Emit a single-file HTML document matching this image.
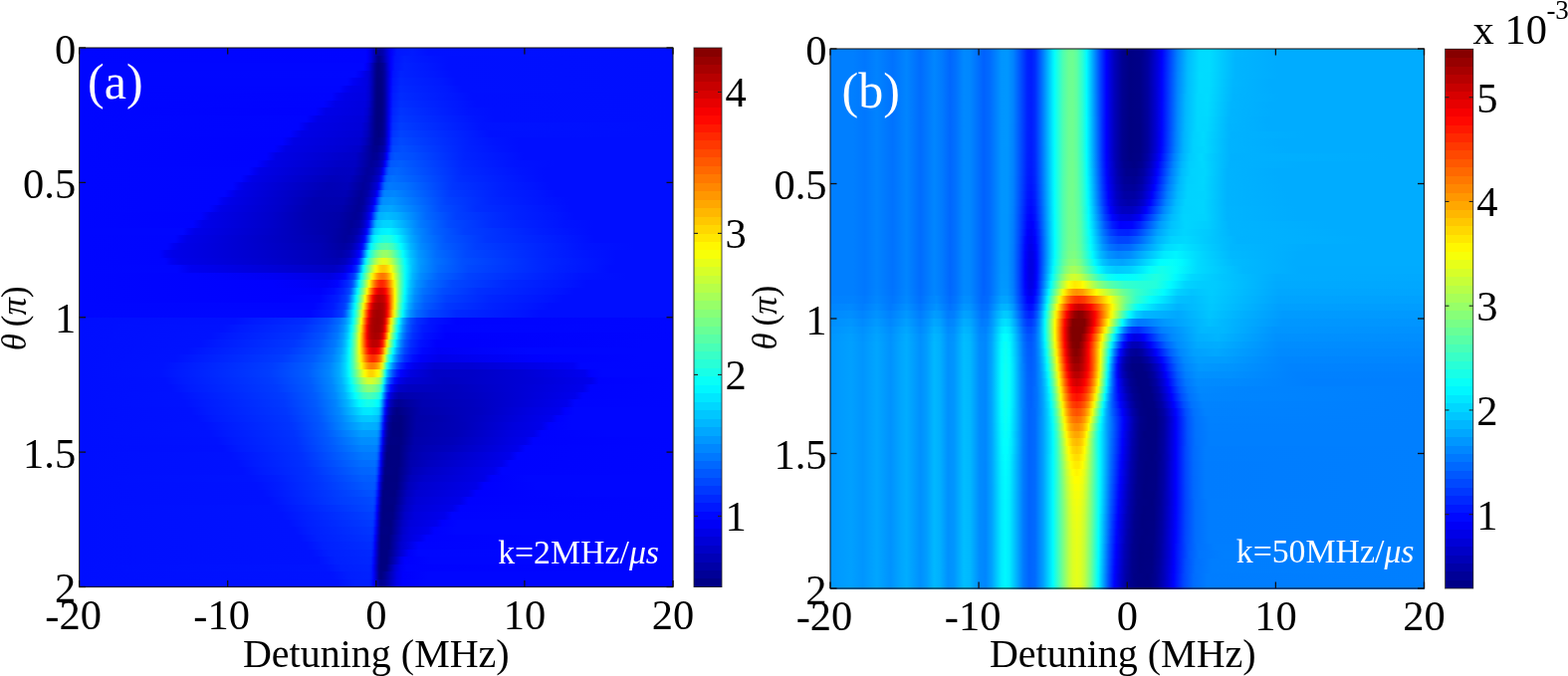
<!DOCTYPE html>
<html><head><meta charset="utf-8"><style>
html,body{margin:0;padding:0;background:#fff;width:1575px;height:679px;overflow:hidden}
svg{display:block}
text{font-family:"Liberation Serif","Times New Roman",serif;fill:#000}
.tk{font-size:42.5px}
.lb{font-size:40px}
.yl{font-size:35px}
.pn{font-size:50px;fill:#fff}
.kt{font-size:33.8px;fill:#fff}
.it{font-style:italic}
</style></head><body>
<svg width="1575" height="679" viewBox="0 0 1575 679" shape-rendering="crispEdges">
<defs>
<linearGradient id="ga0"><stop offset="0.0017" stop-color="#0006ff"/><stop offset="0.4817" stop-color="#0004ff"/><stop offset="0.4850" stop-color="#0000fe"/><stop offset="0.4917" stop-color="#0000e0"/><stop offset="0.4983" stop-color="#0000b0"/><stop offset="0.5017" stop-color="#00009f"/><stop offset="0.5050" stop-color="#00009c"/><stop offset="0.5117" stop-color="#0000ae"/><stop offset="0.5250" stop-color="#0000fd"/><stop offset="0.5350" stop-color="#0017ff"/><stop offset="0.5617" stop-color="#001aff"/><stop offset="0.5883" stop-color="#0011ff"/><stop offset="0.9983" stop-color="#000eff"/></linearGradient>
<linearGradient id="ga1"><stop offset="0.0017" stop-color="#0006ff"/><stop offset="0.4817" stop-color="#0004ff"/><stop offset="0.4850" stop-color="#0000fe"/><stop offset="0.4917" stop-color="#0000e0"/><stop offset="0.5017" stop-color="#000091"/><stop offset="0.5050" stop-color="#000088"/><stop offset="0.5117" stop-color="#0000a5"/><stop offset="0.5250" stop-color="#0000ff"/><stop offset="0.5317" stop-color="#0014ff"/><stop offset="0.5483" stop-color="#001eff"/><stop offset="0.5783" stop-color="#0017ff"/><stop offset="0.6217" stop-color="#0010ff"/><stop offset="0.9983" stop-color="#000eff"/></linearGradient>
<linearGradient id="ga2"><stop offset="0.0017" stop-color="#0006ff"/><stop offset="0.4783" stop-color="#0006ff"/><stop offset="0.4817" stop-color="#0001ff"/><stop offset="0.4883" stop-color="#0000e4"/><stop offset="0.4983" stop-color="#000094"/><stop offset="0.5017" stop-color="#000083"/><stop offset="0.5050" stop-color="#000080"/><stop offset="0.5117" stop-color="#000092"/><stop offset="0.5150" stop-color="#0000a7"/><stop offset="0.5217" stop-color="#0000e7"/><stop offset="0.5250" stop-color="#0000ff"/><stop offset="0.5317" stop-color="#0016ff"/><stop offset="0.5483" stop-color="#0020ff"/><stop offset="0.5883" stop-color="#0018ff"/><stop offset="0.6217" stop-color="#0010ff"/><stop offset="0.9983" stop-color="#000eff"/></linearGradient>
<linearGradient id="ga3"><stop offset="0.0017" stop-color="#0006ff"/><stop offset="0.4650" stop-color="#0007ff"/><stop offset="0.4750" stop-color="#0000f6"/><stop offset="0.4883" stop-color="#0000d6"/><stop offset="0.4950" stop-color="#0000ab"/><stop offset="0.4983" stop-color="#000092"/><stop offset="0.5017" stop-color="#000081"/><stop offset="0.5083" stop-color="#000084"/><stop offset="0.5117" stop-color="#000090"/><stop offset="0.5150" stop-color="#0000a4"/><stop offset="0.5250" stop-color="#0000ff"/><stop offset="0.5283" stop-color="#0012ff"/><stop offset="0.5417" stop-color="#0022ff"/><stop offset="0.5983" stop-color="#0018ff"/><stop offset="0.6283" stop-color="#0010ff"/><stop offset="0.9983" stop-color="#000eff"/></linearGradient>
<linearGradient id="ga4"><stop offset="0.0017" stop-color="#0006ff"/><stop offset="0.4517" stop-color="#0006ff"/><stop offset="0.4617" stop-color="#0000f5"/><stop offset="0.4750" stop-color="#0000e9"/><stop offset="0.4850" stop-color="#0000e0"/><stop offset="0.4917" stop-color="#0000c2"/><stop offset="0.4983" stop-color="#000090"/><stop offset="0.5017" stop-color="#000080"/><stop offset="0.5083" stop-color="#000082"/><stop offset="0.5117" stop-color="#00008e"/><stop offset="0.5150" stop-color="#0000a3"/><stop offset="0.5217" stop-color="#0000e5"/><stop offset="0.5250" stop-color="#0003ff"/><stop offset="0.5283" stop-color="#0015ff"/><stop offset="0.5417" stop-color="#0025ff"/><stop offset="0.6083" stop-color="#0019ff"/><stop offset="0.6350" stop-color="#0010ff"/><stop offset="0.9983" stop-color="#000eff"/></linearGradient>
<linearGradient id="ga5"><stop offset="0.0017" stop-color="#0006ff"/><stop offset="0.4383" stop-color="#0005ff"/><stop offset="0.4483" stop-color="#0000f4"/><stop offset="0.4583" stop-color="#0000ea"/><stop offset="0.4817" stop-color="#0000e4"/><stop offset="0.4883" stop-color="#0000d2"/><stop offset="0.4950" stop-color="#0000a7"/><stop offset="0.4983" stop-color="#00008e"/><stop offset="0.5017" stop-color="#000080"/><stop offset="0.5083" stop-color="#000081"/><stop offset="0.5117" stop-color="#00008d"/><stop offset="0.5150" stop-color="#0000a2"/><stop offset="0.5217" stop-color="#0000e6"/><stop offset="0.5250" stop-color="#0006ff"/><stop offset="0.5283" stop-color="#0018ff"/><stop offset="0.5417" stop-color="#0028ff"/><stop offset="0.6183" stop-color="#0019ff"/><stop offset="0.6450" stop-color="#0010ff"/><stop offset="0.9983" stop-color="#000eff"/></linearGradient>
<linearGradient id="ga6"><stop offset="0.0017" stop-color="#0006ff"/><stop offset="0.4250" stop-color="#0004ff"/><stop offset="0.4350" stop-color="#0000f3"/><stop offset="0.4483" stop-color="#0000e8"/><stop offset="0.4817" stop-color="#0000e2"/><stop offset="0.4883" stop-color="#0000d1"/><stop offset="0.4950" stop-color="#0000a6"/><stop offset="0.4983" stop-color="#00008d"/><stop offset="0.5017" stop-color="#000080"/><stop offset="0.5083" stop-color="#000080"/><stop offset="0.5117" stop-color="#00008b"/><stop offset="0.5150" stop-color="#0000a1"/><stop offset="0.5217" stop-color="#0000e8"/><stop offset="0.5250" stop-color="#0009ff"/><stop offset="0.5283" stop-color="#001cff"/><stop offset="0.5417" stop-color="#002bff"/><stop offset="0.6317" stop-color="#0017ff"/><stop offset="0.6617" stop-color="#000fff"/><stop offset="0.9983" stop-color="#000eff"/></linearGradient>
<linearGradient id="ga7"><stop offset="0.0017" stop-color="#0006ff"/><stop offset="0.4117" stop-color="#0003ff"/><stop offset="0.4317" stop-color="#0000e8"/><stop offset="0.4817" stop-color="#0000de"/><stop offset="0.4883" stop-color="#0000cb"/><stop offset="0.4983" stop-color="#00008b"/><stop offset="0.5017" stop-color="#000080"/><stop offset="0.5083" stop-color="#000080"/><stop offset="0.5117" stop-color="#00008b"/><stop offset="0.5150" stop-color="#0000a1"/><stop offset="0.5217" stop-color="#0000ea"/><stop offset="0.5250" stop-color="#000cff"/><stop offset="0.5283" stop-color="#0020ff"/><stop offset="0.5417" stop-color="#002fff"/><stop offset="0.6417" stop-color="#0017ff"/><stop offset="0.6683" stop-color="#000fff"/><stop offset="0.9983" stop-color="#000eff"/></linearGradient>
<linearGradient id="ga8"><stop offset="0.0017" stop-color="#0006ff"/><stop offset="0.3983" stop-color="#0002ff"/><stop offset="0.4150" stop-color="#0000e8"/><stop offset="0.4783" stop-color="#0000de"/><stop offset="0.4850" stop-color="#0000d1"/><stop offset="0.4917" stop-color="#0000b1"/><stop offset="0.4983" stop-color="#000089"/><stop offset="0.5017" stop-color="#000080"/><stop offset="0.5083" stop-color="#000081"/><stop offset="0.5117" stop-color="#00008c"/><stop offset="0.5150" stop-color="#0000a2"/><stop offset="0.5217" stop-color="#0000ed"/><stop offset="0.5250" stop-color="#0010ff"/><stop offset="0.5283" stop-color="#0024ff"/><stop offset="0.5417" stop-color="#0034ff"/><stop offset="0.6550" stop-color="#0014ff"/><stop offset="0.6983" stop-color="#000fff"/><stop offset="0.9983" stop-color="#000eff"/></linearGradient>
<linearGradient id="ga9"><stop offset="0.0017" stop-color="#0006ff"/><stop offset="0.3817" stop-color="#0004ff"/><stop offset="0.3917" stop-color="#0000f5"/><stop offset="0.4017" stop-color="#0000e7"/><stop offset="0.4783" stop-color="#0000da"/><stop offset="0.4850" stop-color="#0000cb"/><stop offset="0.4983" stop-color="#000088"/><stop offset="0.5017" stop-color="#000080"/><stop offset="0.5083" stop-color="#000082"/><stop offset="0.5117" stop-color="#00008d"/><stop offset="0.5150" stop-color="#0000a3"/><stop offset="0.5217" stop-color="#0000f1"/><stop offset="0.5250" stop-color="#0014ff"/><stop offset="0.5283" stop-color="#0029ff"/><stop offset="0.5417" stop-color="#0038ff"/><stop offset="0.6650" stop-color="#0015ff"/><stop offset="0.6983" stop-color="#000fff"/><stop offset="0.9983" stop-color="#000eff"/></linearGradient>
<linearGradient id="ga10"><stop offset="0.0017" stop-color="#0006ff"/><stop offset="0.3683" stop-color="#0004ff"/><stop offset="0.3783" stop-color="#0000f3"/><stop offset="0.3883" stop-color="#0000e6"/><stop offset="0.4750" stop-color="#0000d9"/><stop offset="0.4850" stop-color="#0000c4"/><stop offset="0.4983" stop-color="#000088"/><stop offset="0.5017" stop-color="#000080"/><stop offset="0.5083" stop-color="#000084"/><stop offset="0.5117" stop-color="#00008f"/><stop offset="0.5150" stop-color="#0000a5"/><stop offset="0.5217" stop-color="#0000f4"/><stop offset="0.5250" stop-color="#0019ff"/><stop offset="0.5283" stop-color="#002eff"/><stop offset="0.5417" stop-color="#003dff"/><stop offset="0.6783" stop-color="#0013ff"/><stop offset="0.9983" stop-color="#000eff"/></linearGradient>
<linearGradient id="ga11"><stop offset="0.0017" stop-color="#0006ff"/><stop offset="0.3550" stop-color="#0003ff"/><stop offset="0.3750" stop-color="#0000e6"/><stop offset="0.4750" stop-color="#0000d4"/><stop offset="0.4850" stop-color="#0000bd"/><stop offset="0.4983" stop-color="#000087"/><stop offset="0.5050" stop-color="#000080"/><stop offset="0.5117" stop-color="#000092"/><stop offset="0.5150" stop-color="#0000a8"/><stop offset="0.5217" stop-color="#0000fa"/><stop offset="0.5250" stop-color="#0020ff"/><stop offset="0.5283" stop-color="#0035ff"/><stop offset="0.5417" stop-color="#0043ff"/><stop offset="0.6617" stop-color="#001cff"/><stop offset="0.6917" stop-color="#0011ff"/><stop offset="0.9983" stop-color="#000eff"/></linearGradient>
<linearGradient id="ga12"><stop offset="0.0017" stop-color="#0006ff"/><stop offset="0.3417" stop-color="#0002ff"/><stop offset="0.3617" stop-color="#0000e5"/><stop offset="0.4717" stop-color="#0000d1"/><stop offset="0.4817" stop-color="#0000be"/><stop offset="0.4983" stop-color="#000086"/><stop offset="0.5050" stop-color="#000087"/><stop offset="0.5117" stop-color="#000099"/><stop offset="0.5150" stop-color="#0000af"/><stop offset="0.5217" stop-color="#0003ff"/><stop offset="0.5250" stop-color="#0029ff"/><stop offset="0.5283" stop-color="#003eff"/><stop offset="0.5417" stop-color="#0049ff"/><stop offset="0.6583" stop-color="#001eff"/><stop offset="0.6983" stop-color="#0014ff"/><stop offset="0.7417" stop-color="#000eff"/><stop offset="0.9983" stop-color="#000eff"/></linearGradient>
<linearGradient id="ga13"><stop offset="0.0017" stop-color="#0006ff"/><stop offset="0.3283" stop-color="#0002ff"/><stop offset="0.3483" stop-color="#0000e5"/><stop offset="0.4483" stop-color="#0000d2"/><stop offset="0.4717" stop-color="#0000c9"/><stop offset="0.4950" stop-color="#00008f"/><stop offset="0.5017" stop-color="#00008c"/><stop offset="0.5117" stop-color="#0000a6"/><stop offset="0.5150" stop-color="#0000bc"/><stop offset="0.5183" stop-color="#0000e3"/><stop offset="0.5217" stop-color="#000fff"/><stop offset="0.5250" stop-color="#0033ff"/><stop offset="0.5283" stop-color="#0048ff"/><stop offset="0.5450" stop-color="#004fff"/><stop offset="0.6517" stop-color="#0021ff"/><stop offset="0.7083" stop-color="#0014ff"/><stop offset="0.7417" stop-color="#000eff"/><stop offset="0.9983" stop-color="#000eff"/></linearGradient>
<linearGradient id="ga14"><stop offset="0.0017" stop-color="#0006ff"/><stop offset="0.3150" stop-color="#0002ff"/><stop offset="0.3317" stop-color="#0000e6"/><stop offset="0.4383" stop-color="#0000cd"/><stop offset="0.4650" stop-color="#0000c8"/><stop offset="0.4817" stop-color="#0000ac"/><stop offset="0.4950" stop-color="#000092"/><stop offset="0.5017" stop-color="#000096"/><stop offset="0.5117" stop-color="#0000b7"/><stop offset="0.5150" stop-color="#0000d6"/><stop offset="0.5183" stop-color="#0001ff"/><stop offset="0.5217" stop-color="#002aff"/><stop offset="0.5250" stop-color="#0048ff"/><stop offset="0.5317" stop-color="#0055ff"/><stop offset="0.5617" stop-color="#004eff"/><stop offset="0.6483" stop-color="#0023ff"/><stop offset="0.7183" stop-color="#0015ff"/><stop offset="0.7483" stop-color="#000eff"/><stop offset="0.9983" stop-color="#000eff"/></linearGradient>
<linearGradient id="ga15"><stop offset="0.0017" stop-color="#0006ff"/><stop offset="0.2983" stop-color="#0004ff"/><stop offset="0.3083" stop-color="#0000f5"/><stop offset="0.3217" stop-color="#0000e5"/><stop offset="0.4350" stop-color="#0000c7"/><stop offset="0.4650" stop-color="#0000c3"/><stop offset="0.4917" stop-color="#000097"/><stop offset="0.5017" stop-color="#0000a2"/><stop offset="0.5083" stop-color="#0000b9"/><stop offset="0.5117" stop-color="#0000d1"/><stop offset="0.5150" stop-color="#0000f9"/><stop offset="0.5217" stop-color="#0048ff"/><stop offset="0.5250" stop-color="#0059ff"/><stop offset="0.5417" stop-color="#005eff"/><stop offset="0.6450" stop-color="#0027ff"/><stop offset="0.7317" stop-color="#0013ff"/><stop offset="0.8017" stop-color="#000eff"/><stop offset="0.9983" stop-color="#000eff"/></linearGradient>
<linearGradient id="ga16"><stop offset="0.0017" stop-color="#0006ff"/><stop offset="0.2850" stop-color="#0005ff"/><stop offset="0.2950" stop-color="#0000f4"/><stop offset="0.3050" stop-color="#0000e6"/><stop offset="0.4317" stop-color="#0000c1"/><stop offset="0.4617" stop-color="#0000c0"/><stop offset="0.4850" stop-color="#00009c"/><stop offset="0.4950" stop-color="#0000a0"/><stop offset="0.5050" stop-color="#0000be"/><stop offset="0.5083" stop-color="#0000d1"/><stop offset="0.5117" stop-color="#0000f6"/><stop offset="0.5150" stop-color="#0022ff"/><stop offset="0.5183" stop-color="#0048ff"/><stop offset="0.5217" stop-color="#0060ff"/><stop offset="0.5350" stop-color="#0067ff"/><stop offset="0.6450" stop-color="#0029ff"/><stop offset="0.7417" stop-color="#0014ff"/><stop offset="0.7850" stop-color="#000eff"/><stop offset="0.9983" stop-color="#000eff"/></linearGradient>
<linearGradient id="ga17"><stop offset="0.0017" stop-color="#0006ff"/><stop offset="0.2717" stop-color="#0005ff"/><stop offset="0.2817" stop-color="#0000f4"/><stop offset="0.2917" stop-color="#0000e7"/><stop offset="0.4250" stop-color="#0000bb"/><stop offset="0.4550" stop-color="#0000be"/><stop offset="0.4717" stop-color="#0000a8"/><stop offset="0.4817" stop-color="#00009b"/><stop offset="0.4917" stop-color="#0000a4"/><stop offset="0.5017" stop-color="#0000c3"/><stop offset="0.5050" stop-color="#0000d4"/><stop offset="0.5083" stop-color="#0000f6"/><stop offset="0.5117" stop-color="#0022ff"/><stop offset="0.5150" stop-color="#004bff"/><stop offset="0.5183" stop-color="#0066ff"/><stop offset="0.5283" stop-color="#0071ff"/><stop offset="0.5683" stop-color="#005bff"/><stop offset="0.6383" stop-color="#002eff"/><stop offset="0.7517" stop-color="#0014ff"/><stop offset="0.7850" stop-color="#000eff"/><stop offset="0.9983" stop-color="#000eff"/></linearGradient>
<linearGradient id="ga18"><stop offset="0.0017" stop-color="#0006ff"/><stop offset="0.2583" stop-color="#0005ff"/><stop offset="0.2683" stop-color="#0000f3"/><stop offset="0.2783" stop-color="#0000e7"/><stop offset="0.4183" stop-color="#0000b6"/><stop offset="0.4517" stop-color="#0000ba"/><stop offset="0.4783" stop-color="#000099"/><stop offset="0.4883" stop-color="#0000a6"/><stop offset="0.5017" stop-color="#0000d8"/><stop offset="0.5050" stop-color="#0000f8"/><stop offset="0.5117" stop-color="#004eff"/><stop offset="0.5150" stop-color="#006dff"/><stop offset="0.5217" stop-color="#007aff"/><stop offset="0.5483" stop-color="#0072ff"/><stop offset="0.6283" stop-color="#0035ff"/><stop offset="0.7183" stop-color="#001dff"/><stop offset="0.7617" stop-color="#0015ff"/><stop offset="0.7917" stop-color="#000eff"/><stop offset="0.9983" stop-color="#000eff"/></linearGradient>
<linearGradient id="ga19"><stop offset="0.0017" stop-color="#0006ff"/><stop offset="0.2450" stop-color="#0004ff"/><stop offset="0.2517" stop-color="#0000f9"/><stop offset="0.2650" stop-color="#0000e7"/><stop offset="0.3617" stop-color="#0000c4"/><stop offset="0.4083" stop-color="#0000b3"/><stop offset="0.4483" stop-color="#0000b5"/><stop offset="0.4750" stop-color="#000096"/><stop offset="0.4850" stop-color="#0000a5"/><stop offset="0.4983" stop-color="#0000de"/><stop offset="0.5017" stop-color="#0000fb"/><stop offset="0.5083" stop-color="#0054ff"/><stop offset="0.5117" stop-color="#0076ff"/><stop offset="0.5150" stop-color="#0083ff"/><stop offset="0.5317" stop-color="#0086ff"/><stop offset="0.6250" stop-color="#003aff"/><stop offset="0.7083" stop-color="#0020ff"/><stop offset="0.7717" stop-color="#0016ff"/><stop offset="0.8017" stop-color="#000eff"/><stop offset="0.9983" stop-color="#000eff"/></linearGradient>
<linearGradient id="ga20"><stop offset="0.0017" stop-color="#0006ff"/><stop offset="0.2317" stop-color="#0004ff"/><stop offset="0.2417" stop-color="#0000f2"/><stop offset="0.2550" stop-color="#0000e7"/><stop offset="0.3483" stop-color="#0000c7"/><stop offset="0.3950" stop-color="#0000b1"/><stop offset="0.4450" stop-color="#0000b0"/><stop offset="0.4717" stop-color="#000095"/><stop offset="0.4783" stop-color="#00009a"/><stop offset="0.4883" stop-color="#0000c1"/><stop offset="0.4950" stop-color="#0000e4"/><stop offset="0.4983" stop-color="#0002ff"/><stop offset="0.5050" stop-color="#005bff"/><stop offset="0.5083" stop-color="#0080ff"/><stop offset="0.5117" stop-color="#0090ff"/><stop offset="0.5283" stop-color="#0095ff"/><stop offset="0.6183" stop-color="#0042ff"/><stop offset="0.6917" stop-color="#0026ff"/><stop offset="0.7850" stop-color="#0014ff"/><stop offset="0.8250" stop-color="#000eff"/><stop offset="0.9983" stop-color="#000eff"/></linearGradient>
<linearGradient id="ga21"><stop offset="0.0017" stop-color="#0006ff"/><stop offset="0.2183" stop-color="#0004ff"/><stop offset="0.2383" stop-color="#0000e8"/><stop offset="0.3350" stop-color="#0000ca"/><stop offset="0.3850" stop-color="#0000b2"/><stop offset="0.4417" stop-color="#0000ac"/><stop offset="0.4683" stop-color="#000095"/><stop offset="0.4750" stop-color="#000099"/><stop offset="0.4817" stop-color="#0000ae"/><stop offset="0.4917" stop-color="#0000e8"/><stop offset="0.4950" stop-color="#0007ff"/><stop offset="0.5050" stop-color="#008cff"/><stop offset="0.5083" stop-color="#009fff"/><stop offset="0.5250" stop-color="#00a6ff"/><stop offset="0.5550" stop-color="#0087ff"/><stop offset="0.6083" stop-color="#004dff"/><stop offset="0.6683" stop-color="#002eff"/><stop offset="0.7950" stop-color="#0015ff"/><stop offset="0.8283" stop-color="#000eff"/><stop offset="0.9983" stop-color="#000eff"/></linearGradient>
<linearGradient id="ga22"><stop offset="0.0017" stop-color="#0006ff"/><stop offset="0.2050" stop-color="#0003ff"/><stop offset="0.2217" stop-color="#0000e9"/><stop offset="0.3250" stop-color="#0000cb"/><stop offset="0.3783" stop-color="#0000b3"/><stop offset="0.4383" stop-color="#0000a8"/><stop offset="0.4650" stop-color="#000095"/><stop offset="0.4750" stop-color="#0000a0"/><stop offset="0.4817" stop-color="#0000bf"/><stop offset="0.4883" stop-color="#0000ea"/><stop offset="0.4917" stop-color="#000bff"/><stop offset="0.4983" stop-color="#006dff"/><stop offset="0.5017" stop-color="#0097ff"/><stop offset="0.5050" stop-color="#00b0ff"/><stop offset="0.5183" stop-color="#00bcff"/><stop offset="0.5350" stop-color="#00b1ff"/><stop offset="0.5850" stop-color="#0068ff"/><stop offset="0.6350" stop-color="#003fff"/><stop offset="0.7350" stop-color="#0021ff"/><stop offset="0.8050" stop-color="#0015ff"/><stop offset="0.8350" stop-color="#000eff"/><stop offset="0.9983" stop-color="#000eff"/></linearGradient>
<linearGradient id="ga23"><stop offset="0.0017" stop-color="#0006ff"/><stop offset="0.1917" stop-color="#0003ff"/><stop offset="0.2083" stop-color="#0000e9"/><stop offset="0.3217" stop-color="#0000ca"/><stop offset="0.3850" stop-color="#0000b3"/><stop offset="0.4350" stop-color="#0000a6"/><stop offset="0.4583" stop-color="#000096"/><stop offset="0.4717" stop-color="#0000a4"/><stop offset="0.4783" stop-color="#0000bf"/><stop offset="0.4850" stop-color="#0000eb"/><stop offset="0.4883" stop-color="#000eff"/><stop offset="0.4983" stop-color="#00a5ff"/><stop offset="0.5017" stop-color="#00c0ff"/><stop offset="0.5117" stop-color="#00d3ff"/><stop offset="0.5250" stop-color="#00d4ff"/><stop offset="0.5450" stop-color="#00b1ff"/><stop offset="0.5750" stop-color="#007aff"/><stop offset="0.6217" stop-color="#004bff"/><stop offset="0.6950" stop-color="#002cff"/><stop offset="0.8183" stop-color="#0013ff"/><stop offset="0.8683" stop-color="#000eff"/><stop offset="0.9983" stop-color="#000eff"/></linearGradient>
<linearGradient id="ga24"><stop offset="0.0017" stop-color="#0006ff"/><stop offset="0.1750" stop-color="#0006ff"/><stop offset="0.1850" stop-color="#0000f5"/><stop offset="0.1950" stop-color="#0000e9"/><stop offset="0.3150" stop-color="#0000ca"/><stop offset="0.4283" stop-color="#0000a7"/><stop offset="0.4550" stop-color="#000098"/><stop offset="0.4683" stop-color="#0000a9"/><stop offset="0.4750" stop-color="#0000c2"/><stop offset="0.4817" stop-color="#0000ec"/><stop offset="0.4850" stop-color="#000fff"/><stop offset="0.4950" stop-color="#00b3ff"/><stop offset="0.4983" stop-color="#00d3ff"/><stop offset="0.5083" stop-color="#00f0ff"/><stop offset="0.5217" stop-color="#00f7ff"/><stop offset="0.5350" stop-color="#00dfff"/><stop offset="0.5650" stop-color="#0091ff"/><stop offset="0.5983" stop-color="#0063ff"/><stop offset="0.6483" stop-color="#003fff"/><stop offset="0.7750" stop-color="#001eff"/><stop offset="0.8283" stop-color="#0014ff"/><stop offset="0.8650" stop-color="#000eff"/><stop offset="0.9983" stop-color="#000eff"/></linearGradient>
<linearGradient id="ga25"><stop offset="0.0017" stop-color="#0006ff"/><stop offset="0.1617" stop-color="#0005ff"/><stop offset="0.1717" stop-color="#0000f4"/><stop offset="0.1817" stop-color="#0000e8"/><stop offset="0.4117" stop-color="#0000b0"/><stop offset="0.4483" stop-color="#00009a"/><stop offset="0.4617" stop-color="#0000a6"/><stop offset="0.4717" stop-color="#0000c9"/><stop offset="0.4783" stop-color="#0000ee"/><stop offset="0.4817" stop-color="#0011ff"/><stop offset="0.4850" stop-color="#0048ff"/><stop offset="0.4917" stop-color="#00c1ff"/><stop offset="0.4950" stop-color="#00e7ff"/><stop offset="0.4983" stop-color="#00f8ff"/><stop offset="0.5050" stop-color="#13ffec"/><stop offset="0.5150" stop-color="#24ffdb"/><stop offset="0.5250" stop-color="#1cffe3"/><stop offset="0.5350" stop-color="#00fdff"/><stop offset="0.5583" stop-color="#00aaff"/><stop offset="0.5783" stop-color="#0080ff"/><stop offset="0.6183" stop-color="#0055ff"/><stop offset="0.6850" stop-color="#0035ff"/><stop offset="0.8383" stop-color="#0015ff"/><stop offset="0.8683" stop-color="#000eff"/><stop offset="0.9983" stop-color="#000eff"/></linearGradient>
<linearGradient id="ga26"><stop offset="0.0017" stop-color="#0006ff"/><stop offset="0.1483" stop-color="#0005ff"/><stop offset="0.1583" stop-color="#0000f4"/><stop offset="0.1717" stop-color="#0000e8"/><stop offset="0.4050" stop-color="#0000b5"/><stop offset="0.4450" stop-color="#0000a1"/><stop offset="0.4583" stop-color="#0000ae"/><stop offset="0.4683" stop-color="#0000d2"/><stop offset="0.4750" stop-color="#0000f4"/><stop offset="0.4783" stop-color="#0016ff"/><stop offset="0.4817" stop-color="#004eff"/><stop offset="0.4883" stop-color="#00ceff"/><stop offset="0.4917" stop-color="#00f9ff"/><stop offset="0.5017" stop-color="#37ffc8"/><stop offset="0.5083" stop-color="#50ffaf"/><stop offset="0.5183" stop-color="#58ffa7"/><stop offset="0.5283" stop-color="#3fffc0"/><stop offset="0.5417" stop-color="#00fdff"/><stop offset="0.5583" stop-color="#00b4ff"/><stop offset="0.5750" stop-color="#008bff"/><stop offset="0.6117" stop-color="#005eff"/><stop offset="0.6683" stop-color="#003eff"/><stop offset="0.8150" stop-color="#001cff"/><stop offset="0.8517" stop-color="#0013ff"/><stop offset="0.9350" stop-color="#000eff"/><stop offset="0.9983" stop-color="#000eff"/></linearGradient>
<linearGradient id="ga27"><stop offset="0.0017" stop-color="#0006ff"/><stop offset="0.1350" stop-color="#0004ff"/><stop offset="0.1450" stop-color="#0000f3"/><stop offset="0.1583" stop-color="#0000e8"/><stop offset="0.3083" stop-color="#0000cd"/><stop offset="0.4050" stop-color="#0000b9"/><stop offset="0.4417" stop-color="#0000aa"/><stop offset="0.4550" stop-color="#0000ba"/><stop offset="0.4650" stop-color="#0000de"/><stop offset="0.4717" stop-color="#0001ff"/><stop offset="0.4750" stop-color="#001fff"/><stop offset="0.4783" stop-color="#0057ff"/><stop offset="0.4850" stop-color="#00dcff"/><stop offset="0.4883" stop-color="#0dfff2"/><stop offset="0.4983" stop-color="#5fffa0"/><stop offset="0.5050" stop-color="#86ff79"/><stop offset="0.5117" stop-color="#99ff66"/><stop offset="0.5183" stop-color="#98ff67"/><stop offset="0.5250" stop-color="#82ff7d"/><stop offset="0.5383" stop-color="#30ffcf"/><stop offset="0.5450" stop-color="#04fffb"/><stop offset="0.5583" stop-color="#00bfff"/><stop offset="0.5717" stop-color="#0098ff"/><stop offset="0.6017" stop-color="#006cff"/><stop offset="0.6517" stop-color="#0048ff"/><stop offset="0.7917" stop-color="#0021ff"/><stop offset="0.8617" stop-color="#0014ff"/><stop offset="0.9050" stop-color="#000eff"/><stop offset="0.9983" stop-color="#000eff"/></linearGradient>
<linearGradient id="ga28"><stop offset="0.0017" stop-color="#0006ff"/><stop offset="0.1450" stop-color="#0004ff"/><stop offset="0.1550" stop-color="#0000f3"/><stop offset="0.1683" stop-color="#0000e8"/><stop offset="0.3217" stop-color="#0000cc"/><stop offset="0.4083" stop-color="#0000b9"/><stop offset="0.4350" stop-color="#0000b3"/><stop offset="0.4483" stop-color="#0000c0"/><stop offset="0.4583" stop-color="#0000dd"/><stop offset="0.4650" stop-color="#0000fb"/><stop offset="0.4683" stop-color="#000dff"/><stop offset="0.4717" stop-color="#002cff"/><stop offset="0.4750" stop-color="#0063ff"/><stop offset="0.4817" stop-color="#00eaff"/><stop offset="0.4850" stop-color="#1effe1"/><stop offset="0.4983" stop-color="#a4ff5b"/><stop offset="0.5050" stop-color="#d3ff2c"/><stop offset="0.5117" stop-color="#e7ff18"/><stop offset="0.5183" stop-color="#e0ff1f"/><stop offset="0.5250" stop-color="#bfff40"/><stop offset="0.5483" stop-color="#02fffd"/><stop offset="0.5583" stop-color="#00c9ff"/><stop offset="0.5717" stop-color="#009dff"/><stop offset="0.5983" stop-color="#0074ff"/><stop offset="0.6450" stop-color="#004fff"/><stop offset="0.7783" stop-color="#0026ff"/><stop offset="0.8717" stop-color="#0014ff"/><stop offset="0.9050" stop-color="#000eff"/><stop offset="0.9983" stop-color="#000eff"/></linearGradient>
<linearGradient id="ga29"><stop offset="0.0017" stop-color="#0006ff"/><stop offset="0.1650" stop-color="#0005ff"/><stop offset="0.1883" stop-color="#0000f0"/><stop offset="0.4283" stop-color="#0000c4"/><stop offset="0.4450" stop-color="#0000d5"/><stop offset="0.4583" stop-color="#0000ff"/><stop offset="0.4650" stop-color="#001fff"/><stop offset="0.4683" stop-color="#003fff"/><stop offset="0.4717" stop-color="#0074ff"/><stop offset="0.4783" stop-color="#00f4ff"/><stop offset="0.4817" stop-color="#27ffd8"/><stop offset="0.4950" stop-color="#ccff33"/><stop offset="0.4983" stop-color="#efff10"/><stop offset="0.5017" stop-color="#fff100"/><stop offset="0.5050" stop-color="#ffd900"/><stop offset="0.5083" stop-color="#ffcb00"/><stop offset="0.5117" stop-color="#ffc600"/><stop offset="0.5150" stop-color="#ffca00"/><stop offset="0.5183" stop-color="#ffd600"/><stop offset="0.5250" stop-color="#f8ff07"/><stop offset="0.5450" stop-color="#28ffd7"/><stop offset="0.5483" stop-color="#0cfff3"/><stop offset="0.5517" stop-color="#00f2ff"/><stop offset="0.5617" stop-color="#00bbff"/><stop offset="0.5750" stop-color="#0094ff"/><stop offset="0.6050" stop-color="#006aff"/><stop offset="0.6550" stop-color="#0048ff"/><stop offset="0.8017" stop-color="#0020ff"/><stop offset="0.8650" stop-color="#0015ff"/><stop offset="0.8950" stop-color="#000eff"/><stop offset="0.9983" stop-color="#000eff"/></linearGradient>
<linearGradient id="ga30"><stop offset="0.0017" stop-color="#0006ff"/><stop offset="0.1950" stop-color="#0003ff"/><stop offset="0.3283" stop-color="#0000f4"/><stop offset="0.4217" stop-color="#0000e2"/><stop offset="0.4417" stop-color="#0000f4"/><stop offset="0.4483" stop-color="#0004ff"/><stop offset="0.4617" stop-color="#0036ff"/><stop offset="0.4650" stop-color="#0054ff"/><stop offset="0.4683" stop-color="#0085ff"/><stop offset="0.4750" stop-color="#00f7ff"/><stop offset="0.4817" stop-color="#54ffab"/><stop offset="0.4917" stop-color="#e7ff18"/><stop offset="0.4950" stop-color="#ffe900"/><stop offset="0.5017" stop-color="#ff9e00"/><stop offset="0.5050" stop-color="#ff8500"/><stop offset="0.5083" stop-color="#ff7800"/><stop offset="0.5117" stop-color="#ff7600"/><stop offset="0.5150" stop-color="#ff7f00"/><stop offset="0.5183" stop-color="#ff9300"/><stop offset="0.5250" stop-color="#ffd500"/><stop offset="0.5283" stop-color="#fffe00"/><stop offset="0.5417" stop-color="#52ffad"/><stop offset="0.5483" stop-color="#0cfff3"/><stop offset="0.5517" stop-color="#00efff"/><stop offset="0.5617" stop-color="#00b4ff"/><stop offset="0.5750" stop-color="#008cff"/><stop offset="0.6050" stop-color="#0062ff"/><stop offset="0.6550" stop-color="#0041ff"/><stop offset="0.7983" stop-color="#001eff"/><stop offset="0.8483" stop-color="#0013ff"/><stop offset="0.9217" stop-color="#000eff"/><stop offset="0.9983" stop-color="#000eff"/></linearGradient>
<linearGradient id="ga31"><stop offset="0.0017" stop-color="#0006ff"/><stop offset="0.3217" stop-color="#0001ff"/><stop offset="0.4150" stop-color="#0000f5"/><stop offset="0.4350" stop-color="#0004ff"/><stop offset="0.4517" stop-color="#0028ff"/><stop offset="0.4583" stop-color="#0042ff"/><stop offset="0.4617" stop-color="#0060ff"/><stop offset="0.4650" stop-color="#008dff"/><stop offset="0.4717" stop-color="#00f8ff"/><stop offset="0.4783" stop-color="#55ffaa"/><stop offset="0.4883" stop-color="#faff05"/><stop offset="0.4950" stop-color="#ff9600"/><stop offset="0.4983" stop-color="#ff6900"/><stop offset="0.5017" stop-color="#ff4500"/><stop offset="0.5050" stop-color="#ff2c00"/><stop offset="0.5083" stop-color="#ff2300"/><stop offset="0.5117" stop-color="#ff2600"/><stop offset="0.5150" stop-color="#ff3600"/><stop offset="0.5183" stop-color="#ff5300"/><stop offset="0.5250" stop-color="#ffa900"/><stop offset="0.5283" stop-color="#ffdc00"/><stop offset="0.5317" stop-color="#ecff13"/><stop offset="0.5417" stop-color="#56ffa9"/><stop offset="0.5483" stop-color="#09fff6"/><stop offset="0.5517" stop-color="#00eaff"/><stop offset="0.5583" stop-color="#00bdff"/><stop offset="0.5683" stop-color="#0094ff"/><stop offset="0.5883" stop-color="#006dff"/><stop offset="0.6283" stop-color="#0047ff"/><stop offset="0.7217" stop-color="#0028ff"/><stop offset="0.8250" stop-color="#0015ff"/><stop offset="0.8550" stop-color="#000eff"/><stop offset="0.9983" stop-color="#000eff"/></linearGradient>
<linearGradient id="ga32"><stop offset="0.0017" stop-color="#0006ff"/><stop offset="0.3317" stop-color="#0001ff"/><stop offset="0.4050" stop-color="#0000fc"/><stop offset="0.4283" stop-color="#000bff"/><stop offset="0.4450" stop-color="#0025ff"/><stop offset="0.4550" stop-color="#0046ff"/><stop offset="0.4583" stop-color="#0063ff"/><stop offset="0.4650" stop-color="#00c1ff"/><stop offset="0.4683" stop-color="#00f4ff"/><stop offset="0.4717" stop-color="#23ffdc"/><stop offset="0.4783" stop-color="#87ff78"/><stop offset="0.4850" stop-color="#fffa00"/><stop offset="0.4917" stop-color="#ff7a00"/><stop offset="0.4950" stop-color="#ff4100"/><stop offset="0.4983" stop-color="#ff1200"/><stop offset="0.5017" stop-color="#f20000"/><stop offset="0.5050" stop-color="#e10000"/><stop offset="0.5083" stop-color="#dd0000"/><stop offset="0.5117" stop-color="#e50000"/><stop offset="0.5150" stop-color="#f90000"/><stop offset="0.5183" stop-color="#ff1e00"/><stop offset="0.5250" stop-color="#ff8700"/><stop offset="0.5317" stop-color="#fcff03"/><stop offset="0.5383" stop-color="#87ff78"/><stop offset="0.5450" stop-color="#28ffd7"/><stop offset="0.5483" stop-color="#02fffd"/><stop offset="0.5550" stop-color="#00c8ff"/><stop offset="0.5650" stop-color="#0095ff"/><stop offset="0.5783" stop-color="#0073ff"/><stop offset="0.6117" stop-color="#004cff"/><stop offset="0.6717" stop-color="#002fff"/><stop offset="0.8050" stop-color="#0015ff"/><stop offset="0.8350" stop-color="#000eff"/><stop offset="0.9983" stop-color="#000eff"/></linearGradient>
<linearGradient id="ga33"><stop offset="0.0017" stop-color="#0006ff"/><stop offset="0.3450" stop-color="#0001ff"/><stop offset="0.4050" stop-color="#0004ff"/><stop offset="0.4350" stop-color="#001dff"/><stop offset="0.4483" stop-color="#003aff"/><stop offset="0.4517" stop-color="#0048ff"/><stop offset="0.4550" stop-color="#0063ff"/><stop offset="0.4617" stop-color="#00bbff"/><stop offset="0.4650" stop-color="#00ebff"/><stop offset="0.4683" stop-color="#18ffe7"/><stop offset="0.4750" stop-color="#7eff81"/><stop offset="0.4817" stop-color="#fffd00"/><stop offset="0.4917" stop-color="#ff2b00"/><stop offset="0.4950" stop-color="#f40000"/><stop offset="0.4983" stop-color="#d10000"/><stop offset="0.5017" stop-color="#bf0000"/><stop offset="0.5050" stop-color="#b80000"/><stop offset="0.5117" stop-color="#c20000"/><stop offset="0.5150" stop-color="#d50000"/><stop offset="0.5183" stop-color="#fa0000"/><stop offset="0.5217" stop-color="#ff3300"/><stop offset="0.5317" stop-color="#ffff00"/><stop offset="0.5383" stop-color="#81ff7e"/><stop offset="0.5450" stop-color="#1effe1"/><stop offset="0.5483" stop-color="#00f6ff"/><stop offset="0.5550" stop-color="#00bdff"/><stop offset="0.5650" stop-color="#008bff"/><stop offset="0.5817" stop-color="#0064ff"/><stop offset="0.6183" stop-color="#003fff"/><stop offset="0.6917" stop-color="#0025ff"/><stop offset="0.7850" stop-color="#0015ff"/><stop offset="0.8150" stop-color="#000eff"/><stop offset="0.9983" stop-color="#000eff"/></linearGradient>
<linearGradient id="ga34"><stop offset="0.0017" stop-color="#0006ff"/><stop offset="0.3950" stop-color="#0005ff"/><stop offset="0.4283" stop-color="#001bff"/><stop offset="0.4450" stop-color="#003aff"/><stop offset="0.4483" stop-color="#0047ff"/><stop offset="0.4517" stop-color="#0062ff"/><stop offset="0.4583" stop-color="#00b2ff"/><stop offset="0.4617" stop-color="#00deff"/><stop offset="0.4650" stop-color="#08fff7"/><stop offset="0.4683" stop-color="#37ffc8"/><stop offset="0.4750" stop-color="#abff54"/><stop offset="0.4783" stop-color="#f1ff0e"/><stop offset="0.4817" stop-color="#ffc200"/><stop offset="0.4883" stop-color="#ff2a00"/><stop offset="0.4917" stop-color="#eb0000"/><stop offset="0.4950" stop-color="#c50000"/><stop offset="0.4983" stop-color="#b20000"/><stop offset="0.5050" stop-color="#a70000"/><stop offset="0.5117" stop-color="#b20000"/><stop offset="0.5150" stop-color="#c60000"/><stop offset="0.5183" stop-color="#ec0000"/><stop offset="0.5217" stop-color="#ff2a00"/><stop offset="0.5283" stop-color="#ffc000"/><stop offset="0.5317" stop-color="#f5ff0a"/><stop offset="0.5383" stop-color="#72ff8d"/><stop offset="0.5417" stop-color="#3cffc3"/><stop offset="0.5450" stop-color="#0efff1"/><stop offset="0.5483" stop-color="#00e7ff"/><stop offset="0.5550" stop-color="#00afff"/><stop offset="0.5650" stop-color="#007fff"/><stop offset="0.5817" stop-color="#005bff"/><stop offset="0.6183" stop-color="#0037ff"/><stop offset="0.6950" stop-color="#0021ff"/><stop offset="0.7650" stop-color="#0015ff"/><stop offset="0.7950" stop-color="#000eff"/><stop offset="0.9983" stop-color="#000eff"/></linearGradient>
<linearGradient id="ga35"><stop offset="0.0017" stop-color="#0006ff"/><stop offset="0.3883" stop-color="#0007ff"/><stop offset="0.4250" stop-color="#001dff"/><stop offset="0.4417" stop-color="#0039ff"/><stop offset="0.4450" stop-color="#0046ff"/><stop offset="0.4483" stop-color="#005eff"/><stop offset="0.4617" stop-color="#00f3ff"/><stop offset="0.4650" stop-color="#20ffdf"/><stop offset="0.4683" stop-color="#54ffab"/><stop offset="0.4750" stop-color="#d5ff2a"/><stop offset="0.4783" stop-color="#ffde00"/><stop offset="0.4850" stop-color="#ff4000"/><stop offset="0.4883" stop-color="#f70000"/><stop offset="0.4917" stop-color="#c90000"/><stop offset="0.4950" stop-color="#b00000"/><stop offset="0.5017" stop-color="#a10000"/><stop offset="0.5083" stop-color="#a50000"/><stop offset="0.5117" stop-color="#af0000"/><stop offset="0.5150" stop-color="#c50000"/><stop offset="0.5183" stop-color="#f20000"/><stop offset="0.5217" stop-color="#ff3800"/><stop offset="0.5283" stop-color="#ffd500"/><stop offset="0.5317" stop-color="#ddff22"/><stop offset="0.5383" stop-color="#5bffa4"/><stop offset="0.5417" stop-color="#26ffd9"/><stop offset="0.5450" stop-color="#00f9ff"/><stop offset="0.5517" stop-color="#00b7ff"/><stop offset="0.5583" stop-color="#008dff"/><stop offset="0.5683" stop-color="#006aff"/><stop offset="0.5917" stop-color="#0045ff"/><stop offset="0.6350" stop-color="#0029ff"/><stop offset="0.7450" stop-color="#0015ff"/><stop offset="0.7750" stop-color="#000eff"/><stop offset="0.9983" stop-color="#000eff"/></linearGradient>
<linearGradient id="ga36"><stop offset="0.0017" stop-color="#000eff"/><stop offset="0.2617" stop-color="#0011ff"/><stop offset="0.2917" stop-color="#001aff"/><stop offset="0.3817" stop-color="#002cff"/><stop offset="0.4183" stop-color="#0049ff"/><stop offset="0.4383" stop-color="#006cff"/><stop offset="0.4483" stop-color="#0092ff"/><stop offset="0.4550" stop-color="#00c1ff"/><stop offset="0.4583" stop-color="#00e1ff"/><stop offset="0.4617" stop-color="#0afff5"/><stop offset="0.4650" stop-color="#3affc5"/><stop offset="0.4683" stop-color="#73ff8c"/><stop offset="0.4750" stop-color="#fcff03"/><stop offset="0.4850" stop-color="#ff1500"/><stop offset="0.4883" stop-color="#d90000"/><stop offset="0.4917" stop-color="#b70000"/><stop offset="0.4950" stop-color="#a80000"/><stop offset="0.5017" stop-color="#9f0000"/><stop offset="0.5083" stop-color="#a50000"/><stop offset="0.5117" stop-color="#b30000"/><stop offset="0.5150" stop-color="#da0000"/><stop offset="0.5183" stop-color="#ff2f00"/><stop offset="0.5217" stop-color="#ff9200"/><stop offset="0.5250" stop-color="#ffe800"/><stop offset="0.5283" stop-color="#c8ff37"/><stop offset="0.5350" stop-color="#3dffc2"/><stop offset="0.5383" stop-color="#04fffb"/><stop offset="0.5450" stop-color="#00aaff"/><stop offset="0.5517" stop-color="#0070ff"/><stop offset="0.5583" stop-color="#004cff"/><stop offset="0.5683" stop-color="#002fff"/><stop offset="0.5917" stop-color="#0013ff"/><stop offset="0.6350" stop-color="#0003ff"/><stop offset="0.9983" stop-color="#0006ff"/></linearGradient>
<linearGradient id="ga37"><stop offset="0.0017" stop-color="#000eff"/><stop offset="0.2417" stop-color="#0012ff"/><stop offset="0.2717" stop-color="#001bff"/><stop offset="0.3750" stop-color="#0030ff"/><stop offset="0.4150" stop-color="#004eff"/><stop offset="0.4350" stop-color="#006fff"/><stop offset="0.4450" stop-color="#0091ff"/><stop offset="0.4517" stop-color="#00b9ff"/><stop offset="0.4583" stop-color="#00f8ff"/><stop offset="0.4617" stop-color="#24ffdb"/><stop offset="0.4650" stop-color="#57ffa8"/><stop offset="0.4717" stop-color="#d6ff29"/><stop offset="0.4750" stop-color="#ffdf00"/><stop offset="0.4817" stop-color="#ff4300"/><stop offset="0.4850" stop-color="#fa0000"/><stop offset="0.4883" stop-color="#ca0000"/><stop offset="0.4917" stop-color="#b10000"/><stop offset="0.4983" stop-color="#a10000"/><stop offset="0.5050" stop-color="#a30000"/><stop offset="0.5083" stop-color="#ac0000"/><stop offset="0.5117" stop-color="#c10000"/><stop offset="0.5150" stop-color="#f70000"/><stop offset="0.5183" stop-color="#ff5900"/><stop offset="0.5217" stop-color="#ffbf00"/><stop offset="0.5250" stop-color="#eaff15"/><stop offset="0.5317" stop-color="#59ffa6"/><stop offset="0.5350" stop-color="#1bffe4"/><stop offset="0.5383" stop-color="#00e6ff"/><stop offset="0.5450" stop-color="#0096ff"/><stop offset="0.5517" stop-color="#0062ff"/><stop offset="0.5617" stop-color="#0038ff"/><stop offset="0.5783" stop-color="#001aff"/><stop offset="0.6150" stop-color="#0004ff"/><stop offset="0.9983" stop-color="#0006ff"/></linearGradient>
<linearGradient id="ga38"><stop offset="0.0017" stop-color="#000eff"/><stop offset="0.2217" stop-color="#0012ff"/><stop offset="0.2550" stop-color="#001bff"/><stop offset="0.3683" stop-color="#0033ff"/><stop offset="0.4117" stop-color="#0053ff"/><stop offset="0.4350" stop-color="#0079ff"/><stop offset="0.4450" stop-color="#009eff"/><stop offset="0.4517" stop-color="#00c9ff"/><stop offset="0.4550" stop-color="#00e7ff"/><stop offset="0.4583" stop-color="#0dfff2"/><stop offset="0.4650" stop-color="#6dff92"/><stop offset="0.4717" stop-color="#ecff13"/><stop offset="0.4750" stop-color="#ffca00"/><stop offset="0.4817" stop-color="#ff3600"/><stop offset="0.4850" stop-color="#f50000"/><stop offset="0.4883" stop-color="#cc0000"/><stop offset="0.4917" stop-color="#b50000"/><stop offset="0.4983" stop-color="#a70000"/><stop offset="0.5050" stop-color="#af0000"/><stop offset="0.5083" stop-color="#c00000"/><stop offset="0.5117" stop-color="#e30000"/><stop offset="0.5150" stop-color="#ff3200"/><stop offset="0.5217" stop-color="#fffd00"/><stop offset="0.5283" stop-color="#6cff93"/><stop offset="0.5317" stop-color="#2dffd2"/><stop offset="0.5350" stop-color="#00f4ff"/><stop offset="0.5383" stop-color="#00c5ff"/><stop offset="0.5450" stop-color="#0080ff"/><stop offset="0.5517" stop-color="#0053ff"/><stop offset="0.5617" stop-color="#002fff"/><stop offset="0.5817" stop-color="#0011ff"/><stop offset="0.6183" stop-color="#0000fe"/><stop offset="0.9983" stop-color="#0006ff"/></linearGradient>
<linearGradient id="ga39"><stop offset="0.0017" stop-color="#000eff"/><stop offset="0.2017" stop-color="#0012ff"/><stop offset="0.2350" stop-color="#001bff"/><stop offset="0.3617" stop-color="#0037ff"/><stop offset="0.4050" stop-color="#0054ff"/><stop offset="0.4317" stop-color="#007bff"/><stop offset="0.4417" stop-color="#009aff"/><stop offset="0.4483" stop-color="#00beff"/><stop offset="0.4550" stop-color="#00f5ff"/><stop offset="0.4583" stop-color="#1bffe4"/><stop offset="0.4650" stop-color="#7bff84"/><stop offset="0.4717" stop-color="#f6ff09"/><stop offset="0.4750" stop-color="#ffc500"/><stop offset="0.4817" stop-color="#ff3f00"/><stop offset="0.4850" stop-color="#ff0600"/><stop offset="0.4883" stop-color="#dd0000"/><stop offset="0.4917" stop-color="#c60000"/><stop offset="0.4950" stop-color="#bc0000"/><stop offset="0.5017" stop-color="#bf0000"/><stop offset="0.5050" stop-color="#cd0000"/><stop offset="0.5083" stop-color="#eb0000"/><stop offset="0.5117" stop-color="#ff2400"/><stop offset="0.5150" stop-color="#ff8000"/><stop offset="0.5183" stop-color="#ffe700"/><stop offset="0.5217" stop-color="#bbff44"/><stop offset="0.5283" stop-color="#37ffc8"/><stop offset="0.5317" stop-color="#00fdff"/><stop offset="0.5350" stop-color="#00cdff"/><stop offset="0.5417" stop-color="#0084ff"/><stop offset="0.5483" stop-color="#0055ff"/><stop offset="0.5583" stop-color="#002dff"/><stop offset="0.5750" stop-color="#0011ff"/><stop offset="0.6017" stop-color="#0000fd"/><stop offset="0.6617" stop-color="#0000fd"/><stop offset="0.9517" stop-color="#0006ff"/><stop offset="0.9983" stop-color="#0006ff"/></linearGradient>
<linearGradient id="ga40"><stop offset="0.0017" stop-color="#000eff"/><stop offset="0.1817" stop-color="#0012ff"/><stop offset="0.2150" stop-color="#001bff"/><stop offset="0.3517" stop-color="#0039ff"/><stop offset="0.4017" stop-color="#0059ff"/><stop offset="0.4283" stop-color="#007eff"/><stop offset="0.4417" stop-color="#00a5ff"/><stop offset="0.4483" stop-color="#00c9ff"/><stop offset="0.4550" stop-color="#01fffe"/><stop offset="0.4617" stop-color="#50ffaf"/><stop offset="0.4683" stop-color="#b7ff48"/><stop offset="0.4717" stop-color="#f2ff0d"/><stop offset="0.4750" stop-color="#ffd000"/><stop offset="0.4817" stop-color="#ff5b00"/><stop offset="0.4850" stop-color="#ff2900"/><stop offset="0.4883" stop-color="#ff0400"/><stop offset="0.4917" stop-color="#ec0000"/><stop offset="0.4950" stop-color="#e20000"/><stop offset="0.4983" stop-color="#e40000"/><stop offset="0.5017" stop-color="#f10000"/><stop offset="0.5050" stop-color="#ff0c00"/><stop offset="0.5083" stop-color="#ff3700"/><stop offset="0.5117" stop-color="#ff7900"/><stop offset="0.5150" stop-color="#ffd600"/><stop offset="0.5183" stop-color="#c6ff39"/><stop offset="0.5217" stop-color="#74ff8b"/><stop offset="0.5283" stop-color="#01fffe"/><stop offset="0.5350" stop-color="#00a6ff"/><stop offset="0.5417" stop-color="#006bff"/><stop offset="0.5483" stop-color="#0044ff"/><stop offset="0.5583" stop-color="#0023ff"/><stop offset="0.5783" stop-color="#0006ff"/><stop offset="0.6050" stop-color="#0000f7"/><stop offset="0.7550" stop-color="#0006ff"/><stop offset="0.9983" stop-color="#0006ff"/></linearGradient>
<linearGradient id="ga41"><stop offset="0.0017" stop-color="#000eff"/><stop offset="0.1617" stop-color="#0012ff"/><stop offset="0.1950" stop-color="#001bff"/><stop offset="0.3417" stop-color="#003cff"/><stop offset="0.3950" stop-color="#005bff"/><stop offset="0.4250" stop-color="#0080ff"/><stop offset="0.4383" stop-color="#00a1ff"/><stop offset="0.4483" stop-color="#00d2ff"/><stop offset="0.4550" stop-color="#07fff8"/><stop offset="0.4617" stop-color="#51ffae"/><stop offset="0.4717" stop-color="#e3ff1c"/><stop offset="0.4750" stop-color="#ffe700"/><stop offset="0.4817" stop-color="#ff8600"/><stop offset="0.4850" stop-color="#ff5f00"/><stop offset="0.4883" stop-color="#ff4100"/><stop offset="0.4917" stop-color="#ff2f00"/><stop offset="0.4950" stop-color="#ff2900"/><stop offset="0.4983" stop-color="#ff3100"/><stop offset="0.5017" stop-color="#ff4400"/><stop offset="0.5050" stop-color="#ff6300"/><stop offset="0.5083" stop-color="#ff8d00"/><stop offset="0.5117" stop-color="#ffd200"/><stop offset="0.5150" stop-color="#d0ff2f"/><stop offset="0.5183" stop-color="#73ff8c"/><stop offset="0.5217" stop-color="#2dffd2"/><stop offset="0.5250" stop-color="#00f9ff"/><stop offset="0.5317" stop-color="#00a1ff"/><stop offset="0.5383" stop-color="#0064ff"/><stop offset="0.5483" stop-color="#002fff"/><stop offset="0.5617" stop-color="#000dff"/><stop offset="0.5750" stop-color="#0000fb"/><stop offset="0.6083" stop-color="#0000ea"/><stop offset="0.7750" stop-color="#0001ff"/><stop offset="0.9450" stop-color="#0006ff"/><stop offset="0.9983" stop-color="#0006ff"/></linearGradient>
<linearGradient id="ga42"><stop offset="0.0017" stop-color="#000eff"/><stop offset="0.1417" stop-color="#0012ff"/><stop offset="0.1750" stop-color="#001bff"/><stop offset="0.3250" stop-color="#003dff"/><stop offset="0.3883" stop-color="#005dff"/><stop offset="0.4217" stop-color="#0083ff"/><stop offset="0.4383" stop-color="#00aaff"/><stop offset="0.4483" stop-color="#00d8ff"/><stop offset="0.4517" stop-color="#00efff"/><stop offset="0.4550" stop-color="#0afff5"/><stop offset="0.4617" stop-color="#4dffb2"/><stop offset="0.4750" stop-color="#f6ff09"/><stop offset="0.4783" stop-color="#ffdf00"/><stop offset="0.4850" stop-color="#ff9d00"/><stop offset="0.4883" stop-color="#ff8800"/><stop offset="0.4917" stop-color="#ff7e00"/><stop offset="0.4950" stop-color="#ff7e00"/><stop offset="0.4983" stop-color="#ff8800"/><stop offset="0.5017" stop-color="#ff9d00"/><stop offset="0.5050" stop-color="#ffb900"/><stop offset="0.5083" stop-color="#ffe100"/><stop offset="0.5117" stop-color="#d4ff2b"/><stop offset="0.5183" stop-color="#1affe5"/><stop offset="0.5217" stop-color="#00deff"/><stop offset="0.5283" stop-color="#008bff"/><stop offset="0.5350" stop-color="#004dff"/><stop offset="0.5417" stop-color="#0027ff"/><stop offset="0.5517" stop-color="#0005ff"/><stop offset="0.5650" stop-color="#0000ed"/><stop offset="0.5983" stop-color="#0000d3"/><stop offset="0.6550" stop-color="#0000d4"/><stop offset="0.8317" stop-color="#0000f5"/><stop offset="0.8450" stop-color="#0005ff"/><stop offset="0.9983" stop-color="#0006ff"/></linearGradient>
<linearGradient id="ga43"><stop offset="0.0017" stop-color="#000eff"/><stop offset="0.1350" stop-color="#0012ff"/><stop offset="0.1683" stop-color="#001bff"/><stop offset="0.3217" stop-color="#003eff"/><stop offset="0.3850" stop-color="#005dff"/><stop offset="0.4217" stop-color="#0087ff"/><stop offset="0.4383" stop-color="#00acff"/><stop offset="0.4483" stop-color="#00d7ff"/><stop offset="0.4550" stop-color="#04fffb"/><stop offset="0.4650" stop-color="#60ff9f"/><stop offset="0.4783" stop-color="#e9ff16"/><stop offset="0.4817" stop-color="#fff900"/><stop offset="0.4883" stop-color="#ffd700"/><stop offset="0.4917" stop-color="#ffd200"/><stop offset="0.4950" stop-color="#ffd600"/><stop offset="0.5017" stop-color="#fff500"/><stop offset="0.5050" stop-color="#f0ff0f"/><stop offset="0.5083" stop-color="#caff35"/><stop offset="0.5117" stop-color="#7dff82"/><stop offset="0.5150" stop-color="#1fffe0"/><stop offset="0.5183" stop-color="#00caff"/><stop offset="0.5217" stop-color="#0098ff"/><stop offset="0.5283" stop-color="#0050ff"/><stop offset="0.5350" stop-color="#001eff"/><stop offset="0.5417" stop-color="#0002ff"/><stop offset="0.5583" stop-color="#0000e1"/><stop offset="0.5983" stop-color="#0000c6"/><stop offset="0.6617" stop-color="#0000c8"/><stop offset="0.7450" stop-color="#0000d5"/><stop offset="0.8517" stop-color="#0000ee"/><stop offset="0.8617" stop-color="#0001ff"/><stop offset="0.8817" stop-color="#0006ff"/><stop offset="0.9983" stop-color="#0006ff"/></linearGradient>
<linearGradient id="ga44"><stop offset="0.0017" stop-color="#000eff"/><stop offset="0.1450" stop-color="#0011ff"/><stop offset="0.1750" stop-color="#001bff"/><stop offset="0.3250" stop-color="#003cff"/><stop offset="0.3883" stop-color="#005cff"/><stop offset="0.4250" stop-color="#0088ff"/><stop offset="0.4417" stop-color="#00b1ff"/><stop offset="0.4517" stop-color="#00dfff"/><stop offset="0.4550" stop-color="#00f3ff"/><stop offset="0.4583" stop-color="#0cfff3"/><stop offset="0.4783" stop-color="#abff54"/><stop offset="0.4850" stop-color="#cdff32"/><stop offset="0.4917" stop-color="#d6ff29"/><stop offset="0.4983" stop-color="#c4ff3b"/><stop offset="0.5050" stop-color="#9eff61"/><stop offset="0.5083" stop-color="#78ff87"/><stop offset="0.5117" stop-color="#2dffd2"/><stop offset="0.5150" stop-color="#00d4ff"/><stop offset="0.5183" stop-color="#008aff"/><stop offset="0.5217" stop-color="#005dff"/><stop offset="0.5250" stop-color="#0039ff"/><stop offset="0.5317" stop-color="#0008ff"/><stop offset="0.5383" stop-color="#0000ea"/><stop offset="0.5517" stop-color="#0000d4"/><stop offset="0.6150" stop-color="#0000c1"/><stop offset="0.7683" stop-color="#0000d8"/><stop offset="0.8617" stop-color="#0000eb"/><stop offset="0.8750" stop-color="#0002ff"/><stop offset="0.9983" stop-color="#0006ff"/></linearGradient>
<linearGradient id="ga45"><stop offset="0.0017" stop-color="#000eff"/><stop offset="0.1550" stop-color="#0011ff"/><stop offset="0.1850" stop-color="#001bff"/><stop offset="0.3317" stop-color="#003bff"/><stop offset="0.3917" stop-color="#005bff"/><stop offset="0.4283" stop-color="#0089ff"/><stop offset="0.4450" stop-color="#00b4ff"/><stop offset="0.4583" stop-color="#00f5ff"/><stop offset="0.4617" stop-color="#0bfff4"/><stop offset="0.4783" stop-color="#70ff8f"/><stop offset="0.4850" stop-color="#86ff79"/><stop offset="0.4917" stop-color="#89ff76"/><stop offset="0.4983" stop-color="#79ff86"/><stop offset="0.5050" stop-color="#59ffa6"/><stop offset="0.5083" stop-color="#32ffcd"/><stop offset="0.5117" stop-color="#00e7ff"/><stop offset="0.5150" stop-color="#0095ff"/><stop offset="0.5183" stop-color="#0051ff"/><stop offset="0.5217" stop-color="#0028ff"/><stop offset="0.5250" stop-color="#0007ff"/><stop offset="0.5317" stop-color="#0000de"/><stop offset="0.5383" stop-color="#0000c9"/><stop offset="0.5550" stop-color="#0000c0"/><stop offset="0.6317" stop-color="#0000be"/><stop offset="0.8483" stop-color="#0000eb"/><stop offset="0.8617" stop-color="#0003ff"/><stop offset="0.9983" stop-color="#0006ff"/></linearGradient>
<linearGradient id="ga46"><stop offset="0.0017" stop-color="#000eff"/><stop offset="0.1683" stop-color="#0012ff"/><stop offset="0.2050" stop-color="#001cff"/><stop offset="0.3450" stop-color="#003cff"/><stop offset="0.3983" stop-color="#005dff"/><stop offset="0.4317" stop-color="#008aff"/><stop offset="0.4483" stop-color="#00b6ff"/><stop offset="0.4650" stop-color="#01fffe"/><stop offset="0.4783" stop-color="#3bffc4"/><stop offset="0.4883" stop-color="#4bffb4"/><stop offset="0.4983" stop-color="#3affc5"/><stop offset="0.5050" stop-color="#22ffdd"/><stop offset="0.5083" stop-color="#00f6ff"/><stop offset="0.5150" stop-color="#005fff"/><stop offset="0.5183" stop-color="#0022ff"/><stop offset="0.5217" stop-color="#0000f7"/><stop offset="0.5250" stop-color="#0000da"/><stop offset="0.5317" stop-color="#0000ba"/><stop offset="0.5383" stop-color="#0000ac"/><stop offset="0.5917" stop-color="#0000b7"/><stop offset="0.6650" stop-color="#0000c2"/><stop offset="0.8350" stop-color="#0000ec"/><stop offset="0.8483" stop-color="#0003ff"/><stop offset="0.9983" stop-color="#0006ff"/></linearGradient>
<linearGradient id="ga47"><stop offset="0.0017" stop-color="#000eff"/><stop offset="0.1783" stop-color="#0012ff"/><stop offset="0.2117" stop-color="#001bff"/><stop offset="0.3450" stop-color="#0039ff"/><stop offset="0.3983" stop-color="#005aff"/><stop offset="0.4317" stop-color="#0083ff"/><stop offset="0.4517" stop-color="#00b4ff"/><stop offset="0.4717" stop-color="#00fbff"/><stop offset="0.4850" stop-color="#16ffe9"/><stop offset="0.4950" stop-color="#10ffef"/><stop offset="0.5017" stop-color="#01fffe"/><stop offset="0.5050" stop-color="#00f3ff"/><stop offset="0.5083" stop-color="#00c5ff"/><stop offset="0.5150" stop-color="#0032ff"/><stop offset="0.5183" stop-color="#0000f9"/><stop offset="0.5217" stop-color="#0000cf"/><stop offset="0.5250" stop-color="#0000b8"/><stop offset="0.5317" stop-color="#00009d"/><stop offset="0.5383" stop-color="#000094"/><stop offset="0.5783" stop-color="#0000b1"/><stop offset="0.6583" stop-color="#0000be"/><stop offset="0.7950" stop-color="#0000e5"/><stop offset="0.8217" stop-color="#0000ed"/><stop offset="0.8350" stop-color="#0004ff"/><stop offset="0.9983" stop-color="#0006ff"/></linearGradient>
<linearGradient id="ga48"><stop offset="0.0017" stop-color="#000eff"/><stop offset="0.1883" stop-color="#0011ff"/><stop offset="0.2183" stop-color="#001bff"/><stop offset="0.3483" stop-color="#0037ff"/><stop offset="0.4017" stop-color="#0059ff"/><stop offset="0.4383" stop-color="#0089ff"/><stop offset="0.4783" stop-color="#00e7ff"/><stop offset="0.4917" stop-color="#00eaff"/><stop offset="0.5017" stop-color="#00dbff"/><stop offset="0.5050" stop-color="#00ceff"/><stop offset="0.5083" stop-color="#009dff"/><stop offset="0.5150" stop-color="#000eff"/><stop offset="0.5183" stop-color="#0000d9"/><stop offset="0.5217" stop-color="#0000b1"/><stop offset="0.5283" stop-color="#000092"/><stop offset="0.5350" stop-color="#000083"/><stop offset="0.5517" stop-color="#000093"/><stop offset="0.5750" stop-color="#0000ac"/><stop offset="0.6717" stop-color="#0000c0"/><stop offset="0.7550" stop-color="#0000df"/><stop offset="0.8083" stop-color="#0000ed"/><stop offset="0.8183" stop-color="#0000ff"/><stop offset="0.8350" stop-color="#0006ff"/><stop offset="0.9983" stop-color="#0006ff"/></linearGradient>
<linearGradient id="ga49"><stop offset="0.0017" stop-color="#000eff"/><stop offset="0.1983" stop-color="#0011ff"/><stop offset="0.2283" stop-color="#001bff"/><stop offset="0.3517" stop-color="#0035ff"/><stop offset="0.4050" stop-color="#0058ff"/><stop offset="0.4417" stop-color="#0087ff"/><stop offset="0.4750" stop-color="#00c6ff"/><stop offset="0.4917" stop-color="#00caff"/><stop offset="0.5017" stop-color="#00c0ff"/><stop offset="0.5050" stop-color="#00b0ff"/><stop offset="0.5083" stop-color="#007bff"/><stop offset="0.5117" stop-color="#0035ff"/><stop offset="0.5150" stop-color="#0000f0"/><stop offset="0.5183" stop-color="#0000c0"/><stop offset="0.5217" stop-color="#00009e"/><stop offset="0.5283" stop-color="#000085"/><stop offset="0.5417" stop-color="#000080"/><stop offset="0.5683" stop-color="#0000a7"/><stop offset="0.6083" stop-color="#0000af"/><stop offset="0.6650" stop-color="#0000c0"/><stop offset="0.7483" stop-color="#0000e0"/><stop offset="0.7950" stop-color="#0000ee"/><stop offset="0.8050" stop-color="#0001ff"/><stop offset="0.8283" stop-color="#0006ff"/><stop offset="0.9983" stop-color="#0006ff"/></linearGradient>
<linearGradient id="ga50"><stop offset="0.0017" stop-color="#000eff"/><stop offset="0.2117" stop-color="#0012ff"/><stop offset="0.2483" stop-color="#001cff"/><stop offset="0.3583" stop-color="#0035ff"/><stop offset="0.4117" stop-color="#005aff"/><stop offset="0.4550" stop-color="#0093ff"/><stop offset="0.4783" stop-color="#00b1ff"/><stop offset="0.4983" stop-color="#00aeff"/><stop offset="0.5017" stop-color="#00aaff"/><stop offset="0.5050" stop-color="#0096ff"/><stop offset="0.5083" stop-color="#005fff"/><stop offset="0.5117" stop-color="#0019ff"/><stop offset="0.5150" stop-color="#0000da"/><stop offset="0.5183" stop-color="#0000af"/><stop offset="0.5217" stop-color="#000092"/><stop offset="0.5283" stop-color="#000080"/><stop offset="0.5417" stop-color="#000080"/><stop offset="0.5683" stop-color="#0000a8"/><stop offset="0.6483" stop-color="#0000ba"/><stop offset="0.7317" stop-color="#0000de"/><stop offset="0.7783" stop-color="#0000ea"/><stop offset="0.7917" stop-color="#0001ff"/><stop offset="0.8283" stop-color="#0006ff"/><stop offset="0.9983" stop-color="#0006ff"/></linearGradient>
<linearGradient id="ga51"><stop offset="0.0017" stop-color="#000eff"/><stop offset="0.2217" stop-color="#0012ff"/><stop offset="0.2517" stop-color="#001bff"/><stop offset="0.3617" stop-color="#0033ff"/><stop offset="0.4150" stop-color="#0059ff"/><stop offset="0.4750" stop-color="#009cff"/><stop offset="0.4983" stop-color="#009cff"/><stop offset="0.5017" stop-color="#0099ff"/><stop offset="0.5050" stop-color="#007eff"/><stop offset="0.5083" stop-color="#0045ff"/><stop offset="0.5117" stop-color="#0001ff"/><stop offset="0.5150" stop-color="#0000c8"/><stop offset="0.5183" stop-color="#0000a0"/><stop offset="0.5217" stop-color="#00008a"/><stop offset="0.5283" stop-color="#000080"/><stop offset="0.5417" stop-color="#000080"/><stop offset="0.5650" stop-color="#0000a7"/><stop offset="0.5950" stop-color="#0000b0"/><stop offset="0.6350" stop-color="#0000b7"/><stop offset="0.7250" stop-color="#0000df"/><stop offset="0.7650" stop-color="#0000ea"/><stop offset="0.7783" stop-color="#0002ff"/><stop offset="0.8917" stop-color="#0006ff"/><stop offset="0.9983" stop-color="#0006ff"/></linearGradient>
<linearGradient id="ga52"><stop offset="0.0017" stop-color="#000eff"/><stop offset="0.2317" stop-color="#0011ff"/><stop offset="0.2617" stop-color="#001bff"/><stop offset="0.3650" stop-color="#0032ff"/><stop offset="0.4217" stop-color="#005aff"/><stop offset="0.4750" stop-color="#008dff"/><stop offset="0.4983" stop-color="#008eff"/><stop offset="0.5017" stop-color="#008aff"/><stop offset="0.5050" stop-color="#0069ff"/><stop offset="0.5083" stop-color="#002dff"/><stop offset="0.5117" stop-color="#0000ea"/><stop offset="0.5150" stop-color="#0000b8"/><stop offset="0.5183" stop-color="#000094"/><stop offset="0.5217" stop-color="#000084"/><stop offset="0.5417" stop-color="#000082"/><stop offset="0.5650" stop-color="#0000ab"/><stop offset="0.5950" stop-color="#0000b2"/><stop offset="0.6283" stop-color="#0000b9"/><stop offset="0.7283" stop-color="#0000e3"/><stop offset="0.7517" stop-color="#0000eb"/><stop offset="0.7650" stop-color="#0002ff"/><stop offset="0.9983" stop-color="#0006ff"/></linearGradient>
<linearGradient id="ga53"><stop offset="0.0017" stop-color="#000eff"/><stop offset="0.2417" stop-color="#0010ff"/><stop offset="0.2717" stop-color="#001bff"/><stop offset="0.3683" stop-color="#0031ff"/><stop offset="0.4283" stop-color="#005bff"/><stop offset="0.4750" stop-color="#0081ff"/><stop offset="0.4983" stop-color="#0082ff"/><stop offset="0.5017" stop-color="#007bff"/><stop offset="0.5050" stop-color="#0055ff"/><stop offset="0.5083" stop-color="#0017ff"/><stop offset="0.5117" stop-color="#0000d6"/><stop offset="0.5150" stop-color="#0000a9"/><stop offset="0.5183" stop-color="#000089"/><stop offset="0.5217" stop-color="#000080"/><stop offset="0.5383" stop-color="#000080"/><stop offset="0.5617" stop-color="#0000ab"/><stop offset="0.5850" stop-color="#0000b5"/><stop offset="0.6250" stop-color="#0000be"/><stop offset="0.7383" stop-color="#0000eb"/><stop offset="0.7517" stop-color="#0003ff"/><stop offset="0.9983" stop-color="#0006ff"/></linearGradient>
<linearGradient id="ga54"><stop offset="0.0017" stop-color="#000eff"/><stop offset="0.2550" stop-color="#0012ff"/><stop offset="0.2883" stop-color="#001bff"/><stop offset="0.3750" stop-color="#0031ff"/><stop offset="0.4783" stop-color="#0077ff"/><stop offset="0.4983" stop-color="#0078ff"/><stop offset="0.5017" stop-color="#006cff"/><stop offset="0.5050" stop-color="#0041ff"/><stop offset="0.5083" stop-color="#0002ff"/><stop offset="0.5117" stop-color="#0000c4"/><stop offset="0.5150" stop-color="#00009c"/><stop offset="0.5183" stop-color="#000080"/><stop offset="0.5383" stop-color="#000080"/><stop offset="0.5583" stop-color="#0000aa"/><stop offset="0.5783" stop-color="#0000b7"/><stop offset="0.7250" stop-color="#0000eb"/><stop offset="0.7383" stop-color="#0003ff"/><stop offset="0.9983" stop-color="#0006ff"/></linearGradient>
<linearGradient id="ga55"><stop offset="0.0017" stop-color="#000eff"/><stop offset="0.2650" stop-color="#0011ff"/><stop offset="0.2950" stop-color="#001bff"/><stop offset="0.3783" stop-color="#0030ff"/><stop offset="0.4750" stop-color="#006dff"/><stop offset="0.4983" stop-color="#006fff"/><stop offset="0.5017" stop-color="#005dff"/><stop offset="0.5050" stop-color="#002eff"/><stop offset="0.5083" stop-color="#0000ee"/><stop offset="0.5117" stop-color="#0000b5"/><stop offset="0.5150" stop-color="#00008f"/><stop offset="0.5183" stop-color="#000080"/><stop offset="0.5383" stop-color="#000082"/><stop offset="0.5583" stop-color="#0000ae"/><stop offset="0.5917" stop-color="#0000c1"/><stop offset="0.7117" stop-color="#0000eb"/><stop offset="0.7250" stop-color="#0003ff"/><stop offset="0.9983" stop-color="#0006ff"/></linearGradient>
<linearGradient id="ga56"><stop offset="0.0017" stop-color="#000eff"/><stop offset="0.2750" stop-color="#0011ff"/><stop offset="0.3050" stop-color="#001bff"/><stop offset="0.3850" stop-color="#0030ff"/><stop offset="0.4750" stop-color="#0064ff"/><stop offset="0.4983" stop-color="#0066ff"/><stop offset="0.5017" stop-color="#004eff"/><stop offset="0.5050" stop-color="#001bff"/><stop offset="0.5083" stop-color="#0000db"/><stop offset="0.5117" stop-color="#0000a7"/><stop offset="0.5150" stop-color="#000084"/><stop offset="0.5350" stop-color="#000080"/><stop offset="0.5617" stop-color="#0000b7"/><stop offset="0.5883" stop-color="#0000c7"/><stop offset="0.6983" stop-color="#0000ec"/><stop offset="0.7117" stop-color="#0003ff"/><stop offset="0.9983" stop-color="#0006ff"/></linearGradient>
<linearGradient id="ga57"><stop offset="0.0017" stop-color="#000eff"/><stop offset="0.2883" stop-color="#0013ff"/><stop offset="0.3317" stop-color="#001dff"/><stop offset="0.4050" stop-color="#0037ff"/><stop offset="0.4783" stop-color="#005dff"/><stop offset="0.4983" stop-color="#005cff"/><stop offset="0.5017" stop-color="#003eff"/><stop offset="0.5050" stop-color="#0008ff"/><stop offset="0.5083" stop-color="#0000c9"/><stop offset="0.5117" stop-color="#000099"/><stop offset="0.5150" stop-color="#000080"/><stop offset="0.5350" stop-color="#000080"/><stop offset="0.5583" stop-color="#0000ba"/><stop offset="0.5817" stop-color="#0000cb"/><stop offset="0.6817" stop-color="#0000e7"/><stop offset="0.6950" stop-color="#0000fe"/><stop offset="0.7550" stop-color="#0006ff"/><stop offset="0.9983" stop-color="#0006ff"/></linearGradient>
<linearGradient id="ga58"><stop offset="0.0017" stop-color="#000eff"/><stop offset="0.2983" stop-color="#0012ff"/><stop offset="0.3350" stop-color="#001cff"/><stop offset="0.4083" stop-color="#0036ff"/><stop offset="0.4817" stop-color="#0057ff"/><stop offset="0.4950" stop-color="#0058ff"/><stop offset="0.4983" stop-color="#0052ff"/><stop offset="0.5017" stop-color="#002eff"/><stop offset="0.5050" stop-color="#0000f5"/><stop offset="0.5083" stop-color="#0000b8"/><stop offset="0.5117" stop-color="#00008d"/><stop offset="0.5150" stop-color="#000080"/><stop offset="0.5350" stop-color="#000082"/><stop offset="0.5550" stop-color="#0000bb"/><stop offset="0.5750" stop-color="#0000cf"/><stop offset="0.6683" stop-color="#0000e8"/><stop offset="0.6817" stop-color="#0000ff"/><stop offset="0.7717" stop-color="#0006ff"/><stop offset="0.9983" stop-color="#0006ff"/></linearGradient>
<linearGradient id="ga59"><stop offset="0.0017" stop-color="#000eff"/><stop offset="0.3083" stop-color="#0011ff"/><stop offset="0.3417" stop-color="#001cff"/><stop offset="0.4183" stop-color="#0037ff"/><stop offset="0.4883" stop-color="#0051ff"/><stop offset="0.4950" stop-color="#0051ff"/><stop offset="0.4983" stop-color="#0046ff"/><stop offset="0.5017" stop-color="#001eff"/><stop offset="0.5050" stop-color="#0000e3"/><stop offset="0.5083" stop-color="#0000a8"/><stop offset="0.5117" stop-color="#000081"/><stop offset="0.5317" stop-color="#000080"/><stop offset="0.5517" stop-color="#0000bb"/><stop offset="0.5683" stop-color="#0000d1"/><stop offset="0.6550" stop-color="#0000e8"/><stop offset="0.6683" stop-color="#0000ff"/><stop offset="0.8683" stop-color="#0006ff"/><stop offset="0.9983" stop-color="#0006ff"/></linearGradient>
<linearGradient id="ga60"><stop offset="0.0017" stop-color="#000eff"/><stop offset="0.3183" stop-color="#0011ff"/><stop offset="0.3483" stop-color="#001cff"/><stop offset="0.4383" stop-color="#003cff"/><stop offset="0.4950" stop-color="#004aff"/><stop offset="0.4983" stop-color="#003bff"/><stop offset="0.5017" stop-color="#000eff"/><stop offset="0.5050" stop-color="#0000d2"/><stop offset="0.5083" stop-color="#00009d"/><stop offset="0.5117" stop-color="#000080"/><stop offset="0.5317" stop-color="#000084"/><stop offset="0.5517" stop-color="#0000c2"/><stop offset="0.5683" stop-color="#0000d6"/><stop offset="0.6417" stop-color="#0000e9"/><stop offset="0.6550" stop-color="#0001ff"/><stop offset="0.9983" stop-color="#0006ff"/></linearGradient>
<linearGradient id="ga61"><stop offset="0.0017" stop-color="#000eff"/><stop offset="0.3317" stop-color="#0013ff"/><stop offset="0.4883" stop-color="#0045ff"/><stop offset="0.4950" stop-color="#0044ff"/><stop offset="0.4983" stop-color="#002fff"/><stop offset="0.5017" stop-color="#0001ff"/><stop offset="0.5050" stop-color="#0000c6"/><stop offset="0.5083" stop-color="#000095"/><stop offset="0.5117" stop-color="#000080"/><stop offset="0.5283" stop-color="#000080"/><stop offset="0.5483" stop-color="#0000c0"/><stop offset="0.5650" stop-color="#0000d9"/><stop offset="0.6283" stop-color="#0000ea"/><stop offset="0.6417" stop-color="#0002ff"/><stop offset="0.9983" stop-color="#0006ff"/></linearGradient>
<linearGradient id="ga62"><stop offset="0.0017" stop-color="#000eff"/><stop offset="0.3417" stop-color="#0013ff"/><stop offset="0.3817" stop-color="#0020ff"/><stop offset="0.4917" stop-color="#003fff"/><stop offset="0.4950" stop-color="#003dff"/><stop offset="0.4983" stop-color="#0023ff"/><stop offset="0.5017" stop-color="#0000f3"/><stop offset="0.5050" stop-color="#0000ba"/><stop offset="0.5083" stop-color="#00008f"/><stop offset="0.5117" stop-color="#000080"/><stop offset="0.5283" stop-color="#000084"/><stop offset="0.5483" stop-color="#0000c7"/><stop offset="0.5650" stop-color="#0000dd"/><stop offset="0.6150" stop-color="#0000ec"/><stop offset="0.6283" stop-color="#0003ff"/><stop offset="0.9983" stop-color="#0006ff"/></linearGradient>
<linearGradient id="ga63"><stop offset="0.0017" stop-color="#000eff"/><stop offset="0.3517" stop-color="#0012ff"/><stop offset="0.3850" stop-color="#001fff"/><stop offset="0.4917" stop-color="#003aff"/><stop offset="0.4950" stop-color="#0035ff"/><stop offset="0.4983" stop-color="#0018ff"/><stop offset="0.5017" stop-color="#0000e7"/><stop offset="0.5050" stop-color="#0000b0"/><stop offset="0.5083" stop-color="#000088"/><stop offset="0.5117" stop-color="#000080"/><stop offset="0.5250" stop-color="#000080"/><stop offset="0.5450" stop-color="#0000c4"/><stop offset="0.5583" stop-color="#0000dc"/><stop offset="0.6017" stop-color="#0000ed"/><stop offset="0.6117" stop-color="#0000ff"/><stop offset="0.6383" stop-color="#0006ff"/><stop offset="0.9983" stop-color="#0006ff"/></linearGradient>
<linearGradient id="ga64"><stop offset="0.0017" stop-color="#000eff"/><stop offset="0.3617" stop-color="#0012ff"/><stop offset="0.3917" stop-color="#001fff"/><stop offset="0.4917" stop-color="#0035ff"/><stop offset="0.4950" stop-color="#002dff"/><stop offset="0.4983" stop-color="#000dff"/><stop offset="0.5017" stop-color="#0000db"/><stop offset="0.5050" stop-color="#0000a8"/><stop offset="0.5083" stop-color="#000083"/><stop offset="0.5250" stop-color="#000082"/><stop offset="0.5450" stop-color="#0000ca"/><stop offset="0.5583" stop-color="#0000e0"/><stop offset="0.5883" stop-color="#0000ee"/><stop offset="0.5983" stop-color="#0001ff"/><stop offset="0.6350" stop-color="#0006ff"/><stop offset="0.9983" stop-color="#0006ff"/></linearGradient>
<linearGradient id="ga65"><stop offset="0.0017" stop-color="#000eff"/><stop offset="0.3717" stop-color="#0012ff"/><stop offset="0.4017" stop-color="#0020ff"/><stop offset="0.4917" stop-color="#0031ff"/><stop offset="0.4950" stop-color="#0025ff"/><stop offset="0.4983" stop-color="#0002ff"/><stop offset="0.5050" stop-color="#0000a0"/><stop offset="0.5083" stop-color="#000080"/><stop offset="0.5217" stop-color="#000080"/><stop offset="0.5317" stop-color="#0000a3"/><stop offset="0.5450" stop-color="#0000d0"/><stop offset="0.5617" stop-color="#0000e5"/><stop offset="0.5750" stop-color="#0000ef"/><stop offset="0.5850" stop-color="#0002ff"/><stop offset="0.8117" stop-color="#0006ff"/><stop offset="0.9983" stop-color="#0006ff"/></linearGradient>
<linearGradient id="ga66"><stop offset="0.0017" stop-color="#000eff"/><stop offset="0.3817" stop-color="#0012ff"/><stop offset="0.4117" stop-color="#0020ff"/><stop offset="0.4917" stop-color="#002dff"/><stop offset="0.4950" stop-color="#001dff"/><stop offset="0.4983" stop-color="#0000f7"/><stop offset="0.5050" stop-color="#00009a"/><stop offset="0.5083" stop-color="#000080"/><stop offset="0.5217" stop-color="#000081"/><stop offset="0.5417" stop-color="#0000cd"/><stop offset="0.5717" stop-color="#0003ff"/><stop offset="0.9983" stop-color="#0006ff"/></linearGradient>
<linearGradient id="ga67"><stop offset="0.0017" stop-color="#000eff"/><stop offset="0.3917" stop-color="#0012ff"/><stop offset="0.4217" stop-color="#0020ff"/><stop offset="0.4917" stop-color="#0028ff"/><stop offset="0.4950" stop-color="#0014ff"/><stop offset="0.4983" stop-color="#0000ee"/><stop offset="0.5050" stop-color="#000094"/><stop offset="0.5083" stop-color="#000080"/><stop offset="0.5183" stop-color="#000080"/><stop offset="0.5250" stop-color="#000093"/><stop offset="0.5417" stop-color="#0000d3"/><stop offset="0.5550" stop-color="#0000fa"/><stop offset="0.5717" stop-color="#0007ff"/><stop offset="0.9983" stop-color="#0006ff"/></linearGradient>
<linearGradient id="ga68"><stop offset="0.0017" stop-color="#000eff"/><stop offset="0.4017" stop-color="#0012ff"/><stop offset="0.4317" stop-color="#0020ff"/><stop offset="0.4883" stop-color="#0026ff"/><stop offset="0.4917" stop-color="#0023ff"/><stop offset="0.4950" stop-color="#000cff"/><stop offset="0.4983" stop-color="#0000e5"/><stop offset="0.5050" stop-color="#00008f"/><stop offset="0.5083" stop-color="#000080"/><stop offset="0.5183" stop-color="#000080"/><stop offset="0.5317" stop-color="#0000ba"/><stop offset="0.5417" stop-color="#0000ec"/><stop offset="0.5483" stop-color="#0000fe"/><stop offset="0.5917" stop-color="#0006ff"/><stop offset="0.9983" stop-color="#0006ff"/></linearGradient>
<linearGradient id="ga69"><stop offset="0.0017" stop-color="#000eff"/><stop offset="0.4150" stop-color="#0014ff"/><stop offset="0.4417" stop-color="#001fff"/><stop offset="0.4883" stop-color="#0023ff"/><stop offset="0.4917" stop-color="#001dff"/><stop offset="0.4950" stop-color="#0005ff"/><stop offset="0.4983" stop-color="#0000dd"/><stop offset="0.5050" stop-color="#00008a"/><stop offset="0.5083" stop-color="#000080"/><stop offset="0.5150" stop-color="#000080"/><stop offset="0.5183" stop-color="#000088"/><stop offset="0.5317" stop-color="#0000d6"/><stop offset="0.5417" stop-color="#0000f6"/><stop offset="0.5517" stop-color="#0003ff"/><stop offset="0.9983" stop-color="#0006ff"/></linearGradient>
<linearGradient id="ga70"><stop offset="0.0017" stop-color="#000eff"/><stop offset="0.4250" stop-color="#0013ff"/><stop offset="0.4550" stop-color="#001eff"/><stop offset="0.4883" stop-color="#0021ff"/><stop offset="0.4917" stop-color="#001aff"/><stop offset="0.4950" stop-color="#0007ff"/><stop offset="0.4983" stop-color="#0000e2"/><stop offset="0.5050" stop-color="#00008c"/><stop offset="0.5083" stop-color="#000080"/><stop offset="0.5150" stop-color="#000092"/><stop offset="0.5350" stop-color="#0000e8"/><stop offset="0.5450" stop-color="#0000fd"/><stop offset="0.5883" stop-color="#0006ff"/><stop offset="0.9983" stop-color="#0006ff"/></linearGradient>
<linearGradient id="ga71"><stop offset="0.0017" stop-color="#000eff"/><stop offset="0.4350" stop-color="#0012ff"/><stop offset="0.4650" stop-color="#001eff"/><stop offset="0.4883" stop-color="#001eff"/><stop offset="0.4917" stop-color="#0016ff"/><stop offset="0.4950" stop-color="#0002ff"/><stop offset="0.4983" stop-color="#0000e2"/><stop offset="0.5050" stop-color="#00009b"/><stop offset="0.5083" stop-color="#00008f"/><stop offset="0.5150" stop-color="#00009a"/><stop offset="0.5350" stop-color="#0000ec"/><stop offset="0.5450" stop-color="#0000ff"/><stop offset="0.5850" stop-color="#0006ff"/><stop offset="0.9983" stop-color="#0006ff"/></linearGradient>
<linearGradient id="gb0"><stop offset="0.0017" stop-color="#007fff"/><stop offset="0.0383" stop-color="#007fff"/><stop offset="0.0583" stop-color="#0077ff"/><stop offset="0.0783" stop-color="#0083ff"/><stop offset="0.1050" stop-color="#0072ff"/><stop offset="0.1283" stop-color="#0085ff"/><stop offset="0.1517" stop-color="#006cff"/><stop offset="0.1750" stop-color="#0086ff"/><stop offset="0.1883" stop-color="#007aff"/><stop offset="0.2017" stop-color="#0067ff"/><stop offset="0.2117" stop-color="#0072ff"/><stop offset="0.2250" stop-color="#0089ff"/><stop offset="0.2350" stop-color="#0087ff"/><stop offset="0.2583" stop-color="#0061ff"/><stop offset="0.2683" stop-color="#006bff"/><stop offset="0.2883" stop-color="#0095ff"/><stop offset="0.2983" stop-color="#0097ff"/><stop offset="0.3083" stop-color="#0083ff"/><stop offset="0.3317" stop-color="#0023ff"/><stop offset="0.3383" stop-color="#001cff"/><stop offset="0.3450" stop-color="#002cff"/><stop offset="0.3550" stop-color="#0067ff"/><stop offset="0.3750" stop-color="#00efff"/><stop offset="0.3783" stop-color="#05fffa"/><stop offset="0.3917" stop-color="#4dffb2"/><stop offset="0.4017" stop-color="#6cff93"/><stop offset="0.4083" stop-color="#6dff92"/><stop offset="0.4150" stop-color="#5effa1"/><stop offset="0.4250" stop-color="#2bffd4"/><stop offset="0.4317" stop-color="#00faff"/><stop offset="0.4550" stop-color="#0042ff"/><stop offset="0.4650" stop-color="#0000ff"/><stop offset="0.4783" stop-color="#0000bd"/><stop offset="0.4917" stop-color="#000093"/><stop offset="0.5050" stop-color="#000083"/><stop offset="0.5250" stop-color="#00008b"/><stop offset="0.5383" stop-color="#0000a9"/><stop offset="0.5550" stop-color="#0000ee"/><stop offset="0.5583" stop-color="#0000fe"/><stop offset="0.5850" stop-color="#0082ff"/><stop offset="0.6017" stop-color="#00baff"/><stop offset="0.6217" stop-color="#00dbff"/><stop offset="0.6383" stop-color="#00dcff"/><stop offset="0.6817" stop-color="#00b6ff"/><stop offset="0.7483" stop-color="#00acff"/><stop offset="0.9983" stop-color="#00acff"/></linearGradient>
<linearGradient id="gb1"><stop offset="0.0017" stop-color="#007fff"/><stop offset="0.0383" stop-color="#007fff"/><stop offset="0.0583" stop-color="#0077ff"/><stop offset="0.0783" stop-color="#0083ff"/><stop offset="0.1050" stop-color="#0072ff"/><stop offset="0.1283" stop-color="#0085ff"/><stop offset="0.1517" stop-color="#006cff"/><stop offset="0.1750" stop-color="#0086ff"/><stop offset="0.1883" stop-color="#007aff"/><stop offset="0.2017" stop-color="#0067ff"/><stop offset="0.2117" stop-color="#0072ff"/><stop offset="0.2250" stop-color="#0089ff"/><stop offset="0.2350" stop-color="#0087ff"/><stop offset="0.2583" stop-color="#0061ff"/><stop offset="0.2683" stop-color="#006bff"/><stop offset="0.2883" stop-color="#0095ff"/><stop offset="0.2983" stop-color="#0097ff"/><stop offset="0.3083" stop-color="#0083ff"/><stop offset="0.3317" stop-color="#0023ff"/><stop offset="0.3383" stop-color="#001cff"/><stop offset="0.3450" stop-color="#002cff"/><stop offset="0.3550" stop-color="#0067ff"/><stop offset="0.3750" stop-color="#00efff"/><stop offset="0.3783" stop-color="#05fffa"/><stop offset="0.3917" stop-color="#4dffb2"/><stop offset="0.4017" stop-color="#6cff93"/><stop offset="0.4083" stop-color="#6eff91"/><stop offset="0.4150" stop-color="#5effa1"/><stop offset="0.4250" stop-color="#2bffd4"/><stop offset="0.4317" stop-color="#00faff"/><stop offset="0.4550" stop-color="#0042ff"/><stop offset="0.4650" stop-color="#0000ff"/><stop offset="0.4783" stop-color="#0000bd"/><stop offset="0.4917" stop-color="#000093"/><stop offset="0.5050" stop-color="#000083"/><stop offset="0.5217" stop-color="#000088"/><stop offset="0.5350" stop-color="#0000a0"/><stop offset="0.5517" stop-color="#0000df"/><stop offset="0.5583" stop-color="#0001ff"/><stop offset="0.5850" stop-color="#0083ff"/><stop offset="0.6017" stop-color="#00bbff"/><stop offset="0.6217" stop-color="#00dbff"/><stop offset="0.6383" stop-color="#00dcff"/><stop offset="0.6817" stop-color="#00b5ff"/><stop offset="0.7517" stop-color="#00acff"/><stop offset="0.9983" stop-color="#00acff"/></linearGradient>
<linearGradient id="gb2"><stop offset="0.0017" stop-color="#007fff"/><stop offset="0.0383" stop-color="#007fff"/><stop offset="0.0583" stop-color="#0077ff"/><stop offset="0.0783" stop-color="#0083ff"/><stop offset="0.1050" stop-color="#0072ff"/><stop offset="0.1283" stop-color="#0085ff"/><stop offset="0.1517" stop-color="#006cff"/><stop offset="0.1750" stop-color="#0086ff"/><stop offset="0.1883" stop-color="#007aff"/><stop offset="0.2017" stop-color="#0067ff"/><stop offset="0.2117" stop-color="#0072ff"/><stop offset="0.2250" stop-color="#0089ff"/><stop offset="0.2350" stop-color="#0087ff"/><stop offset="0.2583" stop-color="#0061ff"/><stop offset="0.2683" stop-color="#006bff"/><stop offset="0.2883" stop-color="#0095ff"/><stop offset="0.2983" stop-color="#0097ff"/><stop offset="0.3083" stop-color="#0083ff"/><stop offset="0.3317" stop-color="#0023ff"/><stop offset="0.3383" stop-color="#001cff"/><stop offset="0.3450" stop-color="#002cff"/><stop offset="0.3550" stop-color="#0067ff"/><stop offset="0.3750" stop-color="#00f0ff"/><stop offset="0.3783" stop-color="#05fffa"/><stop offset="0.3917" stop-color="#4dffb2"/><stop offset="0.4017" stop-color="#6cff93"/><stop offset="0.4083" stop-color="#6eff91"/><stop offset="0.4150" stop-color="#5fffa0"/><stop offset="0.4250" stop-color="#2bffd4"/><stop offset="0.4317" stop-color="#00fbff"/><stop offset="0.4550" stop-color="#0042ff"/><stop offset="0.4650" stop-color="#0000ff"/><stop offset="0.4783" stop-color="#0000bc"/><stop offset="0.4917" stop-color="#000093"/><stop offset="0.5050" stop-color="#000083"/><stop offset="0.5217" stop-color="#000088"/><stop offset="0.5350" stop-color="#0000a1"/><stop offset="0.5517" stop-color="#0000e0"/><stop offset="0.5583" stop-color="#0002ff"/><stop offset="0.5850" stop-color="#0084ff"/><stop offset="0.6017" stop-color="#00bcff"/><stop offset="0.6217" stop-color="#00dbff"/><stop offset="0.6383" stop-color="#00dcff"/><stop offset="0.6817" stop-color="#00b5ff"/><stop offset="0.7517" stop-color="#00acff"/><stop offset="0.9983" stop-color="#00acff"/></linearGradient>
<linearGradient id="gb3"><stop offset="0.0017" stop-color="#007fff"/><stop offset="0.0383" stop-color="#007fff"/><stop offset="0.0583" stop-color="#0077ff"/><stop offset="0.0783" stop-color="#0083ff"/><stop offset="0.1050" stop-color="#0072ff"/><stop offset="0.1283" stop-color="#0085ff"/><stop offset="0.1517" stop-color="#006cff"/><stop offset="0.1750" stop-color="#0086ff"/><stop offset="0.1883" stop-color="#007aff"/><stop offset="0.2017" stop-color="#0067ff"/><stop offset="0.2117" stop-color="#0072ff"/><stop offset="0.2250" stop-color="#0089ff"/><stop offset="0.2350" stop-color="#0087ff"/><stop offset="0.2583" stop-color="#0061ff"/><stop offset="0.2683" stop-color="#006bff"/><stop offset="0.2883" stop-color="#0095ff"/><stop offset="0.2983" stop-color="#0097ff"/><stop offset="0.3083" stop-color="#0083ff"/><stop offset="0.3317" stop-color="#0023ff"/><stop offset="0.3383" stop-color="#001cff"/><stop offset="0.3450" stop-color="#002cff"/><stop offset="0.3550" stop-color="#0067ff"/><stop offset="0.3750" stop-color="#00f0ff"/><stop offset="0.3783" stop-color="#05fffa"/><stop offset="0.3917" stop-color="#4dffb2"/><stop offset="0.4017" stop-color="#6cff93"/><stop offset="0.4083" stop-color="#6eff91"/><stop offset="0.4150" stop-color="#5fffa0"/><stop offset="0.4250" stop-color="#2cffd3"/><stop offset="0.4317" stop-color="#00fbff"/><stop offset="0.4550" stop-color="#0042ff"/><stop offset="0.4650" stop-color="#0000ff"/><stop offset="0.4783" stop-color="#0000bc"/><stop offset="0.4917" stop-color="#000093"/><stop offset="0.5050" stop-color="#000082"/><stop offset="0.5217" stop-color="#000087"/><stop offset="0.5350" stop-color="#0000a1"/><stop offset="0.5517" stop-color="#0000e1"/><stop offset="0.5583" stop-color="#0003ff"/><stop offset="0.5850" stop-color="#0086ff"/><stop offset="0.6017" stop-color="#00bdff"/><stop offset="0.6217" stop-color="#00dcff"/><stop offset="0.6383" stop-color="#00dbff"/><stop offset="0.6817" stop-color="#00b5ff"/><stop offset="0.7550" stop-color="#00acff"/><stop offset="0.9983" stop-color="#00acff"/></linearGradient>
<linearGradient id="gb4"><stop offset="0.0017" stop-color="#007fff"/><stop offset="0.0383" stop-color="#007fff"/><stop offset="0.0583" stop-color="#0077ff"/><stop offset="0.0783" stop-color="#0083ff"/><stop offset="0.1050" stop-color="#0072ff"/><stop offset="0.1283" stop-color="#0085ff"/><stop offset="0.1517" stop-color="#006cff"/><stop offset="0.1750" stop-color="#0086ff"/><stop offset="0.1883" stop-color="#007aff"/><stop offset="0.2017" stop-color="#0067ff"/><stop offset="0.2117" stop-color="#0072ff"/><stop offset="0.2250" stop-color="#0089ff"/><stop offset="0.2350" stop-color="#0087ff"/><stop offset="0.2583" stop-color="#0061ff"/><stop offset="0.2683" stop-color="#006bff"/><stop offset="0.2883" stop-color="#0095ff"/><stop offset="0.2983" stop-color="#0097ff"/><stop offset="0.3083" stop-color="#0083ff"/><stop offset="0.3317" stop-color="#0023ff"/><stop offset="0.3383" stop-color="#001cff"/><stop offset="0.3450" stop-color="#002cff"/><stop offset="0.3550" stop-color="#0067ff"/><stop offset="0.3750" stop-color="#00f0ff"/><stop offset="0.3783" stop-color="#05fffa"/><stop offset="0.3917" stop-color="#4dffb2"/><stop offset="0.4017" stop-color="#6cff93"/><stop offset="0.4083" stop-color="#6eff91"/><stop offset="0.4150" stop-color="#5fffa0"/><stop offset="0.4250" stop-color="#2cffd3"/><stop offset="0.4317" stop-color="#00fbff"/><stop offset="0.4550" stop-color="#0042ff"/><stop offset="0.4650" stop-color="#0000ff"/><stop offset="0.4783" stop-color="#0000bc"/><stop offset="0.4917" stop-color="#000092"/><stop offset="0.5050" stop-color="#000082"/><stop offset="0.5217" stop-color="#000087"/><stop offset="0.5350" stop-color="#0000a1"/><stop offset="0.5517" stop-color="#0000e1"/><stop offset="0.5583" stop-color="#0004ff"/><stop offset="0.5850" stop-color="#0087ff"/><stop offset="0.6017" stop-color="#00bdff"/><stop offset="0.6217" stop-color="#00dbff"/><stop offset="0.6383" stop-color="#00dbff"/><stop offset="0.6783" stop-color="#00b6ff"/><stop offset="0.7417" stop-color="#00acff"/><stop offset="0.9983" stop-color="#00acff"/></linearGradient>
<linearGradient id="gb5"><stop offset="0.0017" stop-color="#007fff"/><stop offset="0.0383" stop-color="#007fff"/><stop offset="0.0583" stop-color="#0077ff"/><stop offset="0.0783" stop-color="#0083ff"/><stop offset="0.1050" stop-color="#0072ff"/><stop offset="0.1283" stop-color="#0085ff"/><stop offset="0.1517" stop-color="#006cff"/><stop offset="0.1750" stop-color="#0086ff"/><stop offset="0.1883" stop-color="#007aff"/><stop offset="0.2017" stop-color="#0067ff"/><stop offset="0.2117" stop-color="#0072ff"/><stop offset="0.2250" stop-color="#0089ff"/><stop offset="0.2350" stop-color="#0087ff"/><stop offset="0.2583" stop-color="#0061ff"/><stop offset="0.2683" stop-color="#006bff"/><stop offset="0.2883" stop-color="#0095ff"/><stop offset="0.2983" stop-color="#0097ff"/><stop offset="0.3083" stop-color="#0083ff"/><stop offset="0.3317" stop-color="#0023ff"/><stop offset="0.3383" stop-color="#001cff"/><stop offset="0.3450" stop-color="#002cff"/><stop offset="0.3550" stop-color="#0067ff"/><stop offset="0.3750" stop-color="#00f0ff"/><stop offset="0.3783" stop-color="#05fffa"/><stop offset="0.3917" stop-color="#4dffb2"/><stop offset="0.4017" stop-color="#6cff93"/><stop offset="0.4083" stop-color="#6eff91"/><stop offset="0.4150" stop-color="#5fffa0"/><stop offset="0.4250" stop-color="#2cffd3"/><stop offset="0.4317" stop-color="#00fbff"/><stop offset="0.4550" stop-color="#0042ff"/><stop offset="0.4650" stop-color="#0000ff"/><stop offset="0.4783" stop-color="#0000bc"/><stop offset="0.4917" stop-color="#000092"/><stop offset="0.5050" stop-color="#000082"/><stop offset="0.5217" stop-color="#000087"/><stop offset="0.5350" stop-color="#0000a0"/><stop offset="0.5483" stop-color="#0000d2"/><stop offset="0.5583" stop-color="#0004ff"/><stop offset="0.5850" stop-color="#0088ff"/><stop offset="0.6017" stop-color="#00beff"/><stop offset="0.6217" stop-color="#00dbff"/><stop offset="0.6383" stop-color="#00daff"/><stop offset="0.6783" stop-color="#00b5ff"/><stop offset="0.7450" stop-color="#00acff"/><stop offset="0.9983" stop-color="#00acff"/></linearGradient>
<linearGradient id="gb6"><stop offset="0.0017" stop-color="#007fff"/><stop offset="0.0383" stop-color="#007fff"/><stop offset="0.0583" stop-color="#0077ff"/><stop offset="0.0783" stop-color="#0083ff"/><stop offset="0.1050" stop-color="#0072ff"/><stop offset="0.1283" stop-color="#0085ff"/><stop offset="0.1517" stop-color="#006cff"/><stop offset="0.1750" stop-color="#0086ff"/><stop offset="0.1883" stop-color="#007aff"/><stop offset="0.2017" stop-color="#0067ff"/><stop offset="0.2117" stop-color="#0072ff"/><stop offset="0.2250" stop-color="#0089ff"/><stop offset="0.2350" stop-color="#0087ff"/><stop offset="0.2583" stop-color="#0061ff"/><stop offset="0.2683" stop-color="#006bff"/><stop offset="0.2883" stop-color="#0095ff"/><stop offset="0.2983" stop-color="#0097ff"/><stop offset="0.3083" stop-color="#0083ff"/><stop offset="0.3317" stop-color="#0023ff"/><stop offset="0.3383" stop-color="#001cff"/><stop offset="0.3450" stop-color="#002cff"/><stop offset="0.3550" stop-color="#0067ff"/><stop offset="0.3750" stop-color="#00f0ff"/><stop offset="0.3783" stop-color="#05fffa"/><stop offset="0.3917" stop-color="#4dffb2"/><stop offset="0.4017" stop-color="#6cff93"/><stop offset="0.4083" stop-color="#6eff91"/><stop offset="0.4150" stop-color="#5fffa0"/><stop offset="0.4250" stop-color="#2cffd3"/><stop offset="0.4317" stop-color="#00fcff"/><stop offset="0.4550" stop-color="#0043ff"/><stop offset="0.4650" stop-color="#0000ff"/><stop offset="0.4783" stop-color="#0000bc"/><stop offset="0.4917" stop-color="#000092"/><stop offset="0.5050" stop-color="#000081"/><stop offset="0.5217" stop-color="#000086"/><stop offset="0.5350" stop-color="#0000a0"/><stop offset="0.5483" stop-color="#0000d2"/><stop offset="0.5583" stop-color="#0004ff"/><stop offset="0.5850" stop-color="#0089ff"/><stop offset="0.5983" stop-color="#00b7ff"/><stop offset="0.6183" stop-color="#00d8ff"/><stop offset="0.6350" stop-color="#00dcff"/><stop offset="0.6783" stop-color="#00b4ff"/><stop offset="0.7550" stop-color="#00acff"/><stop offset="0.9983" stop-color="#00acff"/></linearGradient>
<linearGradient id="gb7"><stop offset="0.0017" stop-color="#007fff"/><stop offset="0.0383" stop-color="#007fff"/><stop offset="0.0583" stop-color="#0077ff"/><stop offset="0.0783" stop-color="#0083ff"/><stop offset="0.1050" stop-color="#0072ff"/><stop offset="0.1283" stop-color="#0085ff"/><stop offset="0.1517" stop-color="#006cff"/><stop offset="0.1750" stop-color="#0086ff"/><stop offset="0.1883" stop-color="#007aff"/><stop offset="0.2017" stop-color="#0067ff"/><stop offset="0.2117" stop-color="#0072ff"/><stop offset="0.2250" stop-color="#0089ff"/><stop offset="0.2350" stop-color="#0087ff"/><stop offset="0.2583" stop-color="#0061ff"/><stop offset="0.2683" stop-color="#006bff"/><stop offset="0.2883" stop-color="#0095ff"/><stop offset="0.2983" stop-color="#0097ff"/><stop offset="0.3083" stop-color="#0083ff"/><stop offset="0.3317" stop-color="#0023ff"/><stop offset="0.3383" stop-color="#001cff"/><stop offset="0.3450" stop-color="#002cff"/><stop offset="0.3550" stop-color="#0067ff"/><stop offset="0.3750" stop-color="#00f0ff"/><stop offset="0.3783" stop-color="#05fffa"/><stop offset="0.3917" stop-color="#4effb1"/><stop offset="0.4017" stop-color="#6cff93"/><stop offset="0.4083" stop-color="#6eff91"/><stop offset="0.4150" stop-color="#60ff9f"/><stop offset="0.4250" stop-color="#2dffd2"/><stop offset="0.4317" stop-color="#00fcff"/><stop offset="0.4550" stop-color="#0043ff"/><stop offset="0.4650" stop-color="#0000ff"/><stop offset="0.4783" stop-color="#0000bb"/><stop offset="0.4917" stop-color="#000092"/><stop offset="0.5050" stop-color="#000081"/><stop offset="0.5217" stop-color="#000086"/><stop offset="0.5350" stop-color="#0000a0"/><stop offset="0.5483" stop-color="#0000d2"/><stop offset="0.5583" stop-color="#0005ff"/><stop offset="0.5850" stop-color="#008aff"/><stop offset="0.5983" stop-color="#00b8ff"/><stop offset="0.6183" stop-color="#00d8ff"/><stop offset="0.6350" stop-color="#00dbff"/><stop offset="0.6750" stop-color="#00b5ff"/><stop offset="0.7417" stop-color="#00acff"/><stop offset="0.9983" stop-color="#00acff"/></linearGradient>
<linearGradient id="gb8"><stop offset="0.0017" stop-color="#007fff"/><stop offset="0.0383" stop-color="#007fff"/><stop offset="0.0583" stop-color="#0077ff"/><stop offset="0.0783" stop-color="#0083ff"/><stop offset="0.1050" stop-color="#0072ff"/><stop offset="0.1283" stop-color="#0085ff"/><stop offset="0.1517" stop-color="#006cff"/><stop offset="0.1750" stop-color="#0086ff"/><stop offset="0.1883" stop-color="#007aff"/><stop offset="0.2017" stop-color="#0067ff"/><stop offset="0.2117" stop-color="#0072ff"/><stop offset="0.2250" stop-color="#0089ff"/><stop offset="0.2350" stop-color="#0087ff"/><stop offset="0.2583" stop-color="#0061ff"/><stop offset="0.2683" stop-color="#006bff"/><stop offset="0.2883" stop-color="#0095ff"/><stop offset="0.2983" stop-color="#0097ff"/><stop offset="0.3083" stop-color="#0083ff"/><stop offset="0.3317" stop-color="#0023ff"/><stop offset="0.3383" stop-color="#001cff"/><stop offset="0.3450" stop-color="#002cff"/><stop offset="0.3550" stop-color="#0067ff"/><stop offset="0.3750" stop-color="#00f0ff"/><stop offset="0.3783" stop-color="#05fffa"/><stop offset="0.3917" stop-color="#4effb1"/><stop offset="0.4017" stop-color="#6cff93"/><stop offset="0.4083" stop-color="#6fff90"/><stop offset="0.4150" stop-color="#60ff9f"/><stop offset="0.4250" stop-color="#2dffd2"/><stop offset="0.4317" stop-color="#00fcff"/><stop offset="0.4550" stop-color="#0043ff"/><stop offset="0.4650" stop-color="#0000ff"/><stop offset="0.4783" stop-color="#0000bb"/><stop offset="0.4917" stop-color="#000091"/><stop offset="0.5050" stop-color="#000081"/><stop offset="0.5217" stop-color="#000085"/><stop offset="0.5350" stop-color="#00009f"/><stop offset="0.5483" stop-color="#0000d2"/><stop offset="0.5583" stop-color="#0005ff"/><stop offset="0.5850" stop-color="#008bff"/><stop offset="0.5983" stop-color="#00b8ff"/><stop offset="0.6183" stop-color="#00d8ff"/><stop offset="0.6350" stop-color="#00daff"/><stop offset="0.6750" stop-color="#00b4ff"/><stop offset="0.7483" stop-color="#00acff"/><stop offset="0.9983" stop-color="#00acff"/></linearGradient>
<linearGradient id="gb9"><stop offset="0.0017" stop-color="#007fff"/><stop offset="0.0383" stop-color="#007fff"/><stop offset="0.0583" stop-color="#0077ff"/><stop offset="0.0783" stop-color="#0083ff"/><stop offset="0.1050" stop-color="#0072ff"/><stop offset="0.1283" stop-color="#0085ff"/><stop offset="0.1517" stop-color="#006cff"/><stop offset="0.1750" stop-color="#0086ff"/><stop offset="0.1883" stop-color="#007aff"/><stop offset="0.2017" stop-color="#0067ff"/><stop offset="0.2117" stop-color="#0072ff"/><stop offset="0.2250" stop-color="#0089ff"/><stop offset="0.2350" stop-color="#0087ff"/><stop offset="0.2583" stop-color="#0061ff"/><stop offset="0.2683" stop-color="#006bff"/><stop offset="0.2883" stop-color="#0095ff"/><stop offset="0.2983" stop-color="#0097ff"/><stop offset="0.3083" stop-color="#0083ff"/><stop offset="0.3317" stop-color="#0023ff"/><stop offset="0.3383" stop-color="#001bff"/><stop offset="0.3450" stop-color="#002cff"/><stop offset="0.3550" stop-color="#0067ff"/><stop offset="0.3750" stop-color="#00f0ff"/><stop offset="0.3783" stop-color="#05fffa"/><stop offset="0.3917" stop-color="#4effb1"/><stop offset="0.4017" stop-color="#6dff92"/><stop offset="0.4083" stop-color="#6fff90"/><stop offset="0.4150" stop-color="#60ff9f"/><stop offset="0.4250" stop-color="#2dffd2"/><stop offset="0.4317" stop-color="#00fdff"/><stop offset="0.4583" stop-color="#002bff"/><stop offset="0.4650" stop-color="#0000ff"/><stop offset="0.4783" stop-color="#0000bb"/><stop offset="0.4917" stop-color="#000091"/><stop offset="0.5050" stop-color="#000080"/><stop offset="0.5217" stop-color="#000085"/><stop offset="0.5350" stop-color="#00009f"/><stop offset="0.5483" stop-color="#0000d2"/><stop offset="0.5583" stop-color="#0005ff"/><stop offset="0.5850" stop-color="#008cff"/><stop offset="0.5983" stop-color="#00b9ff"/><stop offset="0.6183" stop-color="#00d8ff"/><stop offset="0.6350" stop-color="#00d8ff"/><stop offset="0.6717" stop-color="#00b5ff"/><stop offset="0.7350" stop-color="#00acff"/><stop offset="0.9983" stop-color="#00acff"/></linearGradient>
<linearGradient id="gb10"><stop offset="0.0017" stop-color="#007fff"/><stop offset="0.0383" stop-color="#007fff"/><stop offset="0.0583" stop-color="#0077ff"/><stop offset="0.0783" stop-color="#0083ff"/><stop offset="0.1050" stop-color="#0072ff"/><stop offset="0.1283" stop-color="#0085ff"/><stop offset="0.1517" stop-color="#006cff"/><stop offset="0.1750" stop-color="#0086ff"/><stop offset="0.1883" stop-color="#007aff"/><stop offset="0.2017" stop-color="#0067ff"/><stop offset="0.2117" stop-color="#0072ff"/><stop offset="0.2250" stop-color="#0089ff"/><stop offset="0.2350" stop-color="#0087ff"/><stop offset="0.2583" stop-color="#0061ff"/><stop offset="0.2683" stop-color="#006bff"/><stop offset="0.2883" stop-color="#0095ff"/><stop offset="0.2983" stop-color="#0097ff"/><stop offset="0.3083" stop-color="#0082ff"/><stop offset="0.3317" stop-color="#0023ff"/><stop offset="0.3383" stop-color="#001bff"/><stop offset="0.3450" stop-color="#002cff"/><stop offset="0.3550" stop-color="#0067ff"/><stop offset="0.3750" stop-color="#00f0ff"/><stop offset="0.3783" stop-color="#05fffa"/><stop offset="0.3917" stop-color="#4effb1"/><stop offset="0.4017" stop-color="#6dff92"/><stop offset="0.4083" stop-color="#6fff90"/><stop offset="0.4150" stop-color="#60ff9f"/><stop offset="0.4250" stop-color="#2dffd2"/><stop offset="0.4317" stop-color="#00fdff"/><stop offset="0.4583" stop-color="#002bff"/><stop offset="0.4650" stop-color="#0000ff"/><stop offset="0.4783" stop-color="#0000bb"/><stop offset="0.4917" stop-color="#000091"/><stop offset="0.5050" stop-color="#000080"/><stop offset="0.5217" stop-color="#000084"/><stop offset="0.5350" stop-color="#00009f"/><stop offset="0.5483" stop-color="#0000d2"/><stop offset="0.5583" stop-color="#0005ff"/><stop offset="0.5850" stop-color="#008dff"/><stop offset="0.5983" stop-color="#00baff"/><stop offset="0.6183" stop-color="#00d8ff"/><stop offset="0.6350" stop-color="#00d7ff"/><stop offset="0.6717" stop-color="#00b4ff"/><stop offset="0.7417" stop-color="#00acff"/><stop offset="0.9983" stop-color="#00acff"/></linearGradient>
<linearGradient id="gb11"><stop offset="0.0017" stop-color="#007fff"/><stop offset="0.0383" stop-color="#007fff"/><stop offset="0.0583" stop-color="#0077ff"/><stop offset="0.0783" stop-color="#0083ff"/><stop offset="0.1050" stop-color="#0072ff"/><stop offset="0.1283" stop-color="#0085ff"/><stop offset="0.1517" stop-color="#006cff"/><stop offset="0.1750" stop-color="#0086ff"/><stop offset="0.1883" stop-color="#007aff"/><stop offset="0.2017" stop-color="#0067ff"/><stop offset="0.2117" stop-color="#0072ff"/><stop offset="0.2250" stop-color="#0089ff"/><stop offset="0.2350" stop-color="#0087ff"/><stop offset="0.2583" stop-color="#0061ff"/><stop offset="0.2683" stop-color="#006bff"/><stop offset="0.2883" stop-color="#0095ff"/><stop offset="0.2983" stop-color="#0097ff"/><stop offset="0.3083" stop-color="#0082ff"/><stop offset="0.3317" stop-color="#0022ff"/><stop offset="0.3383" stop-color="#001bff"/><stop offset="0.3450" stop-color="#002cff"/><stop offset="0.3550" stop-color="#0067ff"/><stop offset="0.3750" stop-color="#00f0ff"/><stop offset="0.3783" stop-color="#05fffa"/><stop offset="0.3917" stop-color="#4effb1"/><stop offset="0.4017" stop-color="#6dff92"/><stop offset="0.4083" stop-color="#6fff90"/><stop offset="0.4150" stop-color="#60ff9f"/><stop offset="0.4250" stop-color="#2effd1"/><stop offset="0.4317" stop-color="#00fdff"/><stop offset="0.4583" stop-color="#002cff"/><stop offset="0.4650" stop-color="#0000ff"/><stop offset="0.4783" stop-color="#0000bb"/><stop offset="0.4917" stop-color="#000090"/><stop offset="0.5050" stop-color="#000080"/><stop offset="0.5217" stop-color="#000084"/><stop offset="0.5350" stop-color="#00009f"/><stop offset="0.5483" stop-color="#0000d2"/><stop offset="0.5550" stop-color="#0000f3"/><stop offset="0.5583" stop-color="#0006ff"/><stop offset="0.5817" stop-color="#007fff"/><stop offset="0.5950" stop-color="#00b2ff"/><stop offset="0.6117" stop-color="#00d1ff"/><stop offset="0.6283" stop-color="#00daff"/><stop offset="0.6750" stop-color="#00b2ff"/><stop offset="0.8017" stop-color="#00acff"/><stop offset="0.9983" stop-color="#00acff"/></linearGradient>
<linearGradient id="gb12"><stop offset="0.0017" stop-color="#007fff"/><stop offset="0.0383" stop-color="#007fff"/><stop offset="0.0583" stop-color="#0077ff"/><stop offset="0.0783" stop-color="#0083ff"/><stop offset="0.1050" stop-color="#0072ff"/><stop offset="0.1283" stop-color="#0085ff"/><stop offset="0.1517" stop-color="#006cff"/><stop offset="0.1750" stop-color="#0086ff"/><stop offset="0.1883" stop-color="#007aff"/><stop offset="0.2017" stop-color="#0067ff"/><stop offset="0.2117" stop-color="#0072ff"/><stop offset="0.2250" stop-color="#0089ff"/><stop offset="0.2350" stop-color="#0087ff"/><stop offset="0.2583" stop-color="#0061ff"/><stop offset="0.2683" stop-color="#006bff"/><stop offset="0.2883" stop-color="#0095ff"/><stop offset="0.2983" stop-color="#0097ff"/><stop offset="0.3083" stop-color="#0082ff"/><stop offset="0.3317" stop-color="#0022ff"/><stop offset="0.3383" stop-color="#001bff"/><stop offset="0.3450" stop-color="#002bff"/><stop offset="0.3550" stop-color="#0067ff"/><stop offset="0.3750" stop-color="#00f0ff"/><stop offset="0.3783" stop-color="#05fffa"/><stop offset="0.3917" stop-color="#4effb1"/><stop offset="0.4017" stop-color="#6dff92"/><stop offset="0.4083" stop-color="#6fff90"/><stop offset="0.4150" stop-color="#60ff9f"/><stop offset="0.4250" stop-color="#2effd1"/><stop offset="0.4317" stop-color="#00fdff"/><stop offset="0.4583" stop-color="#002cff"/><stop offset="0.4650" stop-color="#0000ff"/><stop offset="0.4783" stop-color="#0000bb"/><stop offset="0.4917" stop-color="#000090"/><stop offset="0.5050" stop-color="#000080"/><stop offset="0.5217" stop-color="#000084"/><stop offset="0.5350" stop-color="#00009f"/><stop offset="0.5483" stop-color="#0000d3"/><stop offset="0.5550" stop-color="#0000f5"/><stop offset="0.5583" stop-color="#0007ff"/><stop offset="0.5817" stop-color="#0080ff"/><stop offset="0.5950" stop-color="#00b3ff"/><stop offset="0.6117" stop-color="#00d2ff"/><stop offset="0.6283" stop-color="#00d9ff"/><stop offset="0.6717" stop-color="#00b3ff"/><stop offset="0.7583" stop-color="#00acff"/><stop offset="0.9983" stop-color="#00acff"/></linearGradient>
<linearGradient id="gb13"><stop offset="0.0017" stop-color="#007fff"/><stop offset="0.0383" stop-color="#007fff"/><stop offset="0.0583" stop-color="#0077ff"/><stop offset="0.0783" stop-color="#0083ff"/><stop offset="0.1050" stop-color="#0072ff"/><stop offset="0.1283" stop-color="#0085ff"/><stop offset="0.1517" stop-color="#006cff"/><stop offset="0.1750" stop-color="#0086ff"/><stop offset="0.1883" stop-color="#007aff"/><stop offset="0.2017" stop-color="#0067ff"/><stop offset="0.2117" stop-color="#0072ff"/><stop offset="0.2250" stop-color="#0089ff"/><stop offset="0.2350" stop-color="#0087ff"/><stop offset="0.2583" stop-color="#0061ff"/><stop offset="0.2683" stop-color="#006bff"/><stop offset="0.2883" stop-color="#0095ff"/><stop offset="0.2983" stop-color="#0096ff"/><stop offset="0.3083" stop-color="#0082ff"/><stop offset="0.3317" stop-color="#0022ff"/><stop offset="0.3383" stop-color="#001aff"/><stop offset="0.3450" stop-color="#002bff"/><stop offset="0.3550" stop-color="#0066ff"/><stop offset="0.3750" stop-color="#00efff"/><stop offset="0.3783" stop-color="#05fffa"/><stop offset="0.3917" stop-color="#4effb1"/><stop offset="0.4017" stop-color="#6dff92"/><stop offset="0.4083" stop-color="#6fff90"/><stop offset="0.4150" stop-color="#61ff9e"/><stop offset="0.4250" stop-color="#2effd1"/><stop offset="0.4317" stop-color="#00feff"/><stop offset="0.4583" stop-color="#002cff"/><stop offset="0.4650" stop-color="#0000ff"/><stop offset="0.4783" stop-color="#0000ba"/><stop offset="0.4917" stop-color="#000090"/><stop offset="0.5050" stop-color="#000080"/><stop offset="0.5217" stop-color="#000085"/><stop offset="0.5350" stop-color="#0000a0"/><stop offset="0.5483" stop-color="#0000d5"/><stop offset="0.5550" stop-color="#0000f7"/><stop offset="0.5583" stop-color="#000aff"/><stop offset="0.5817" stop-color="#0083ff"/><stop offset="0.5950" stop-color="#00b4ff"/><stop offset="0.6117" stop-color="#00d2ff"/><stop offset="0.6317" stop-color="#00d7ff"/><stop offset="0.6717" stop-color="#00b3ff"/><stop offset="0.7717" stop-color="#00acff"/><stop offset="0.9983" stop-color="#00acff"/></linearGradient>
<linearGradient id="gb14"><stop offset="0.0017" stop-color="#007fff"/><stop offset="0.0383" stop-color="#007fff"/><stop offset="0.0583" stop-color="#0077ff"/><stop offset="0.0783" stop-color="#0083ff"/><stop offset="0.1050" stop-color="#0072ff"/><stop offset="0.1283" stop-color="#0085ff"/><stop offset="0.1517" stop-color="#006cff"/><stop offset="0.1750" stop-color="#0086ff"/><stop offset="0.1883" stop-color="#007aff"/><stop offset="0.2017" stop-color="#0067ff"/><stop offset="0.2117" stop-color="#0072ff"/><stop offset="0.2250" stop-color="#0089ff"/><stop offset="0.2350" stop-color="#0087ff"/><stop offset="0.2583" stop-color="#0061ff"/><stop offset="0.2683" stop-color="#006bff"/><stop offset="0.2883" stop-color="#0095ff"/><stop offset="0.2983" stop-color="#0096ff"/><stop offset="0.3083" stop-color="#0082ff"/><stop offset="0.3317" stop-color="#0021ff"/><stop offset="0.3383" stop-color="#001aff"/><stop offset="0.3450" stop-color="#002aff"/><stop offset="0.3550" stop-color="#0066ff"/><stop offset="0.3750" stop-color="#00efff"/><stop offset="0.3783" stop-color="#05fffa"/><stop offset="0.3917" stop-color="#4effb1"/><stop offset="0.4017" stop-color="#6dff92"/><stop offset="0.4083" stop-color="#70ff8f"/><stop offset="0.4150" stop-color="#62ff9d"/><stop offset="0.4250" stop-color="#30ffcf"/><stop offset="0.4317" stop-color="#01fffe"/><stop offset="0.4583" stop-color="#002dff"/><stop offset="0.4650" stop-color="#0001ff"/><stop offset="0.4783" stop-color="#0000bb"/><stop offset="0.4917" stop-color="#000090"/><stop offset="0.5050" stop-color="#000081"/><stop offset="0.5217" stop-color="#000087"/><stop offset="0.5350" stop-color="#0000a6"/><stop offset="0.5483" stop-color="#0000de"/><stop offset="0.5550" stop-color="#0002ff"/><stop offset="0.5783" stop-color="#007dff"/><stop offset="0.5917" stop-color="#00b0ff"/><stop offset="0.6050" stop-color="#00ccff"/><stop offset="0.6250" stop-color="#00d9ff"/><stop offset="0.6450" stop-color="#00c8ff"/><stop offset="0.6750" stop-color="#00b1ff"/><stop offset="0.9417" stop-color="#00acff"/><stop offset="0.9983" stop-color="#00acff"/></linearGradient>
<linearGradient id="gb15"><stop offset="0.0017" stop-color="#007fff"/><stop offset="0.0383" stop-color="#007fff"/><stop offset="0.0583" stop-color="#0077ff"/><stop offset="0.0783" stop-color="#0083ff"/><stop offset="0.1050" stop-color="#0072ff"/><stop offset="0.1283" stop-color="#0085ff"/><stop offset="0.1517" stop-color="#006cff"/><stop offset="0.1750" stop-color="#0086ff"/><stop offset="0.1883" stop-color="#007aff"/><stop offset="0.2017" stop-color="#0067ff"/><stop offset="0.2117" stop-color="#0072ff"/><stop offset="0.2250" stop-color="#0089ff"/><stop offset="0.2350" stop-color="#0087ff"/><stop offset="0.2583" stop-color="#0061ff"/><stop offset="0.2683" stop-color="#006bff"/><stop offset="0.2883" stop-color="#0095ff"/><stop offset="0.2983" stop-color="#0096ff"/><stop offset="0.3083" stop-color="#0082ff"/><stop offset="0.3317" stop-color="#0020ff"/><stop offset="0.3383" stop-color="#0019ff"/><stop offset="0.3450" stop-color="#0029ff"/><stop offset="0.3550" stop-color="#0065ff"/><stop offset="0.3750" stop-color="#00efff"/><stop offset="0.3783" stop-color="#05fffa"/><stop offset="0.3917" stop-color="#4effb1"/><stop offset="0.4017" stop-color="#6eff91"/><stop offset="0.4083" stop-color="#71ff8e"/><stop offset="0.4150" stop-color="#63ff9c"/><stop offset="0.4250" stop-color="#32ffcd"/><stop offset="0.4317" stop-color="#03fffc"/><stop offset="0.4583" stop-color="#0030ff"/><stop offset="0.4650" stop-color="#0003ff"/><stop offset="0.4817" stop-color="#0000af"/><stop offset="0.4950" stop-color="#00008d"/><stop offset="0.5117" stop-color="#000084"/><stop offset="0.5250" stop-color="#000092"/><stop offset="0.5383" stop-color="#0000bb"/><stop offset="0.5517" stop-color="#0000fb"/><stop offset="0.5783" stop-color="#0086ff"/><stop offset="0.5917" stop-color="#00b6ff"/><stop offset="0.6050" stop-color="#00cfff"/><stop offset="0.6283" stop-color="#00d8ff"/><stop offset="0.6717" stop-color="#00b2ff"/><stop offset="0.7950" stop-color="#00acff"/><stop offset="0.9983" stop-color="#00acff"/></linearGradient>
<linearGradient id="gb16"><stop offset="0.0017" stop-color="#007fff"/><stop offset="0.0383" stop-color="#007fff"/><stop offset="0.0583" stop-color="#0077ff"/><stop offset="0.0783" stop-color="#0083ff"/><stop offset="0.1050" stop-color="#0072ff"/><stop offset="0.1283" stop-color="#0085ff"/><stop offset="0.1517" stop-color="#006cff"/><stop offset="0.1750" stop-color="#0086ff"/><stop offset="0.1883" stop-color="#007aff"/><stop offset="0.2017" stop-color="#0067ff"/><stop offset="0.2117" stop-color="#0072ff"/><stop offset="0.2250" stop-color="#0089ff"/><stop offset="0.2350" stop-color="#0087ff"/><stop offset="0.2583" stop-color="#0061ff"/><stop offset="0.2683" stop-color="#006bff"/><stop offset="0.2883" stop-color="#0095ff"/><stop offset="0.2983" stop-color="#0096ff"/><stop offset="0.3083" stop-color="#0082ff"/><stop offset="0.3317" stop-color="#001fff"/><stop offset="0.3383" stop-color="#0017ff"/><stop offset="0.3450" stop-color="#0028ff"/><stop offset="0.3550" stop-color="#0064ff"/><stop offset="0.3750" stop-color="#00efff"/><stop offset="0.3783" stop-color="#05fffa"/><stop offset="0.3917" stop-color="#4effb1"/><stop offset="0.4017" stop-color="#6eff91"/><stop offset="0.4083" stop-color="#72ff8d"/><stop offset="0.4150" stop-color="#64ff9b"/><stop offset="0.4250" stop-color="#33ffcc"/><stop offset="0.4317" stop-color="#05fffa"/><stop offset="0.4383" stop-color="#00d0ff"/><stop offset="0.4583" stop-color="#0033ff"/><stop offset="0.4650" stop-color="#0007ff"/><stop offset="0.4717" stop-color="#0000df"/><stop offset="0.4850" stop-color="#0000a8"/><stop offset="0.4983" stop-color="#00008d"/><stop offset="0.5150" stop-color="#00008c"/><stop offset="0.5283" stop-color="#0000a3"/><stop offset="0.5417" stop-color="#0000d4"/><stop offset="0.5483" stop-color="#0000f6"/><stop offset="0.5517" stop-color="#0008ff"/><stop offset="0.5750" stop-color="#0081ff"/><stop offset="0.5917" stop-color="#00bcff"/><stop offset="0.6083" stop-color="#00d3ff"/><stop offset="0.6317" stop-color="#00d6ff"/><stop offset="0.6683" stop-color="#00b3ff"/><stop offset="0.7517" stop-color="#00acff"/><stop offset="0.9983" stop-color="#00acff"/></linearGradient>
<linearGradient id="gb17"><stop offset="0.0017" stop-color="#007fff"/><stop offset="0.0383" stop-color="#007fff"/><stop offset="0.0583" stop-color="#0077ff"/><stop offset="0.0783" stop-color="#0083ff"/><stop offset="0.1050" stop-color="#0072ff"/><stop offset="0.1283" stop-color="#0085ff"/><stop offset="0.1517" stop-color="#006cff"/><stop offset="0.1750" stop-color="#0086ff"/><stop offset="0.1883" stop-color="#007aff"/><stop offset="0.2017" stop-color="#0067ff"/><stop offset="0.2117" stop-color="#0072ff"/><stop offset="0.2250" stop-color="#0089ff"/><stop offset="0.2350" stop-color="#0087ff"/><stop offset="0.2583" stop-color="#0061ff"/><stop offset="0.2683" stop-color="#006bff"/><stop offset="0.2883" stop-color="#0095ff"/><stop offset="0.2983" stop-color="#0096ff"/><stop offset="0.3083" stop-color="#0081ff"/><stop offset="0.3217" stop-color="#0048ff"/><stop offset="0.3317" stop-color="#001dff"/><stop offset="0.3383" stop-color="#0015ff"/><stop offset="0.3450" stop-color="#0026ff"/><stop offset="0.3550" stop-color="#0063ff"/><stop offset="0.3750" stop-color="#00efff"/><stop offset="0.3783" stop-color="#05fffa"/><stop offset="0.3917" stop-color="#4fffb0"/><stop offset="0.4017" stop-color="#6fff90"/><stop offset="0.4083" stop-color="#72ff8d"/><stop offset="0.4150" stop-color="#65ff9a"/><stop offset="0.4250" stop-color="#35ffca"/><stop offset="0.4317" stop-color="#08fff7"/><stop offset="0.4350" stop-color="#00edff"/><stop offset="0.4583" stop-color="#0037ff"/><stop offset="0.4650" stop-color="#000bff"/><stop offset="0.4683" stop-color="#0000f6"/><stop offset="0.4817" stop-color="#0000b7"/><stop offset="0.4950" stop-color="#000097"/><stop offset="0.5117" stop-color="#000091"/><stop offset="0.5250" stop-color="#0000a4"/><stop offset="0.5383" stop-color="#0000d2"/><stop offset="0.5483" stop-color="#0004ff"/><stop offset="0.5717" stop-color="#007dff"/><stop offset="0.5883" stop-color="#00b8ff"/><stop offset="0.6017" stop-color="#00d0ff"/><stop offset="0.6283" stop-color="#00d7ff"/><stop offset="0.6683" stop-color="#00b3ff"/><stop offset="0.7583" stop-color="#00acff"/><stop offset="0.9983" stop-color="#00acff"/></linearGradient>
<linearGradient id="gb18"><stop offset="0.0017" stop-color="#007fff"/><stop offset="0.0383" stop-color="#007fff"/><stop offset="0.0583" stop-color="#0077ff"/><stop offset="0.0783" stop-color="#0083ff"/><stop offset="0.1050" stop-color="#0072ff"/><stop offset="0.1283" stop-color="#0085ff"/><stop offset="0.1517" stop-color="#006cff"/><stop offset="0.1750" stop-color="#0086ff"/><stop offset="0.1883" stop-color="#007aff"/><stop offset="0.2017" stop-color="#0067ff"/><stop offset="0.2117" stop-color="#0072ff"/><stop offset="0.2250" stop-color="#0089ff"/><stop offset="0.2350" stop-color="#0087ff"/><stop offset="0.2583" stop-color="#0061ff"/><stop offset="0.2683" stop-color="#006bff"/><stop offset="0.2883" stop-color="#0095ff"/><stop offset="0.2983" stop-color="#0096ff"/><stop offset="0.3083" stop-color="#0081ff"/><stop offset="0.3217" stop-color="#0047ff"/><stop offset="0.3317" stop-color="#001bff"/><stop offset="0.3383" stop-color="#0012ff"/><stop offset="0.3450" stop-color="#0023ff"/><stop offset="0.3550" stop-color="#0061ff"/><stop offset="0.3750" stop-color="#00efff"/><stop offset="0.3783" stop-color="#05fffa"/><stop offset="0.3917" stop-color="#4fffb0"/><stop offset="0.4017" stop-color="#6fff90"/><stop offset="0.4083" stop-color="#73ff8c"/><stop offset="0.4150" stop-color="#66ff99"/><stop offset="0.4250" stop-color="#37ffc8"/><stop offset="0.4317" stop-color="#0afff5"/><stop offset="0.4350" stop-color="#00f0ff"/><stop offset="0.4583" stop-color="#003bff"/><stop offset="0.4650" stop-color="#000fff"/><stop offset="0.4683" stop-color="#0000fb"/><stop offset="0.4817" stop-color="#0000bd"/><stop offset="0.4950" stop-color="#00009d"/><stop offset="0.5117" stop-color="#000099"/><stop offset="0.5250" stop-color="#0000ae"/><stop offset="0.5383" stop-color="#0000df"/><stop offset="0.5450" stop-color="#0000ff"/><stop offset="0.5683" stop-color="#0079ff"/><stop offset="0.5850" stop-color="#00b5ff"/><stop offset="0.6017" stop-color="#00d2ff"/><stop offset="0.6283" stop-color="#00d6ff"/><stop offset="0.6683" stop-color="#00b3ff"/><stop offset="0.7650" stop-color="#00acff"/><stop offset="0.9983" stop-color="#00acff"/></linearGradient>
<linearGradient id="gb19"><stop offset="0.0017" stop-color="#007fff"/><stop offset="0.0383" stop-color="#007fff"/><stop offset="0.0583" stop-color="#0077ff"/><stop offset="0.0783" stop-color="#0083ff"/><stop offset="0.1050" stop-color="#0072ff"/><stop offset="0.1283" stop-color="#0085ff"/><stop offset="0.1517" stop-color="#006cff"/><stop offset="0.1750" stop-color="#0086ff"/><stop offset="0.1883" stop-color="#007aff"/><stop offset="0.2017" stop-color="#0067ff"/><stop offset="0.2117" stop-color="#0072ff"/><stop offset="0.2250" stop-color="#0089ff"/><stop offset="0.2350" stop-color="#0087ff"/><stop offset="0.2583" stop-color="#0061ff"/><stop offset="0.2683" stop-color="#006bff"/><stop offset="0.2883" stop-color="#0095ff"/><stop offset="0.2983" stop-color="#0096ff"/><stop offset="0.3083" stop-color="#0081ff"/><stop offset="0.3217" stop-color="#0045ff"/><stop offset="0.3317" stop-color="#0018ff"/><stop offset="0.3383" stop-color="#000fff"/><stop offset="0.3450" stop-color="#0020ff"/><stop offset="0.3550" stop-color="#005fff"/><stop offset="0.3750" stop-color="#00eeff"/><stop offset="0.3783" stop-color="#05fffa"/><stop offset="0.3917" stop-color="#4fffb0"/><stop offset="0.4017" stop-color="#70ff8f"/><stop offset="0.4083" stop-color="#73ff8c"/><stop offset="0.4183" stop-color="#5bffa4"/><stop offset="0.4283" stop-color="#24ffdb"/><stop offset="0.4317" stop-color="#0cfff3"/><stop offset="0.4350" stop-color="#00f3ff"/><stop offset="0.4583" stop-color="#0040ff"/><stop offset="0.4683" stop-color="#0000ff"/><stop offset="0.4817" stop-color="#0000c2"/><stop offset="0.4950" stop-color="#0000a4"/><stop offset="0.5117" stop-color="#0000a2"/><stop offset="0.5250" stop-color="#0000b9"/><stop offset="0.5383" stop-color="#0000ec"/><stop offset="0.5417" stop-color="#0000fc"/><stop offset="0.5683" stop-color="#0083ff"/><stop offset="0.5850" stop-color="#00baff"/><stop offset="0.6017" stop-color="#00d3ff"/><stop offset="0.6317" stop-color="#00d4ff"/><stop offset="0.6683" stop-color="#00b3ff"/><stop offset="0.7717" stop-color="#00acff"/><stop offset="0.9983" stop-color="#00acff"/></linearGradient>
<linearGradient id="gb20"><stop offset="0.0017" stop-color="#007fff"/><stop offset="0.0383" stop-color="#007fff"/><stop offset="0.0583" stop-color="#0077ff"/><stop offset="0.0783" stop-color="#0083ff"/><stop offset="0.1050" stop-color="#0072ff"/><stop offset="0.1283" stop-color="#0085ff"/><stop offset="0.1517" stop-color="#006cff"/><stop offset="0.1750" stop-color="#0086ff"/><stop offset="0.1883" stop-color="#007aff"/><stop offset="0.2017" stop-color="#0067ff"/><stop offset="0.2117" stop-color="#0072ff"/><stop offset="0.2250" stop-color="#0089ff"/><stop offset="0.2350" stop-color="#0087ff"/><stop offset="0.2583" stop-color="#0061ff"/><stop offset="0.2683" stop-color="#006bff"/><stop offset="0.2883" stop-color="#0095ff"/><stop offset="0.2983" stop-color="#0096ff"/><stop offset="0.3083" stop-color="#0080ff"/><stop offset="0.3217" stop-color="#0043ff"/><stop offset="0.3317" stop-color="#0014ff"/><stop offset="0.3383" stop-color="#000bff"/><stop offset="0.3450" stop-color="#001cff"/><stop offset="0.3550" stop-color="#005cff"/><stop offset="0.3750" stop-color="#00eeff"/><stop offset="0.3783" stop-color="#04fffb"/><stop offset="0.3917" stop-color="#4fffb0"/><stop offset="0.4017" stop-color="#70ff8f"/><stop offset="0.4083" stop-color="#74ff8b"/><stop offset="0.4183" stop-color="#5cffa3"/><stop offset="0.4283" stop-color="#26ffd9"/><stop offset="0.4317" stop-color="#0ffff0"/><stop offset="0.4350" stop-color="#00f6ff"/><stop offset="0.4583" stop-color="#0045ff"/><stop offset="0.4683" stop-color="#0006ff"/><stop offset="0.4783" stop-color="#0000d5"/><stop offset="0.4883" stop-color="#0000b7"/><stop offset="0.5017" stop-color="#0000a9"/><stop offset="0.5150" stop-color="#0000b1"/><stop offset="0.5283" stop-color="#0000d3"/><stop offset="0.5383" stop-color="#0000fe"/><stop offset="0.5650" stop-color="#0083ff"/><stop offset="0.5817" stop-color="#00b9ff"/><stop offset="0.5983" stop-color="#00d3ff"/><stop offset="0.6283" stop-color="#00d5ff"/><stop offset="0.6683" stop-color="#00b3ff"/><stop offset="0.7783" stop-color="#00acff"/><stop offset="0.9983" stop-color="#00acff"/></linearGradient>
<linearGradient id="gb21"><stop offset="0.0017" stop-color="#007fff"/><stop offset="0.0383" stop-color="#007fff"/><stop offset="0.0583" stop-color="#0077ff"/><stop offset="0.0783" stop-color="#0083ff"/><stop offset="0.1050" stop-color="#0072ff"/><stop offset="0.1283" stop-color="#0085ff"/><stop offset="0.1517" stop-color="#006cff"/><stop offset="0.1750" stop-color="#0086ff"/><stop offset="0.1883" stop-color="#007aff"/><stop offset="0.2017" stop-color="#0067ff"/><stop offset="0.2117" stop-color="#0072ff"/><stop offset="0.2250" stop-color="#0089ff"/><stop offset="0.2350" stop-color="#0087ff"/><stop offset="0.2583" stop-color="#0061ff"/><stop offset="0.2683" stop-color="#006bff"/><stop offset="0.2883" stop-color="#0095ff"/><stop offset="0.2983" stop-color="#0096ff"/><stop offset="0.3083" stop-color="#007fff"/><stop offset="0.3217" stop-color="#0040ff"/><stop offset="0.3317" stop-color="#0010ff"/><stop offset="0.3383" stop-color="#0006ff"/><stop offset="0.3450" stop-color="#0017ff"/><stop offset="0.3550" stop-color="#0058ff"/><stop offset="0.3750" stop-color="#00edff"/><stop offset="0.3783" stop-color="#04fffb"/><stop offset="0.3917" stop-color="#4fffb0"/><stop offset="0.4017" stop-color="#70ff8f"/><stop offset="0.4117" stop-color="#71ff8e"/><stop offset="0.4217" stop-color="#4fffb0"/><stop offset="0.4350" stop-color="#00fbff"/><stop offset="0.4617" stop-color="#0039ff"/><stop offset="0.4717" stop-color="#0000ff"/><stop offset="0.4817" stop-color="#0000d7"/><stop offset="0.4917" stop-color="#0000c2"/><stop offset="0.5083" stop-color="#0000c0"/><stop offset="0.5217" stop-color="#0000d9"/><stop offset="0.5317" stop-color="#0000fe"/><stop offset="0.5617" stop-color="#0088ff"/><stop offset="0.5783" stop-color="#00b9ff"/><stop offset="0.5950" stop-color="#00d2ff"/><stop offset="0.6283" stop-color="#00d5ff"/><stop offset="0.6683" stop-color="#00b4ff"/><stop offset="0.7850" stop-color="#00acff"/><stop offset="0.9983" stop-color="#00acff"/></linearGradient>
<linearGradient id="gb22"><stop offset="0.0017" stop-color="#007fff"/><stop offset="0.0383" stop-color="#007fff"/><stop offset="0.0583" stop-color="#0077ff"/><stop offset="0.0783" stop-color="#0083ff"/><stop offset="0.1050" stop-color="#0072ff"/><stop offset="0.1283" stop-color="#0085ff"/><stop offset="0.1517" stop-color="#006cff"/><stop offset="0.1750" stop-color="#0086ff"/><stop offset="0.1883" stop-color="#007aff"/><stop offset="0.2017" stop-color="#0067ff"/><stop offset="0.2117" stop-color="#0072ff"/><stop offset="0.2250" stop-color="#0089ff"/><stop offset="0.2350" stop-color="#0087ff"/><stop offset="0.2583" stop-color="#0061ff"/><stop offset="0.2683" stop-color="#006bff"/><stop offset="0.2883" stop-color="#0095ff"/><stop offset="0.2983" stop-color="#0095ff"/><stop offset="0.3083" stop-color="#007eff"/><stop offset="0.3217" stop-color="#003dff"/><stop offset="0.3317" stop-color="#000bff"/><stop offset="0.3383" stop-color="#0001ff"/><stop offset="0.3450" stop-color="#0012ff"/><stop offset="0.3550" stop-color="#0055ff"/><stop offset="0.3717" stop-color="#00d5ff"/><stop offset="0.3783" stop-color="#03fffc"/><stop offset="0.3917" stop-color="#4fffb0"/><stop offset="0.4017" stop-color="#70ff8f"/><stop offset="0.4117" stop-color="#72ff8d"/><stop offset="0.4217" stop-color="#52ffad"/><stop offset="0.4350" stop-color="#01fffe"/><stop offset="0.4617" stop-color="#0047ff"/><stop offset="0.4750" stop-color="#0005ff"/><stop offset="0.4883" stop-color="#0000e1"/><stop offset="0.5050" stop-color="#0000dc"/><stop offset="0.5183" stop-color="#0000f2"/><stop offset="0.5217" stop-color="#0000fc"/><stop offset="0.5350" stop-color="#0031ff"/><stop offset="0.5583" stop-color="#0092ff"/><stop offset="0.5750" stop-color="#00bcff"/><stop offset="0.5950" stop-color="#00d4ff"/><stop offset="0.6317" stop-color="#00d3ff"/><stop offset="0.6683" stop-color="#00b4ff"/><stop offset="0.7850" stop-color="#00acff"/><stop offset="0.9983" stop-color="#00acff"/></linearGradient>
<linearGradient id="gb23"><stop offset="0.0017" stop-color="#007fff"/><stop offset="0.0383" stop-color="#007fff"/><stop offset="0.0583" stop-color="#0077ff"/><stop offset="0.0783" stop-color="#0083ff"/><stop offset="0.1050" stop-color="#0072ff"/><stop offset="0.1283" stop-color="#0085ff"/><stop offset="0.1517" stop-color="#006cff"/><stop offset="0.1750" stop-color="#0086ff"/><stop offset="0.1883" stop-color="#007aff"/><stop offset="0.2017" stop-color="#0067ff"/><stop offset="0.2117" stop-color="#0072ff"/><stop offset="0.2250" stop-color="#0089ff"/><stop offset="0.2350" stop-color="#0087ff"/><stop offset="0.2583" stop-color="#0061ff"/><stop offset="0.2683" stop-color="#006bff"/><stop offset="0.2883" stop-color="#0095ff"/><stop offset="0.2983" stop-color="#0095ff"/><stop offset="0.3083" stop-color="#007dff"/><stop offset="0.3183" stop-color="#004dff"/><stop offset="0.3317" stop-color="#0006ff"/><stop offset="0.3383" stop-color="#0000fa"/><stop offset="0.3417" stop-color="#0000ff"/><stop offset="0.3483" stop-color="#001fff"/><stop offset="0.3750" stop-color="#00ebff"/><stop offset="0.3783" stop-color="#02fffd"/><stop offset="0.3917" stop-color="#4effb1"/><stop offset="0.4017" stop-color="#70ff8f"/><stop offset="0.4117" stop-color="#73ff8c"/><stop offset="0.4217" stop-color="#54ffab"/><stop offset="0.4350" stop-color="#06fff9"/><stop offset="0.4417" stop-color="#00d8ff"/><stop offset="0.4617" stop-color="#0059ff"/><stop offset="0.4750" stop-color="#001dff"/><stop offset="0.4883" stop-color="#0000ff"/><stop offset="0.5083" stop-color="#0004ff"/><stop offset="0.5217" stop-color="#0023ff"/><stop offset="0.5550" stop-color="#009bff"/><stop offset="0.5750" stop-color="#00c3ff"/><stop offset="0.5983" stop-color="#00d5ff"/><stop offset="0.6350" stop-color="#00ceff"/><stop offset="0.6717" stop-color="#00b4ff"/><stop offset="0.8383" stop-color="#00acff"/><stop offset="0.9983" stop-color="#00acff"/></linearGradient>
<linearGradient id="gb24"><stop offset="0.0017" stop-color="#007fff"/><stop offset="0.0383" stop-color="#007fff"/><stop offset="0.0583" stop-color="#0077ff"/><stop offset="0.0783" stop-color="#0083ff"/><stop offset="0.1050" stop-color="#0072ff"/><stop offset="0.1283" stop-color="#0085ff"/><stop offset="0.1517" stop-color="#006cff"/><stop offset="0.1750" stop-color="#0086ff"/><stop offset="0.1883" stop-color="#007aff"/><stop offset="0.2017" stop-color="#0067ff"/><stop offset="0.2117" stop-color="#0072ff"/><stop offset="0.2250" stop-color="#0089ff"/><stop offset="0.2350" stop-color="#0087ff"/><stop offset="0.2583" stop-color="#0061ff"/><stop offset="0.2683" stop-color="#006bff"/><stop offset="0.2883" stop-color="#0095ff"/><stop offset="0.2983" stop-color="#0095ff"/><stop offset="0.3083" stop-color="#007cff"/><stop offset="0.3183" stop-color="#004bff"/><stop offset="0.3317" stop-color="#0001ff"/><stop offset="0.3383" stop-color="#0000f4"/><stop offset="0.3450" stop-color="#0007ff"/><stop offset="0.3517" stop-color="#0031ff"/><stop offset="0.3717" stop-color="#00d3ff"/><stop offset="0.3783" stop-color="#01fffe"/><stop offset="0.3917" stop-color="#4effb1"/><stop offset="0.4017" stop-color="#70ff8f"/><stop offset="0.4117" stop-color="#74ff8b"/><stop offset="0.4217" stop-color="#56ffa9"/><stop offset="0.4350" stop-color="#0bfff4"/><stop offset="0.4383" stop-color="#00f5ff"/><stop offset="0.4583" stop-color="#007cff"/><stop offset="0.4717" stop-color="#0042ff"/><stop offset="0.4850" stop-color="#0024ff"/><stop offset="0.5017" stop-color="#0021ff"/><stop offset="0.5150" stop-color="#0035ff"/><stop offset="0.5517" stop-color="#00a3ff"/><stop offset="0.5717" stop-color="#00c6ff"/><stop offset="0.5950" stop-color="#00d5ff"/><stop offset="0.6383" stop-color="#00c9ff"/><stop offset="0.6750" stop-color="#00b4ff"/><stop offset="0.8683" stop-color="#00acff"/><stop offset="0.9983" stop-color="#00acff"/></linearGradient>
<linearGradient id="gb25"><stop offset="0.0017" stop-color="#007fff"/><stop offset="0.0383" stop-color="#007fff"/><stop offset="0.0583" stop-color="#0077ff"/><stop offset="0.0783" stop-color="#0083ff"/><stop offset="0.1050" stop-color="#0072ff"/><stop offset="0.1283" stop-color="#0085ff"/><stop offset="0.1517" stop-color="#006cff"/><stop offset="0.1750" stop-color="#0086ff"/><stop offset="0.1883" stop-color="#007aff"/><stop offset="0.2017" stop-color="#0067ff"/><stop offset="0.2117" stop-color="#0072ff"/><stop offset="0.2250" stop-color="#0089ff"/><stop offset="0.2350" stop-color="#0087ff"/><stop offset="0.2583" stop-color="#0061ff"/><stop offset="0.2683" stop-color="#006bff"/><stop offset="0.2883" stop-color="#0095ff"/><stop offset="0.2983" stop-color="#0095ff"/><stop offset="0.3083" stop-color="#007cff"/><stop offset="0.3183" stop-color="#0049ff"/><stop offset="0.3283" stop-color="#000bff"/><stop offset="0.3317" stop-color="#0000fb"/><stop offset="0.3383" stop-color="#0000ee"/><stop offset="0.3450" stop-color="#0001ff"/><stop offset="0.3517" stop-color="#002cff"/><stop offset="0.3717" stop-color="#00d1ff"/><stop offset="0.3783" stop-color="#00ffff"/><stop offset="0.3917" stop-color="#4effb1"/><stop offset="0.4017" stop-color="#71ff8e"/><stop offset="0.4117" stop-color="#75ff8a"/><stop offset="0.4217" stop-color="#58ffa7"/><stop offset="0.4383" stop-color="#00fbff"/><stop offset="0.4583" stop-color="#008cff"/><stop offset="0.4717" stop-color="#005aff"/><stop offset="0.4850" stop-color="#0044ff"/><stop offset="0.5017" stop-color="#0045ff"/><stop offset="0.5183" stop-color="#0060ff"/><stop offset="0.5517" stop-color="#00b4ff"/><stop offset="0.5750" stop-color="#00d4ff"/><stop offset="0.5983" stop-color="#00d9ff"/><stop offset="0.6417" stop-color="#00c6ff"/><stop offset="0.6850" stop-color="#00b3ff"/><stop offset="0.9050" stop-color="#00acff"/><stop offset="0.9983" stop-color="#00acff"/></linearGradient>
<linearGradient id="gb26"><stop offset="0.0017" stop-color="#007fff"/><stop offset="0.0383" stop-color="#007fff"/><stop offset="0.0583" stop-color="#0077ff"/><stop offset="0.0783" stop-color="#0083ff"/><stop offset="0.1050" stop-color="#0072ff"/><stop offset="0.1283" stop-color="#0085ff"/><stop offset="0.1517" stop-color="#006cff"/><stop offset="0.1750" stop-color="#0086ff"/><stop offset="0.1883" stop-color="#007aff"/><stop offset="0.2017" stop-color="#0067ff"/><stop offset="0.2117" stop-color="#0072ff"/><stop offset="0.2250" stop-color="#0089ff"/><stop offset="0.2350" stop-color="#0087ff"/><stop offset="0.2583" stop-color="#0061ff"/><stop offset="0.2683" stop-color="#006bff"/><stop offset="0.2883" stop-color="#0095ff"/><stop offset="0.2983" stop-color="#0095ff"/><stop offset="0.3083" stop-color="#007bff"/><stop offset="0.3183" stop-color="#0046ff"/><stop offset="0.3283" stop-color="#0007ff"/><stop offset="0.3350" stop-color="#0000ec"/><stop offset="0.3383" stop-color="#0000e9"/><stop offset="0.3450" stop-color="#0000fb"/><stop offset="0.3483" stop-color="#000fff"/><stop offset="0.3717" stop-color="#00d0ff"/><stop offset="0.3783" stop-color="#01fffe"/><stop offset="0.3917" stop-color="#4fffb0"/><stop offset="0.4017" stop-color="#73ff8c"/><stop offset="0.4117" stop-color="#78ff87"/><stop offset="0.4217" stop-color="#5cffa3"/><stop offset="0.4383" stop-color="#03fffc"/><stop offset="0.4583" stop-color="#009cff"/><stop offset="0.4717" stop-color="#0073ff"/><stop offset="0.4850" stop-color="#0063ff"/><stop offset="0.5050" stop-color="#006bff"/><stop offset="0.5650" stop-color="#00dbff"/><stop offset="0.5883" stop-color="#00e6ff"/><stop offset="0.6750" stop-color="#00b7ff"/><stop offset="0.8050" stop-color="#00acff"/><stop offset="0.9983" stop-color="#00acff"/></linearGradient>
<linearGradient id="gb27"><stop offset="0.0017" stop-color="#007fff"/><stop offset="0.0383" stop-color="#007fff"/><stop offset="0.0583" stop-color="#0077ff"/><stop offset="0.0783" stop-color="#0083ff"/><stop offset="0.1050" stop-color="#0072ff"/><stop offset="0.1283" stop-color="#0085ff"/><stop offset="0.1517" stop-color="#006cff"/><stop offset="0.1750" stop-color="#0086ff"/><stop offset="0.1883" stop-color="#007aff"/><stop offset="0.2017" stop-color="#0067ff"/><stop offset="0.2117" stop-color="#0072ff"/><stop offset="0.2250" stop-color="#0089ff"/><stop offset="0.2350" stop-color="#0087ff"/><stop offset="0.2583" stop-color="#0061ff"/><stop offset="0.2683" stop-color="#006bff"/><stop offset="0.2883" stop-color="#0096ff"/><stop offset="0.2983" stop-color="#0095ff"/><stop offset="0.3083" stop-color="#007aff"/><stop offset="0.3183" stop-color="#0045ff"/><stop offset="0.3283" stop-color="#0004ff"/><stop offset="0.3350" stop-color="#0000e8"/><stop offset="0.3383" stop-color="#0000e5"/><stop offset="0.3417" stop-color="#0000ea"/><stop offset="0.3450" stop-color="#0000f7"/><stop offset="0.3483" stop-color="#000cff"/><stop offset="0.3717" stop-color="#00d1ff"/><stop offset="0.3783" stop-color="#02fffd"/><stop offset="0.3917" stop-color="#53ffac"/><stop offset="0.4017" stop-color="#78ff87"/><stop offset="0.4117" stop-color="#7eff81"/><stop offset="0.4217" stop-color="#63ff9c"/><stop offset="0.4383" stop-color="#0dfff2"/><stop offset="0.4417" stop-color="#00f9ff"/><stop offset="0.4550" stop-color="#00baff"/><stop offset="0.4683" stop-color="#0094ff"/><stop offset="0.4850" stop-color="#0083ff"/><stop offset="0.5050" stop-color="#008dff"/><stop offset="0.5617" stop-color="#00ebff"/><stop offset="0.5817" stop-color="#00f5ff"/><stop offset="0.6283" stop-color="#00d4ff"/><stop offset="0.6750" stop-color="#00b9ff"/><stop offset="0.7883" stop-color="#00acff"/><stop offset="0.9983" stop-color="#00acff"/></linearGradient>
<linearGradient id="gb28"><stop offset="0.0017" stop-color="#007fff"/><stop offset="0.0383" stop-color="#007fff"/><stop offset="0.0583" stop-color="#0077ff"/><stop offset="0.0783" stop-color="#0083ff"/><stop offset="0.1050" stop-color="#0072ff"/><stop offset="0.1283" stop-color="#0085ff"/><stop offset="0.1517" stop-color="#006cff"/><stop offset="0.1750" stop-color="#0086ff"/><stop offset="0.1883" stop-color="#007aff"/><stop offset="0.2017" stop-color="#0067ff"/><stop offset="0.2117" stop-color="#0072ff"/><stop offset="0.2250" stop-color="#0089ff"/><stop offset="0.2350" stop-color="#0087ff"/><stop offset="0.2583" stop-color="#0061ff"/><stop offset="0.2683" stop-color="#006bff"/><stop offset="0.2883" stop-color="#0096ff"/><stop offset="0.2983" stop-color="#0095ff"/><stop offset="0.3083" stop-color="#007aff"/><stop offset="0.3183" stop-color="#0043ff"/><stop offset="0.3283" stop-color="#0002ff"/><stop offset="0.3350" stop-color="#0000e5"/><stop offset="0.3383" stop-color="#0000e2"/><stop offset="0.3417" stop-color="#0000e7"/><stop offset="0.3450" stop-color="#0000f4"/><stop offset="0.3483" stop-color="#000aff"/><stop offset="0.3717" stop-color="#00d5ff"/><stop offset="0.3750" stop-color="#00efff"/><stop offset="0.3783" stop-color="#08fff7"/><stop offset="0.3917" stop-color="#5cffa3"/><stop offset="0.4017" stop-color="#84ff7b"/><stop offset="0.4117" stop-color="#8cff73"/><stop offset="0.4217" stop-color="#73ff8c"/><stop offset="0.4450" stop-color="#00fbff"/><stop offset="0.4583" stop-color="#00c6ff"/><stop offset="0.4717" stop-color="#00acff"/><stop offset="0.4917" stop-color="#00a4ff"/><stop offset="0.5117" stop-color="#00b5ff"/><stop offset="0.5550" stop-color="#00feff"/><stop offset="0.5750" stop-color="#05fffa"/><stop offset="0.5917" stop-color="#00f9ff"/><stop offset="0.6183" stop-color="#00dbff"/><stop offset="0.6783" stop-color="#00bbff"/><stop offset="0.7817" stop-color="#00acff"/><stop offset="0.9983" stop-color="#00acff"/></linearGradient>
<linearGradient id="gb29"><stop offset="0.0017" stop-color="#007fff"/><stop offset="0.0383" stop-color="#007fff"/><stop offset="0.0583" stop-color="#0077ff"/><stop offset="0.0783" stop-color="#0083ff"/><stop offset="0.1050" stop-color="#0072ff"/><stop offset="0.1283" stop-color="#0085ff"/><stop offset="0.1517" stop-color="#006cff"/><stop offset="0.1750" stop-color="#0086ff"/><stop offset="0.1883" stop-color="#007aff"/><stop offset="0.2017" stop-color="#0067ff"/><stop offset="0.2117" stop-color="#0072ff"/><stop offset="0.2250" stop-color="#0089ff"/><stop offset="0.2350" stop-color="#0087ff"/><stop offset="0.2583" stop-color="#0061ff"/><stop offset="0.2683" stop-color="#006cff"/><stop offset="0.2883" stop-color="#0096ff"/><stop offset="0.2983" stop-color="#0096ff"/><stop offset="0.3083" stop-color="#007aff"/><stop offset="0.3183" stop-color="#0043ff"/><stop offset="0.3283" stop-color="#0001ff"/><stop offset="0.3350" stop-color="#0000e4"/><stop offset="0.3383" stop-color="#0000e1"/><stop offset="0.3417" stop-color="#0000e6"/><stop offset="0.3450" stop-color="#0000f4"/><stop offset="0.3483" stop-color="#000aff"/><stop offset="0.3617" stop-color="#0083ff"/><stop offset="0.3750" stop-color="#00f8ff"/><stop offset="0.3817" stop-color="#2cffd3"/><stop offset="0.3950" stop-color="#80ff7f"/><stop offset="0.4050" stop-color="#a3ff5c"/><stop offset="0.4117" stop-color="#a7ff58"/><stop offset="0.4217" stop-color="#90ff6f"/><stop offset="0.4517" stop-color="#01fffe"/><stop offset="0.4650" stop-color="#00daff"/><stop offset="0.4817" stop-color="#00c9ff"/><stop offset="0.5050" stop-color="#00d1ff"/><stop offset="0.5250" stop-color="#00ecff"/><stop offset="0.5383" stop-color="#05fffa"/><stop offset="0.5583" stop-color="#15ffea"/><stop offset="0.5817" stop-color="#04fffb"/><stop offset="0.6183" stop-color="#00dbff"/><stop offset="0.6950" stop-color="#00b8ff"/><stop offset="0.7917" stop-color="#00abff"/><stop offset="0.9983" stop-color="#00abff"/></linearGradient>
<linearGradient id="gb30"><stop offset="0.0017" stop-color="#007fff"/><stop offset="0.0383" stop-color="#007fff"/><stop offset="0.0583" stop-color="#0077ff"/><stop offset="0.0783" stop-color="#0083ff"/><stop offset="0.1050" stop-color="#0072ff"/><stop offset="0.1283" stop-color="#0085ff"/><stop offset="0.1517" stop-color="#006cff"/><stop offset="0.1750" stop-color="#0086ff"/><stop offset="0.1883" stop-color="#007aff"/><stop offset="0.2017" stop-color="#0067ff"/><stop offset="0.2117" stop-color="#0072ff"/><stop offset="0.2250" stop-color="#0089ff"/><stop offset="0.2350" stop-color="#0087ff"/><stop offset="0.2583" stop-color="#0061ff"/><stop offset="0.2683" stop-color="#006cff"/><stop offset="0.2883" stop-color="#0097ff"/><stop offset="0.2983" stop-color="#0096ff"/><stop offset="0.3083" stop-color="#007bff"/><stop offset="0.3183" stop-color="#0043ff"/><stop offset="0.3283" stop-color="#0001ff"/><stop offset="0.3350" stop-color="#0000e5"/><stop offset="0.3383" stop-color="#0000e2"/><stop offset="0.3417" stop-color="#0000e8"/><stop offset="0.3450" stop-color="#0000f6"/><stop offset="0.3483" stop-color="#000dff"/><stop offset="0.3583" stop-color="#006aff"/><stop offset="0.3717" stop-color="#00ecff"/><stop offset="0.3750" stop-color="#0bfff4"/><stop offset="0.3883" stop-color="#76ff89"/><stop offset="0.3983" stop-color="#b3ff4c"/><stop offset="0.4050" stop-color="#ccff33"/><stop offset="0.4117" stop-color="#d3ff2c"/><stop offset="0.4217" stop-color="#c1ff3e"/><stop offset="0.4517" stop-color="#3affc5"/><stop offset="0.4683" stop-color="#0dfff2"/><stop offset="0.4850" stop-color="#00fdff"/><stop offset="0.5150" stop-color="#06fff9"/><stop offset="0.5483" stop-color="#21ffde"/><stop offset="0.5683" stop-color="#11ffee"/><stop offset="0.5817" stop-color="#00faff"/><stop offset="0.6083" stop-color="#00d8ff"/><stop offset="0.6583" stop-color="#00c6ff"/><stop offset="0.7517" stop-color="#00acff"/><stop offset="0.9983" stop-color="#00a9ff"/></linearGradient>
<linearGradient id="gb31"><stop offset="0.0017" stop-color="#007fff"/><stop offset="0.0383" stop-color="#007fff"/><stop offset="0.0583" stop-color="#0077ff"/><stop offset="0.0783" stop-color="#0083ff"/><stop offset="0.1050" stop-color="#0072ff"/><stop offset="0.1283" stop-color="#0085ff"/><stop offset="0.1517" stop-color="#006cff"/><stop offset="0.1750" stop-color="#0086ff"/><stop offset="0.1883" stop-color="#007aff"/><stop offset="0.2017" stop-color="#0067ff"/><stop offset="0.2117" stop-color="#0072ff"/><stop offset="0.2250" stop-color="#0089ff"/><stop offset="0.2350" stop-color="#0087ff"/><stop offset="0.2583" stop-color="#0061ff"/><stop offset="0.2683" stop-color="#006cff"/><stop offset="0.2883" stop-color="#0098ff"/><stop offset="0.2983" stop-color="#0097ff"/><stop offset="0.3083" stop-color="#007cff"/><stop offset="0.3183" stop-color="#0044ff"/><stop offset="0.3283" stop-color="#0003ff"/><stop offset="0.3350" stop-color="#0000e7"/><stop offset="0.3383" stop-color="#0000e5"/><stop offset="0.3417" stop-color="#0000ec"/><stop offset="0.3450" stop-color="#0000fb"/><stop offset="0.3483" stop-color="#0013ff"/><stop offset="0.3583" stop-color="#0075ff"/><stop offset="0.3717" stop-color="#03fffc"/><stop offset="0.3883" stop-color="#a0ff5f"/><stop offset="0.3983" stop-color="#e8ff17"/><stop offset="0.4017" stop-color="#faff05"/><stop offset="0.4117" stop-color="#ffe900"/><stop offset="0.4217" stop-color="#fff300"/><stop offset="0.4250" stop-color="#fffe00"/><stop offset="0.4517" stop-color="#8dff72"/><stop offset="0.4717" stop-color="#57ffa8"/><stop offset="0.4950" stop-color="#35ffca"/><stop offset="0.5217" stop-color="#29ffd6"/><stop offset="0.5483" stop-color="#23ffdc"/><stop offset="0.5717" stop-color="#00fdff"/><stop offset="0.5983" stop-color="#00d4ff"/><stop offset="0.6183" stop-color="#00cdff"/><stop offset="0.6483" stop-color="#00cbff"/><stop offset="0.7517" stop-color="#00aaff"/><stop offset="0.9983" stop-color="#00a7ff"/></linearGradient>
<linearGradient id="gb32"><stop offset="0.0017" stop-color="#007fff"/><stop offset="0.0383" stop-color="#007fff"/><stop offset="0.0583" stop-color="#0077ff"/><stop offset="0.0783" stop-color="#0084ff"/><stop offset="0.1050" stop-color="#0073ff"/><stop offset="0.1283" stop-color="#0086ff"/><stop offset="0.1517" stop-color="#006dff"/><stop offset="0.1750" stop-color="#0086ff"/><stop offset="0.1883" stop-color="#007bff"/><stop offset="0.2017" stop-color="#0068ff"/><stop offset="0.2117" stop-color="#0072ff"/><stop offset="0.2250" stop-color="#0089ff"/><stop offset="0.2350" stop-color="#0087ff"/><stop offset="0.2583" stop-color="#0062ff"/><stop offset="0.2683" stop-color="#006cff"/><stop offset="0.2883" stop-color="#009aff"/><stop offset="0.2983" stop-color="#009aff"/><stop offset="0.3083" stop-color="#007eff"/><stop offset="0.3183" stop-color="#0047ff"/><stop offset="0.3283" stop-color="#0007ff"/><stop offset="0.3350" stop-color="#0000ed"/><stop offset="0.3383" stop-color="#0000eb"/><stop offset="0.3450" stop-color="#0004ff"/><stop offset="0.3517" stop-color="#003bff"/><stop offset="0.3683" stop-color="#00f9ff"/><stop offset="0.3750" stop-color="#46ffb9"/><stop offset="0.3883" stop-color="#d5ff2a"/><stop offset="0.3917" stop-color="#f5ff0a"/><stop offset="0.3950" stop-color="#ffec00"/><stop offset="0.4017" stop-color="#ffbb00"/><stop offset="0.4083" stop-color="#ff9c00"/><stop offset="0.4150" stop-color="#ff9000"/><stop offset="0.4250" stop-color="#ff9d00"/><stop offset="0.4483" stop-color="#fffe00"/><stop offset="0.4917" stop-color="#6fff90"/><stop offset="0.5150" stop-color="#3bffc4"/><stop offset="0.5617" stop-color="#00fcff"/><stop offset="0.5850" stop-color="#00d1ff"/><stop offset="0.6083" stop-color="#00c4ff"/><stop offset="0.6417" stop-color="#00ccff"/><stop offset="0.7550" stop-color="#00a7ff"/><stop offset="0.9983" stop-color="#00a5ff"/></linearGradient>
<linearGradient id="gb33"><stop offset="0.0017" stop-color="#0081ff"/><stop offset="0.0383" stop-color="#0082ff"/><stop offset="0.0583" stop-color="#007aff"/><stop offset="0.0783" stop-color="#0087ff"/><stop offset="0.1050" stop-color="#0076ff"/><stop offset="0.1283" stop-color="#0089ff"/><stop offset="0.1517" stop-color="#0070ff"/><stop offset="0.1683" stop-color="#0084ff"/><stop offset="0.1783" stop-color="#008bff"/><stop offset="0.2017" stop-color="#006cff"/><stop offset="0.2117" stop-color="#0076ff"/><stop offset="0.2250" stop-color="#008eff"/><stop offset="0.2350" stop-color="#008cff"/><stop offset="0.2550" stop-color="#0067ff"/><stop offset="0.2650" stop-color="#006aff"/><stop offset="0.2883" stop-color="#00a3ff"/><stop offset="0.2983" stop-color="#00a4ff"/><stop offset="0.3083" stop-color="#0087ff"/><stop offset="0.3217" stop-color="#003aff"/><stop offset="0.3317" stop-color="#0003ff"/><stop offset="0.3383" stop-color="#0000f9"/><stop offset="0.3417" stop-color="#0002ff"/><stop offset="0.3483" stop-color="#002dff"/><stop offset="0.3550" stop-color="#0071ff"/><stop offset="0.3650" stop-color="#00ecff"/><stop offset="0.3683" stop-color="#18ffe7"/><stop offset="0.3850" stop-color="#eaff15"/><stop offset="0.3883" stop-color="#ffec00"/><stop offset="0.3983" stop-color="#ff8400"/><stop offset="0.4050" stop-color="#ff5300"/><stop offset="0.4117" stop-color="#ff3500"/><stop offset="0.4183" stop-color="#ff2b00"/><stop offset="0.4283" stop-color="#ff3b00"/><stop offset="0.4450" stop-color="#ff8300"/><stop offset="0.4683" stop-color="#fff500"/><stop offset="0.4717" stop-color="#f8ff07"/><stop offset="0.4983" stop-color="#70ff8f"/><stop offset="0.5150" stop-color="#34ffcb"/><stop offset="0.5383" stop-color="#05fffa"/><stop offset="0.5517" stop-color="#00f0ff"/><stop offset="0.5850" stop-color="#00c0ff"/><stop offset="0.6083" stop-color="#00bdff"/><stop offset="0.6417" stop-color="#00caff"/><stop offset="0.7550" stop-color="#00a4ff"/><stop offset="0.9983" stop-color="#00a1ff"/></linearGradient>
<linearGradient id="gb34"><stop offset="0.0017" stop-color="#0085ff"/><stop offset="0.0350" stop-color="#0089ff"/><stop offset="0.0550" stop-color="#007eff"/><stop offset="0.0783" stop-color="#008dff"/><stop offset="0.1017" stop-color="#007aff"/><stop offset="0.1283" stop-color="#0090ff"/><stop offset="0.1517" stop-color="#0076ff"/><stop offset="0.1650" stop-color="#0086ff"/><stop offset="0.1783" stop-color="#0093ff"/><stop offset="0.2017" stop-color="#0072ff"/><stop offset="0.2117" stop-color="#007dff"/><stop offset="0.2250" stop-color="#0097ff"/><stop offset="0.2350" stop-color="#0094ff"/><stop offset="0.2550" stop-color="#006dff"/><stop offset="0.2650" stop-color="#0070ff"/><stop offset="0.2883" stop-color="#00b3ff"/><stop offset="0.2983" stop-color="#00b5ff"/><stop offset="0.3083" stop-color="#0096ff"/><stop offset="0.3283" stop-color="#0021ff"/><stop offset="0.3350" stop-color="#000dff"/><stop offset="0.3383" stop-color="#000dff"/><stop offset="0.3417" stop-color="#0017ff"/><stop offset="0.3483" stop-color="#0042ff"/><stop offset="0.3550" stop-color="#0087ff"/><stop offset="0.3617" stop-color="#00dcff"/><stop offset="0.3650" stop-color="#0afff5"/><stop offset="0.3817" stop-color="#f3ff0c"/><stop offset="0.3850" stop-color="#ffdd00"/><stop offset="0.3950" stop-color="#ff5e00"/><stop offset="0.4017" stop-color="#ff1a00"/><stop offset="0.4050" stop-color="#ff0000"/><stop offset="0.4117" stop-color="#da0000"/><stop offset="0.4183" stop-color="#cb0000"/><stop offset="0.4250" stop-color="#d10000"/><stop offset="0.4383" stop-color="#ff0400"/><stop offset="0.4517" stop-color="#ff5300"/><stop offset="0.4750" stop-color="#fffc00"/><stop offset="0.4983" stop-color="#5dffa2"/><stop offset="0.5117" stop-color="#1bffe4"/><stop offset="0.5183" stop-color="#04fffb"/><stop offset="0.5517" stop-color="#00cfff"/><stop offset="0.5850" stop-color="#00b3ff"/><stop offset="0.6150" stop-color="#00bdff"/><stop offset="0.6417" stop-color="#00c8ff"/><stop offset="0.7550" stop-color="#00a0ff"/><stop offset="0.9983" stop-color="#009dff"/></linearGradient>
<linearGradient id="gb35"><stop offset="0.0017" stop-color="#008aff"/><stop offset="0.0350" stop-color="#008fff"/><stop offset="0.0550" stop-color="#0084ff"/><stop offset="0.0783" stop-color="#0093ff"/><stop offset="0.1017" stop-color="#0081ff"/><stop offset="0.1283" stop-color="#0098ff"/><stop offset="0.1517" stop-color="#007dff"/><stop offset="0.1650" stop-color="#008eff"/><stop offset="0.1750" stop-color="#009dff"/><stop offset="0.1850" stop-color="#0096ff"/><stop offset="0.1983" stop-color="#007cff"/><stop offset="0.2083" stop-color="#007fff"/><stop offset="0.2250" stop-color="#00a2ff"/><stop offset="0.2350" stop-color="#009eff"/><stop offset="0.2550" stop-color="#0073ff"/><stop offset="0.2650" stop-color="#0078ff"/><stop offset="0.2817" stop-color="#00b1ff"/><stop offset="0.2917" stop-color="#00cbff"/><stop offset="0.2983" stop-color="#00caff"/><stop offset="0.3050" stop-color="#00b7ff"/><stop offset="0.3183" stop-color="#006cff"/><stop offset="0.3283" stop-color="#0034ff"/><stop offset="0.3350" stop-color="#0022ff"/><stop offset="0.3383" stop-color="#0024ff"/><stop offset="0.3417" stop-color="#002dff"/><stop offset="0.3483" stop-color="#0059ff"/><stop offset="0.3550" stop-color="#009eff"/><stop offset="0.3617" stop-color="#00f4ff"/><stop offset="0.3650" stop-color="#23ffdc"/><stop offset="0.3783" stop-color="#e9ff16"/><stop offset="0.3817" stop-color="#ffe200"/><stop offset="0.3917" stop-color="#ff5100"/><stop offset="0.3983" stop-color="#fd0000"/><stop offset="0.4050" stop-color="#be0000"/><stop offset="0.4117" stop-color="#960000"/><stop offset="0.4183" stop-color="#870000"/><stop offset="0.4250" stop-color="#8e0000"/><stop offset="0.4350" stop-color="#b90000"/><stop offset="0.4450" stop-color="#f90000"/><stop offset="0.4483" stop-color="#ff1400"/><stop offset="0.4650" stop-color="#ffad00"/><stop offset="0.4717" stop-color="#ffef00"/><stop offset="0.4750" stop-color="#efff10"/><stop offset="0.4917" stop-color="#55ffaa"/><stop offset="0.5017" stop-color="#0cfff3"/><stop offset="0.5050" stop-color="#00f9ff"/><stop offset="0.5150" stop-color="#00cfff"/><stop offset="0.5283" stop-color="#00b7ff"/><stop offset="0.5850" stop-color="#00a8ff"/><stop offset="0.6383" stop-color="#00c5ff"/><stop offset="0.6950" stop-color="#00b0ff"/><stop offset="0.7617" stop-color="#009bff"/><stop offset="0.9983" stop-color="#0099ff"/></linearGradient>
<linearGradient id="gb36"><stop offset="0.0017" stop-color="#008fff"/><stop offset="0.0350" stop-color="#0096ff"/><stop offset="0.0550" stop-color="#008aff"/><stop offset="0.0783" stop-color="#009aff"/><stop offset="0.1017" stop-color="#0087ff"/><stop offset="0.1283" stop-color="#00a0ff"/><stop offset="0.1517" stop-color="#0084ff"/><stop offset="0.1650" stop-color="#0096ff"/><stop offset="0.1750" stop-color="#00a7ff"/><stop offset="0.1850" stop-color="#00a0ff"/><stop offset="0.1983" stop-color="#0084ff"/><stop offset="0.2083" stop-color="#0088ff"/><stop offset="0.2250" stop-color="#00adff"/><stop offset="0.2350" stop-color="#00a8ff"/><stop offset="0.2550" stop-color="#007aff"/><stop offset="0.2650" stop-color="#0080ff"/><stop offset="0.2750" stop-color="#00a2ff"/><stop offset="0.2883" stop-color="#00d9ff"/><stop offset="0.2950" stop-color="#00e2ff"/><stop offset="0.3017" stop-color="#00d7ff"/><stop offset="0.3117" stop-color="#00a6ff"/><stop offset="0.3250" stop-color="#0055ff"/><stop offset="0.3317" stop-color="#003bff"/><stop offset="0.3383" stop-color="#0038ff"/><stop offset="0.3450" stop-color="#0052ff"/><stop offset="0.3517" stop-color="#0089ff"/><stop offset="0.3617" stop-color="#03fffc"/><stop offset="0.3750" stop-color="#caff35"/><stop offset="0.3783" stop-color="#ffff00"/><stop offset="0.3917" stop-color="#ff3000"/><stop offset="0.3950" stop-color="#ff0200"/><stop offset="0.4017" stop-color="#b50000"/><stop offset="0.4083" stop-color="#810000"/><stop offset="0.4283" stop-color="#830000"/><stop offset="0.4383" stop-color="#c50000"/><stop offset="0.4450" stop-color="#fc0000"/><stop offset="0.4517" stop-color="#ff3d00"/><stop offset="0.4683" stop-color="#fffe00"/><stop offset="0.4850" stop-color="#42ffbd"/><stop offset="0.4917" stop-color="#00feff"/><stop offset="0.5017" stop-color="#00afff"/><stop offset="0.5083" stop-color="#008eff"/><stop offset="0.5183" stop-color="#0078ff"/><stop offset="0.5317" stop-color="#007cff"/><stop offset="0.5617" stop-color="#0097ff"/><stop offset="0.6050" stop-color="#00aeff"/><stop offset="0.6383" stop-color="#00c0ff"/><stop offset="0.6950" stop-color="#00acff"/><stop offset="0.7617" stop-color="#0097ff"/><stop offset="0.9983" stop-color="#0095ff"/></linearGradient>
<linearGradient id="gb37"><stop offset="0.0017" stop-color="#0093ff"/><stop offset="0.0350" stop-color="#009bff"/><stop offset="0.0550" stop-color="#0090ff"/><stop offset="0.0783" stop-color="#00a0ff"/><stop offset="0.1017" stop-color="#008dff"/><stop offset="0.1183" stop-color="#009fff"/><stop offset="0.1283" stop-color="#00a7ff"/><stop offset="0.1517" stop-color="#008aff"/><stop offset="0.1617" stop-color="#0096ff"/><stop offset="0.1750" stop-color="#00b0ff"/><stop offset="0.1850" stop-color="#00a8ff"/><stop offset="0.1983" stop-color="#008bff"/><stop offset="0.2083" stop-color="#008fff"/><stop offset="0.2250" stop-color="#00b6ff"/><stop offset="0.2350" stop-color="#00b0ff"/><stop offset="0.2517" stop-color="#0085ff"/><stop offset="0.2617" stop-color="#0081ff"/><stop offset="0.2717" stop-color="#009dff"/><stop offset="0.2883" stop-color="#00eaff"/><stop offset="0.2950" stop-color="#00f5ff"/><stop offset="0.3017" stop-color="#00e9ff"/><stop offset="0.3117" stop-color="#00b5ff"/><stop offset="0.3250" stop-color="#0064ff"/><stop offset="0.3317" stop-color="#004bff"/><stop offset="0.3383" stop-color="#0048ff"/><stop offset="0.3450" stop-color="#005fff"/><stop offset="0.3517" stop-color="#0092ff"/><stop offset="0.3617" stop-color="#05fffa"/><stop offset="0.3717" stop-color="#97ff68"/><stop offset="0.3783" stop-color="#fffb00"/><stop offset="0.3917" stop-color="#ff2500"/><stop offset="0.3950" stop-color="#f50000"/><stop offset="0.4017" stop-color="#a80000"/><stop offset="0.4050" stop-color="#8b0000"/><stop offset="0.4083" stop-color="#800000"/><stop offset="0.4250" stop-color="#800000"/><stop offset="0.4283" stop-color="#8f0000"/><stop offset="0.4383" stop-color="#e00000"/><stop offset="0.4417" stop-color="#ff0100"/><stop offset="0.4517" stop-color="#ff6c00"/><stop offset="0.4617" stop-color="#ffea00"/><stop offset="0.4650" stop-color="#e8ff17"/><stop offset="0.4817" stop-color="#0dfff2"/><stop offset="0.4850" stop-color="#00e5ff"/><stop offset="0.4950" stop-color="#007eff"/><stop offset="0.5017" stop-color="#004dff"/><stop offset="0.5083" stop-color="#0032ff"/><stop offset="0.5183" stop-color="#0029ff"/><stop offset="0.5350" stop-color="#004bff"/><stop offset="0.5583" stop-color="#0080ff"/><stop offset="0.6250" stop-color="#00b8ff"/><stop offset="0.6617" stop-color="#00b7ff"/><stop offset="0.7483" stop-color="#0095ff"/><stop offset="0.9983" stop-color="#0091ff"/></linearGradient>
<linearGradient id="gb38"><stop offset="0.0017" stop-color="#0096ff"/><stop offset="0.0350" stop-color="#009fff"/><stop offset="0.0550" stop-color="#0093ff"/><stop offset="0.0783" stop-color="#00a4ff"/><stop offset="0.1017" stop-color="#0091ff"/><stop offset="0.1183" stop-color="#00a3ff"/><stop offset="0.1283" stop-color="#00acff"/><stop offset="0.1517" stop-color="#008fff"/><stop offset="0.1617" stop-color="#009bff"/><stop offset="0.1750" stop-color="#00b6ff"/><stop offset="0.1850" stop-color="#00aeff"/><stop offset="0.1983" stop-color="#0090ff"/><stop offset="0.2083" stop-color="#0094ff"/><stop offset="0.2250" stop-color="#00bdff"/><stop offset="0.2350" stop-color="#00b6ff"/><stop offset="0.2517" stop-color="#0089ff"/><stop offset="0.2617" stop-color="#0086ff"/><stop offset="0.2717" stop-color="#00a3ff"/><stop offset="0.2883" stop-color="#00f6ff"/><stop offset="0.2917" stop-color="#01fffe"/><stop offset="0.2983" stop-color="#01fffe"/><stop offset="0.3050" stop-color="#00e8ff"/><stop offset="0.3250" stop-color="#006fff"/><stop offset="0.3317" stop-color="#0057ff"/><stop offset="0.3383" stop-color="#0053ff"/><stop offset="0.3450" stop-color="#0068ff"/><stop offset="0.3517" stop-color="#0095ff"/><stop offset="0.3583" stop-color="#00d8ff"/><stop offset="0.3617" stop-color="#01fffe"/><stop offset="0.3717" stop-color="#90ff6f"/><stop offset="0.3783" stop-color="#fcff03"/><stop offset="0.3917" stop-color="#ff2800"/><stop offset="0.3950" stop-color="#f80000"/><stop offset="0.4017" stop-color="#ab0000"/><stop offset="0.4050" stop-color="#8f0000"/><stop offset="0.4083" stop-color="#800000"/><stop offset="0.4217" stop-color="#800000"/><stop offset="0.4283" stop-color="#a90000"/><stop offset="0.4383" stop-color="#ff0600"/><stop offset="0.4483" stop-color="#ff7600"/><stop offset="0.4583" stop-color="#fff900"/><stop offset="0.4650" stop-color="#a7ff58"/><stop offset="0.4750" stop-color="#1affe5"/><stop offset="0.4783" stop-color="#00ecff"/><stop offset="0.4883" stop-color="#0073ff"/><stop offset="0.4950" stop-color="#0032ff"/><stop offset="0.5017" stop-color="#0003ff"/><stop offset="0.5117" stop-color="#0000e3"/><stop offset="0.5217" stop-color="#0000ec"/><stop offset="0.5283" stop-color="#0000ff"/><stop offset="0.5550" stop-color="#005fff"/><stop offset="0.5750" stop-color="#0088ff"/><stop offset="0.6183" stop-color="#00afff"/><stop offset="0.6517" stop-color="#00b5ff"/><stop offset="0.7517" stop-color="#0091ff"/><stop offset="0.9983" stop-color="#008eff"/></linearGradient>
<linearGradient id="gb39"><stop offset="0.0017" stop-color="#0097ff"/><stop offset="0.0350" stop-color="#00a0ff"/><stop offset="0.0550" stop-color="#0095ff"/><stop offset="0.0783" stop-color="#00a6ff"/><stop offset="0.1017" stop-color="#0092ff"/><stop offset="0.1183" stop-color="#00a5ff"/><stop offset="0.1283" stop-color="#00adff"/><stop offset="0.1517" stop-color="#0090ff"/><stop offset="0.1617" stop-color="#009cff"/><stop offset="0.1750" stop-color="#00b8ff"/><stop offset="0.1850" stop-color="#00afff"/><stop offset="0.1983" stop-color="#0091ff"/><stop offset="0.2083" stop-color="#0096ff"/><stop offset="0.2250" stop-color="#00beff"/><stop offset="0.2350" stop-color="#00b8ff"/><stop offset="0.2517" stop-color="#008bff"/><stop offset="0.2617" stop-color="#0087ff"/><stop offset="0.2717" stop-color="#00a6ff"/><stop offset="0.2883" stop-color="#00fbff"/><stop offset="0.2950" stop-color="#0afff5"/><stop offset="0.3017" stop-color="#00fcff"/><stop offset="0.3117" stop-color="#00c5ff"/><stop offset="0.3250" stop-color="#0075ff"/><stop offset="0.3317" stop-color="#005dff"/><stop offset="0.3383" stop-color="#0058ff"/><stop offset="0.3450" stop-color="#006aff"/><stop offset="0.3517" stop-color="#0093ff"/><stop offset="0.3583" stop-color="#00d1ff"/><stop offset="0.3617" stop-color="#00f7ff"/><stop offset="0.3650" stop-color="#23ffdc"/><stop offset="0.3750" stop-color="#b8ff47"/><stop offset="0.3783" stop-color="#efff10"/><stop offset="0.3817" stop-color="#ffd600"/><stop offset="0.3917" stop-color="#ff3200"/><stop offset="0.3950" stop-color="#ff0200"/><stop offset="0.4017" stop-color="#b40000"/><stop offset="0.4050" stop-color="#990000"/><stop offset="0.4083" stop-color="#860000"/><stop offset="0.4150" stop-color="#800000"/><stop offset="0.4183" stop-color="#810000"/><stop offset="0.4250" stop-color="#a30000"/><stop offset="0.4350" stop-color="#fa0000"/><stop offset="0.4417" stop-color="#ff4400"/><stop offset="0.4517" stop-color="#ffc200"/><stop offset="0.4550" stop-color="#fff200"/><stop offset="0.4583" stop-color="#dcff23"/><stop offset="0.4717" stop-color="#11ffee"/><stop offset="0.4750" stop-color="#00dfff"/><stop offset="0.4850" stop-color="#005bff"/><stop offset="0.4917" stop-color="#0015ff"/><stop offset="0.4950" stop-color="#0000f7"/><stop offset="0.5017" stop-color="#0000cc"/><stop offset="0.5083" stop-color="#0000b6"/><stop offset="0.5183" stop-color="#0000b5"/><stop offset="0.5283" stop-color="#0000cf"/><stop offset="0.5383" stop-color="#0000f8"/><stop offset="0.5450" stop-color="#0016ff"/><stop offset="0.5650" stop-color="#0061ff"/><stop offset="0.5850" stop-color="#008cff"/><stop offset="0.6183" stop-color="#00aaff"/><stop offset="0.6550" stop-color="#00adff"/><stop offset="0.7550" stop-color="#008dff"/><stop offset="0.9983" stop-color="#008bff"/></linearGradient>
<linearGradient id="gb40"><stop offset="0.0017" stop-color="#0097ff"/><stop offset="0.0350" stop-color="#00a0ff"/><stop offset="0.0550" stop-color="#0095ff"/><stop offset="0.0783" stop-color="#00a6ff"/><stop offset="0.1017" stop-color="#0092ff"/><stop offset="0.1183" stop-color="#00a5ff"/><stop offset="0.1283" stop-color="#00adff"/><stop offset="0.1517" stop-color="#0090ff"/><stop offset="0.1617" stop-color="#009cff"/><stop offset="0.1750" stop-color="#00b8ff"/><stop offset="0.1850" stop-color="#00afff"/><stop offset="0.1983" stop-color="#0091ff"/><stop offset="0.2083" stop-color="#0096ff"/><stop offset="0.2250" stop-color="#00beff"/><stop offset="0.2350" stop-color="#00b8ff"/><stop offset="0.2517" stop-color="#008bff"/><stop offset="0.2617" stop-color="#0087ff"/><stop offset="0.2717" stop-color="#00a6ff"/><stop offset="0.2883" stop-color="#00fdff"/><stop offset="0.2950" stop-color="#0cfff3"/><stop offset="0.3017" stop-color="#00feff"/><stop offset="0.3117" stop-color="#00c7ff"/><stop offset="0.3250" stop-color="#0077ff"/><stop offset="0.3317" stop-color="#0060ff"/><stop offset="0.3383" stop-color="#005aff"/><stop offset="0.3450" stop-color="#0069ff"/><stop offset="0.3517" stop-color="#008fff"/><stop offset="0.3583" stop-color="#00c8ff"/><stop offset="0.3617" stop-color="#00ecff"/><stop offset="0.3650" stop-color="#15ffea"/><stop offset="0.3750" stop-color="#a7ff58"/><stop offset="0.3783" stop-color="#deff21"/><stop offset="0.3817" stop-color="#ffe700"/><stop offset="0.3917" stop-color="#ff4100"/><stop offset="0.3950" stop-color="#ff1000"/><stop offset="0.3983" stop-color="#e40000"/><stop offset="0.4017" stop-color="#c10000"/><stop offset="0.4050" stop-color="#a50000"/><stop offset="0.4083" stop-color="#920000"/><stop offset="0.4117" stop-color="#880000"/><stop offset="0.4150" stop-color="#860000"/><stop offset="0.4217" stop-color="#9a0000"/><stop offset="0.4283" stop-color="#c60000"/><stop offset="0.4350" stop-color="#ff0300"/><stop offset="0.4450" stop-color="#ff7400"/><stop offset="0.4550" stop-color="#fdff02"/><stop offset="0.4683" stop-color="#1effe1"/><stop offset="0.4717" stop-color="#00e5ff"/><stop offset="0.4783" stop-color="#007eff"/><stop offset="0.4850" stop-color="#0028ff"/><stop offset="0.4883" stop-color="#0005ff"/><stop offset="0.4983" stop-color="#0000b9"/><stop offset="0.5050" stop-color="#00009e"/><stop offset="0.5150" stop-color="#000094"/><stop offset="0.5250" stop-color="#0000a2"/><stop offset="0.5417" stop-color="#0000de"/><stop offset="0.5483" stop-color="#0000fc"/><stop offset="0.5717" stop-color="#005dff"/><stop offset="0.5883" stop-color="#0086ff"/><stop offset="0.6117" stop-color="#00a0ff"/><stop offset="0.6483" stop-color="#00a8ff"/><stop offset="0.7583" stop-color="#008aff"/><stop offset="0.9983" stop-color="#0088ff"/></linearGradient>
<linearGradient id="gb41"><stop offset="0.0017" stop-color="#0097ff"/><stop offset="0.0350" stop-color="#00a0ff"/><stop offset="0.0550" stop-color="#0095ff"/><stop offset="0.0783" stop-color="#00a6ff"/><stop offset="0.1017" stop-color="#0092ff"/><stop offset="0.1183" stop-color="#00a5ff"/><stop offset="0.1283" stop-color="#00adff"/><stop offset="0.1517" stop-color="#0090ff"/><stop offset="0.1617" stop-color="#009cff"/><stop offset="0.1750" stop-color="#00b8ff"/><stop offset="0.1850" stop-color="#00afff"/><stop offset="0.1983" stop-color="#0091ff"/><stop offset="0.2083" stop-color="#0096ff"/><stop offset="0.2250" stop-color="#00beff"/><stop offset="0.2350" stop-color="#00b8ff"/><stop offset="0.2517" stop-color="#008bff"/><stop offset="0.2617" stop-color="#0087ff"/><stop offset="0.2717" stop-color="#00a6ff"/><stop offset="0.2883" stop-color="#00feff"/><stop offset="0.2950" stop-color="#0dfff2"/><stop offset="0.3017" stop-color="#01fffe"/><stop offset="0.3083" stop-color="#00deff"/><stop offset="0.3250" stop-color="#007aff"/><stop offset="0.3317" stop-color="#0062ff"/><stop offset="0.3383" stop-color="#005cff"/><stop offset="0.3450" stop-color="#0069ff"/><stop offset="0.3517" stop-color="#008bff"/><stop offset="0.3583" stop-color="#00c0ff"/><stop offset="0.3650" stop-color="#07fff8"/><stop offset="0.3717" stop-color="#61ff9e"/><stop offset="0.3817" stop-color="#fffa00"/><stop offset="0.3917" stop-color="#ff5200"/><stop offset="0.3950" stop-color="#ff2100"/><stop offset="0.3983" stop-color="#f40000"/><stop offset="0.4017" stop-color="#d00000"/><stop offset="0.4050" stop-color="#b30000"/><stop offset="0.4083" stop-color="#9f0000"/><stop offset="0.4117" stop-color="#940000"/><stop offset="0.4183" stop-color="#970000"/><stop offset="0.4250" stop-color="#b40000"/><stop offset="0.4350" stop-color="#ff0200"/><stop offset="0.4450" stop-color="#ff7200"/><stop offset="0.4517" stop-color="#ffd200"/><stop offset="0.4550" stop-color="#f5ff0a"/><stop offset="0.4683" stop-color="#03fffc"/><stop offset="0.4783" stop-color="#005aff"/><stop offset="0.4850" stop-color="#0005ff"/><stop offset="0.4917" stop-color="#0000c6"/><stop offset="0.4983" stop-color="#0000a1"/><stop offset="0.5083" stop-color="#000089"/><stop offset="0.5217" stop-color="#000089"/><stop offset="0.5350" stop-color="#0000a4"/><stop offset="0.5517" stop-color="#0000e5"/><stop offset="0.5583" stop-color="#0005ff"/><stop offset="0.5783" stop-color="#005dff"/><stop offset="0.5950" stop-color="#0088ff"/><stop offset="0.6183" stop-color="#009dff"/><stop offset="0.6650" stop-color="#009dff"/><stop offset="0.7617" stop-color="#0086ff"/><stop offset="0.9983" stop-color="#0085ff"/></linearGradient>
<linearGradient id="gb42"><stop offset="0.0017" stop-color="#0097ff"/><stop offset="0.0350" stop-color="#00a0ff"/><stop offset="0.0550" stop-color="#0095ff"/><stop offset="0.0783" stop-color="#00a6ff"/><stop offset="0.1017" stop-color="#0092ff"/><stop offset="0.1183" stop-color="#00a5ff"/><stop offset="0.1283" stop-color="#00adff"/><stop offset="0.1517" stop-color="#0090ff"/><stop offset="0.1617" stop-color="#009cff"/><stop offset="0.1750" stop-color="#00b8ff"/><stop offset="0.1850" stop-color="#00afff"/><stop offset="0.1983" stop-color="#0091ff"/><stop offset="0.2083" stop-color="#0096ff"/><stop offset="0.2250" stop-color="#00beff"/><stop offset="0.2350" stop-color="#00b8ff"/><stop offset="0.2517" stop-color="#008bff"/><stop offset="0.2617" stop-color="#0087ff"/><stop offset="0.2717" stop-color="#00a7ff"/><stop offset="0.2883" stop-color="#00ffff"/><stop offset="0.2950" stop-color="#0ffff0"/><stop offset="0.3017" stop-color="#03fffc"/><stop offset="0.3083" stop-color="#00e0ff"/><stop offset="0.3217" stop-color="#008cff"/><stop offset="0.3317" stop-color="#0064ff"/><stop offset="0.3383" stop-color="#005dff"/><stop offset="0.3450" stop-color="#0069ff"/><stop offset="0.3517" stop-color="#0088ff"/><stop offset="0.3583" stop-color="#00b8ff"/><stop offset="0.3650" stop-color="#00f9ff"/><stop offset="0.3683" stop-color="#22ffdd"/><stop offset="0.3750" stop-color="#80ff7f"/><stop offset="0.3817" stop-color="#eeff11"/><stop offset="0.3850" stop-color="#ffd700"/><stop offset="0.3950" stop-color="#ff3500"/><stop offset="0.3983" stop-color="#ff0800"/><stop offset="0.4017" stop-color="#e20000"/><stop offset="0.4050" stop-color="#c50000"/><stop offset="0.4083" stop-color="#b10000"/><stop offset="0.4117" stop-color="#a50000"/><stop offset="0.4183" stop-color="#a50000"/><stop offset="0.4250" stop-color="#bf0000"/><stop offset="0.4317" stop-color="#ea0000"/><stop offset="0.4350" stop-color="#ff0700"/><stop offset="0.4417" stop-color="#ff4c00"/><stop offset="0.4483" stop-color="#ffa500"/><stop offset="0.4517" stop-color="#ffd900"/><stop offset="0.4550" stop-color="#ecff13"/><stop offset="0.4650" stop-color="#2fffd0"/><stop offset="0.4683" stop-color="#00eeff"/><stop offset="0.4750" stop-color="#0078ff"/><stop offset="0.4817" stop-color="#0019ff"/><stop offset="0.4850" stop-color="#0000f2"/><stop offset="0.4917" stop-color="#0000b9"/><stop offset="0.4983" stop-color="#000098"/><stop offset="0.5083" stop-color="#000083"/><stop offset="0.5250" stop-color="#000082"/><stop offset="0.5383" stop-color="#000097"/><stop offset="0.5517" stop-color="#0000c7"/><stop offset="0.5617" stop-color="#0000fa"/><stop offset="0.5717" stop-color="#002fff"/><stop offset="0.5850" stop-color="#0066ff"/><stop offset="0.5983" stop-color="#0085ff"/><stop offset="0.6217" stop-color="#0098ff"/><stop offset="0.6783" stop-color="#0094ff"/><stop offset="0.7750" stop-color="#0083ff"/><stop offset="0.9983" stop-color="#0082ff"/></linearGradient>
<linearGradient id="gb43"><stop offset="0.0017" stop-color="#0097ff"/><stop offset="0.0350" stop-color="#00a0ff"/><stop offset="0.0550" stop-color="#0095ff"/><stop offset="0.0783" stop-color="#00a6ff"/><stop offset="0.1017" stop-color="#0092ff"/><stop offset="0.1183" stop-color="#00a5ff"/><stop offset="0.1283" stop-color="#00adff"/><stop offset="0.1517" stop-color="#0090ff"/><stop offset="0.1617" stop-color="#009cff"/><stop offset="0.1750" stop-color="#00b8ff"/><stop offset="0.1850" stop-color="#00afff"/><stop offset="0.1983" stop-color="#0091ff"/><stop offset="0.2083" stop-color="#0096ff"/><stop offset="0.2250" stop-color="#00beff"/><stop offset="0.2350" stop-color="#00b8ff"/><stop offset="0.2517" stop-color="#008bff"/><stop offset="0.2617" stop-color="#0087ff"/><stop offset="0.2717" stop-color="#00a7ff"/><stop offset="0.2883" stop-color="#01fffe"/><stop offset="0.2950" stop-color="#10ffef"/><stop offset="0.3017" stop-color="#04fffb"/><stop offset="0.3083" stop-color="#00e1ff"/><stop offset="0.3217" stop-color="#008eff"/><stop offset="0.3317" stop-color="#0066ff"/><stop offset="0.3383" stop-color="#005fff"/><stop offset="0.3450" stop-color="#0069ff"/><stop offset="0.3550" stop-color="#0099ff"/><stop offset="0.3617" stop-color="#00ccff"/><stop offset="0.3650" stop-color="#00ecff"/><stop offset="0.3683" stop-color="#12ffed"/><stop offset="0.3750" stop-color="#6bff94"/><stop offset="0.3817" stop-color="#d6ff29"/><stop offset="0.3850" stop-color="#ffef00"/><stop offset="0.3950" stop-color="#ff4c00"/><stop offset="0.3983" stop-color="#ff2000"/><stop offset="0.4017" stop-color="#f90000"/><stop offset="0.4050" stop-color="#dc0000"/><stop offset="0.4083" stop-color="#c70000"/><stop offset="0.4117" stop-color="#bb0000"/><stop offset="0.4183" stop-color="#ba0000"/><stop offset="0.4250" stop-color="#d10000"/><stop offset="0.4317" stop-color="#f90000"/><stop offset="0.4350" stop-color="#ff1500"/><stop offset="0.4417" stop-color="#ff5a00"/><stop offset="0.4483" stop-color="#ffb300"/><stop offset="0.4517" stop-color="#ffe800"/><stop offset="0.4550" stop-color="#dcff23"/><stop offset="0.4650" stop-color="#1effe1"/><stop offset="0.4683" stop-color="#00dfff"/><stop offset="0.4750" stop-color="#006dff"/><stop offset="0.4817" stop-color="#0015ff"/><stop offset="0.4850" stop-color="#0000f1"/><stop offset="0.4917" stop-color="#0000be"/><stop offset="0.5017" stop-color="#000093"/><stop offset="0.5150" stop-color="#000080"/><stop offset="0.5317" stop-color="#000083"/><stop offset="0.5450" stop-color="#00009f"/><stop offset="0.5583" stop-color="#0000d8"/><stop offset="0.5650" stop-color="#0000fc"/><stop offset="0.5850" stop-color="#005bff"/><stop offset="0.5983" stop-color="#007eff"/><stop offset="0.6183" stop-color="#0091ff"/><stop offset="0.6750" stop-color="#0090ff"/><stop offset="0.7850" stop-color="#0081ff"/><stop offset="0.9983" stop-color="#0080ff"/></linearGradient>
<linearGradient id="gb44"><stop offset="0.0017" stop-color="#0097ff"/><stop offset="0.0350" stop-color="#00a0ff"/><stop offset="0.0550" stop-color="#0095ff"/><stop offset="0.0783" stop-color="#00a6ff"/><stop offset="0.1017" stop-color="#0092ff"/><stop offset="0.1183" stop-color="#00a5ff"/><stop offset="0.1283" stop-color="#00adff"/><stop offset="0.1517" stop-color="#0090ff"/><stop offset="0.1617" stop-color="#009cff"/><stop offset="0.1750" stop-color="#00b8ff"/><stop offset="0.1850" stop-color="#00afff"/><stop offset="0.1983" stop-color="#0091ff"/><stop offset="0.2083" stop-color="#0096ff"/><stop offset="0.2250" stop-color="#00beff"/><stop offset="0.2350" stop-color="#00b8ff"/><stop offset="0.2517" stop-color="#008bff"/><stop offset="0.2617" stop-color="#0087ff"/><stop offset="0.2717" stop-color="#00a7ff"/><stop offset="0.2883" stop-color="#01fffe"/><stop offset="0.2950" stop-color="#10ffef"/><stop offset="0.3017" stop-color="#04fffb"/><stop offset="0.3083" stop-color="#00e1ff"/><stop offset="0.3217" stop-color="#008fff"/><stop offset="0.3317" stop-color="#0067ff"/><stop offset="0.3383" stop-color="#0060ff"/><stop offset="0.3450" stop-color="#006aff"/><stop offset="0.3550" stop-color="#0095ff"/><stop offset="0.3617" stop-color="#00c3ff"/><stop offset="0.3683" stop-color="#03fffc"/><stop offset="0.3750" stop-color="#57ffa8"/><stop offset="0.3850" stop-color="#f6ff09"/><stop offset="0.3883" stop-color="#ffd000"/><stop offset="0.3950" stop-color="#ff6700"/><stop offset="0.4017" stop-color="#ff1400"/><stop offset="0.4050" stop-color="#f60000"/><stop offset="0.4083" stop-color="#e10000"/><stop offset="0.4150" stop-color="#d10000"/><stop offset="0.4217" stop-color="#dd0000"/><stop offset="0.4283" stop-color="#fb0000"/><stop offset="0.4317" stop-color="#ff1200"/><stop offset="0.4383" stop-color="#ff4c00"/><stop offset="0.4450" stop-color="#ff9c00"/><stop offset="0.4517" stop-color="#fdff02"/><stop offset="0.4650" stop-color="#0bfff4"/><stop offset="0.4683" stop-color="#00d0ff"/><stop offset="0.4750" stop-color="#006bff"/><stop offset="0.4817" stop-color="#001eff"/><stop offset="0.4850" stop-color="#0001ff"/><stop offset="0.4950" stop-color="#0000bb"/><stop offset="0.5050" stop-color="#000093"/><stop offset="0.5183" stop-color="#000080"/><stop offset="0.5350" stop-color="#000083"/><stop offset="0.5483" stop-color="#0000a0"/><stop offset="0.5617" stop-color="#0000da"/><stop offset="0.5683" stop-color="#0000fd"/><stop offset="0.5850" stop-color="#004fff"/><stop offset="0.5983" stop-color="#0076ff"/><stop offset="0.6183" stop-color="#008bff"/><stop offset="0.6817" stop-color="#008aff"/><stop offset="0.8117" stop-color="#007fff"/><stop offset="0.9983" stop-color="#007fff"/></linearGradient>
<linearGradient id="gb45"><stop offset="0.0017" stop-color="#0097ff"/><stop offset="0.0350" stop-color="#00a0ff"/><stop offset="0.0550" stop-color="#0095ff"/><stop offset="0.0783" stop-color="#00a6ff"/><stop offset="0.1017" stop-color="#0092ff"/><stop offset="0.1183" stop-color="#00a5ff"/><stop offset="0.1283" stop-color="#00adff"/><stop offset="0.1517" stop-color="#0090ff"/><stop offset="0.1617" stop-color="#009cff"/><stop offset="0.1750" stop-color="#00b8ff"/><stop offset="0.1850" stop-color="#00afff"/><stop offset="0.1983" stop-color="#0091ff"/><stop offset="0.2083" stop-color="#0096ff"/><stop offset="0.2250" stop-color="#00beff"/><stop offset="0.2350" stop-color="#00b8ff"/><stop offset="0.2517" stop-color="#008bff"/><stop offset="0.2617" stop-color="#0087ff"/><stop offset="0.2717" stop-color="#00a7ff"/><stop offset="0.2883" stop-color="#01fffe"/><stop offset="0.2950" stop-color="#10ffef"/><stop offset="0.3017" stop-color="#04fffb"/><stop offset="0.3083" stop-color="#00e1ff"/><stop offset="0.3217" stop-color="#008fff"/><stop offset="0.3317" stop-color="#0068ff"/><stop offset="0.3383" stop-color="#0061ff"/><stop offset="0.3483" stop-color="#0075ff"/><stop offset="0.3583" stop-color="#00a6ff"/><stop offset="0.3650" stop-color="#00d6ff"/><stop offset="0.3683" stop-color="#00f5ff"/><stop offset="0.3717" stop-color="#1affe5"/><stop offset="0.3783" stop-color="#72ff8d"/><stop offset="0.3850" stop-color="#dcff23"/><stop offset="0.3883" stop-color="#ffeb00"/><stop offset="0.3950" stop-color="#ff8300"/><stop offset="0.4017" stop-color="#ff3100"/><stop offset="0.4050" stop-color="#ff1400"/><stop offset="0.4083" stop-color="#ff0000"/><stop offset="0.4150" stop-color="#ef0000"/><stop offset="0.4217" stop-color="#fb0000"/><stop offset="0.4250" stop-color="#ff0800"/><stop offset="0.4317" stop-color="#ff2f00"/><stop offset="0.4383" stop-color="#ff6b00"/><stop offset="0.4450" stop-color="#ffbd00"/><stop offset="0.4483" stop-color="#ffee00"/><stop offset="0.4517" stop-color="#daff25"/><stop offset="0.4617" stop-color="#2bffd4"/><stop offset="0.4650" stop-color="#00f1ff"/><stop offset="0.4717" stop-color="#008cff"/><stop offset="0.4783" stop-color="#003dff"/><stop offset="0.4850" stop-color="#0004ff"/><stop offset="0.4983" stop-color="#0000b4"/><stop offset="0.5083" stop-color="#000091"/><stop offset="0.5217" stop-color="#000080"/><stop offset="0.5383" stop-color="#000083"/><stop offset="0.5517" stop-color="#0000a1"/><stop offset="0.5683" stop-color="#0000ed"/><stop offset="0.5717" stop-color="#0000ff"/><stop offset="0.5883" stop-color="#004fff"/><stop offset="0.6017" stop-color="#0074ff"/><stop offset="0.6217" stop-color="#0088ff"/><stop offset="0.7050" stop-color="#0084ff"/><stop offset="0.9983" stop-color="#007fff"/></linearGradient>
<linearGradient id="gb46"><stop offset="0.0017" stop-color="#0097ff"/><stop offset="0.0350" stop-color="#00a0ff"/><stop offset="0.0550" stop-color="#0095ff"/><stop offset="0.0783" stop-color="#00a6ff"/><stop offset="0.1017" stop-color="#0092ff"/><stop offset="0.1183" stop-color="#00a5ff"/><stop offset="0.1283" stop-color="#00adff"/><stop offset="0.1517" stop-color="#0090ff"/><stop offset="0.1617" stop-color="#009cff"/><stop offset="0.1750" stop-color="#00b8ff"/><stop offset="0.1850" stop-color="#00afff"/><stop offset="0.1983" stop-color="#0091ff"/><stop offset="0.2083" stop-color="#0096ff"/><stop offset="0.2250" stop-color="#00beff"/><stop offset="0.2350" stop-color="#00b8ff"/><stop offset="0.2517" stop-color="#008bff"/><stop offset="0.2617" stop-color="#0087ff"/><stop offset="0.2717" stop-color="#00a7ff"/><stop offset="0.2883" stop-color="#00ffff"/><stop offset="0.2950" stop-color="#0ffff0"/><stop offset="0.3017" stop-color="#03fffc"/><stop offset="0.3083" stop-color="#00e1ff"/><stop offset="0.3217" stop-color="#008fff"/><stop offset="0.3317" stop-color="#0068ff"/><stop offset="0.3383" stop-color="#0061ff"/><stop offset="0.3483" stop-color="#0074ff"/><stop offset="0.3583" stop-color="#00a3ff"/><stop offset="0.3683" stop-color="#00eaff"/><stop offset="0.3717" stop-color="#0cfff3"/><stop offset="0.3783" stop-color="#5dffa2"/><stop offset="0.3883" stop-color="#f8ff07"/><stop offset="0.3950" stop-color="#ff9f00"/><stop offset="0.4017" stop-color="#ff4f00"/><stop offset="0.4050" stop-color="#ff3200"/><stop offset="0.4083" stop-color="#ff1f00"/><stop offset="0.4150" stop-color="#ff1000"/><stop offset="0.4217" stop-color="#ff1b00"/><stop offset="0.4283" stop-color="#ff3900"/><stop offset="0.4350" stop-color="#ff6d00"/><stop offset="0.4417" stop-color="#ffb900"/><stop offset="0.4450" stop-color="#ffe700"/><stop offset="0.4483" stop-color="#e4ff1b"/><stop offset="0.4617" stop-color="#05fffa"/><stop offset="0.4717" stop-color="#007cff"/><stop offset="0.4783" stop-color="#003cff"/><stop offset="0.4850" stop-color="#000cff"/><stop offset="0.4883" stop-color="#0000f6"/><stop offset="0.5017" stop-color="#0000b1"/><stop offset="0.5117" stop-color="#000090"/><stop offset="0.5250" stop-color="#000080"/><stop offset="0.5417" stop-color="#000084"/><stop offset="0.5550" stop-color="#0000a2"/><stop offset="0.5717" stop-color="#0000ef"/><stop offset="0.5750" stop-color="#0001ff"/><stop offset="0.5917" stop-color="#004fff"/><stop offset="0.6050" stop-color="#0073ff"/><stop offset="0.6250" stop-color="#0086ff"/><stop offset="0.9983" stop-color="#007fff"/></linearGradient>
<linearGradient id="gb47"><stop offset="0.0017" stop-color="#0097ff"/><stop offset="0.0350" stop-color="#00a0ff"/><stop offset="0.0550" stop-color="#0095ff"/><stop offset="0.0783" stop-color="#00a6ff"/><stop offset="0.1017" stop-color="#0092ff"/><stop offset="0.1183" stop-color="#00a5ff"/><stop offset="0.1283" stop-color="#00adff"/><stop offset="0.1517" stop-color="#0090ff"/><stop offset="0.1617" stop-color="#009cff"/><stop offset="0.1750" stop-color="#00b8ff"/><stop offset="0.1850" stop-color="#00afff"/><stop offset="0.1983" stop-color="#0091ff"/><stop offset="0.2083" stop-color="#0096ff"/><stop offset="0.2250" stop-color="#00beff"/><stop offset="0.2350" stop-color="#00b8ff"/><stop offset="0.2517" stop-color="#008bff"/><stop offset="0.2617" stop-color="#0087ff"/><stop offset="0.2717" stop-color="#00a6ff"/><stop offset="0.2883" stop-color="#00feff"/><stop offset="0.2950" stop-color="#0efff1"/><stop offset="0.3017" stop-color="#02fffd"/><stop offset="0.3083" stop-color="#00e0ff"/><stop offset="0.3217" stop-color="#008fff"/><stop offset="0.3317" stop-color="#0069ff"/><stop offset="0.3383" stop-color="#0062ff"/><stop offset="0.3483" stop-color="#0075ff"/><stop offset="0.3583" stop-color="#00a1ff"/><stop offset="0.3683" stop-color="#00e1ff"/><stop offset="0.3717" stop-color="#00ffff"/><stop offset="0.3783" stop-color="#4bffb4"/><stop offset="0.3883" stop-color="#deff21"/><stop offset="0.3917" stop-color="#ffec00"/><stop offset="0.3983" stop-color="#ff9100"/><stop offset="0.4017" stop-color="#ff6d00"/><stop offset="0.4050" stop-color="#ff5100"/><stop offset="0.4083" stop-color="#ff3e00"/><stop offset="0.4150" stop-color="#ff3000"/><stop offset="0.4217" stop-color="#ff3c00"/><stop offset="0.4283" stop-color="#ff5b00"/><stop offset="0.4350" stop-color="#ff9300"/><stop offset="0.4417" stop-color="#ffe400"/><stop offset="0.4450" stop-color="#eaff15"/><stop offset="0.4583" stop-color="#16ffe9"/><stop offset="0.4617" stop-color="#00e5ff"/><stop offset="0.4683" stop-color="#0095ff"/><stop offset="0.4750" stop-color="#0059ff"/><stop offset="0.4883" stop-color="#0003ff"/><stop offset="0.5050" stop-color="#0000ae"/><stop offset="0.5150" stop-color="#00008e"/><stop offset="0.5283" stop-color="#000080"/><stop offset="0.5450" stop-color="#000084"/><stop offset="0.5583" stop-color="#0000a4"/><stop offset="0.5783" stop-color="#0002ff"/><stop offset="0.5950" stop-color="#004eff"/><stop offset="0.6083" stop-color="#0072ff"/><stop offset="0.6283" stop-color="#0083ff"/><stop offset="0.9983" stop-color="#007fff"/></linearGradient>
<linearGradient id="gb48"><stop offset="0.0017" stop-color="#0097ff"/><stop offset="0.0350" stop-color="#00a0ff"/><stop offset="0.0550" stop-color="#0095ff"/><stop offset="0.0783" stop-color="#00a6ff"/><stop offset="0.1017" stop-color="#0092ff"/><stop offset="0.1183" stop-color="#00a5ff"/><stop offset="0.1283" stop-color="#00adff"/><stop offset="0.1517" stop-color="#0090ff"/><stop offset="0.1617" stop-color="#009cff"/><stop offset="0.1750" stop-color="#00b8ff"/><stop offset="0.1850" stop-color="#00afff"/><stop offset="0.1983" stop-color="#0091ff"/><stop offset="0.2083" stop-color="#0096ff"/><stop offset="0.2250" stop-color="#00beff"/><stop offset="0.2350" stop-color="#00b8ff"/><stop offset="0.2517" stop-color="#008bff"/><stop offset="0.2617" stop-color="#0087ff"/><stop offset="0.2717" stop-color="#00a6ff"/><stop offset="0.2883" stop-color="#00fdff"/><stop offset="0.2950" stop-color="#0cfff3"/><stop offset="0.3017" stop-color="#01fffe"/><stop offset="0.3117" stop-color="#00caff"/><stop offset="0.3250" stop-color="#007fff"/><stop offset="0.3350" stop-color="#0063ff"/><stop offset="0.3450" stop-color="#006bff"/><stop offset="0.3550" stop-color="#008fff"/><stop offset="0.3650" stop-color="#00c5ff"/><stop offset="0.3717" stop-color="#00f5ff"/><stop offset="0.3750" stop-color="#15ffea"/><stop offset="0.3817" stop-color="#65ff9a"/><stop offset="0.3917" stop-color="#f8ff07"/><stop offset="0.3983" stop-color="#ffad00"/><stop offset="0.4017" stop-color="#ff8a00"/><stop offset="0.4050" stop-color="#ff6f00"/><stop offset="0.4083" stop-color="#ff5d00"/><stop offset="0.4150" stop-color="#ff5000"/><stop offset="0.4217" stop-color="#ff5b00"/><stop offset="0.4283" stop-color="#ff7d00"/><stop offset="0.4350" stop-color="#ffb900"/><stop offset="0.4383" stop-color="#ffe100"/><stop offset="0.4417" stop-color="#efff10"/><stop offset="0.4550" stop-color="#26ffd9"/><stop offset="0.4583" stop-color="#00f8ff"/><stop offset="0.4650" stop-color="#00adff"/><stop offset="0.4750" stop-color="#005fff"/><stop offset="0.4917" stop-color="#0000fd"/><stop offset="0.5083" stop-color="#0000ab"/><stop offset="0.5217" stop-color="#000086"/><stop offset="0.5350" stop-color="#000080"/><stop offset="0.5483" stop-color="#000084"/><stop offset="0.5617" stop-color="#0000a5"/><stop offset="0.5817" stop-color="#0003ff"/><stop offset="0.5983" stop-color="#004eff"/><stop offset="0.6117" stop-color="#0071ff"/><stop offset="0.6317" stop-color="#0082ff"/><stop offset="0.9983" stop-color="#007fff"/></linearGradient>
<linearGradient id="gb49"><stop offset="0.0017" stop-color="#0097ff"/><stop offset="0.0350" stop-color="#00a0ff"/><stop offset="0.0550" stop-color="#0095ff"/><stop offset="0.0783" stop-color="#00a6ff"/><stop offset="0.1017" stop-color="#0092ff"/><stop offset="0.1183" stop-color="#00a5ff"/><stop offset="0.1283" stop-color="#00adff"/><stop offset="0.1517" stop-color="#0090ff"/><stop offset="0.1617" stop-color="#009cff"/><stop offset="0.1750" stop-color="#00b8ff"/><stop offset="0.1850" stop-color="#00afff"/><stop offset="0.1983" stop-color="#0091ff"/><stop offset="0.2083" stop-color="#0096ff"/><stop offset="0.2250" stop-color="#00beff"/><stop offset="0.2350" stop-color="#00b8ff"/><stop offset="0.2517" stop-color="#008bff"/><stop offset="0.2617" stop-color="#0087ff"/><stop offset="0.2717" stop-color="#00a6ff"/><stop offset="0.2883" stop-color="#00fcff"/><stop offset="0.2950" stop-color="#0bfff4"/><stop offset="0.3017" stop-color="#00feff"/><stop offset="0.3117" stop-color="#00c9ff"/><stop offset="0.3250" stop-color="#007fff"/><stop offset="0.3350" stop-color="#0063ff"/><stop offset="0.3450" stop-color="#006bff"/><stop offset="0.3583" stop-color="#009fff"/><stop offset="0.3683" stop-color="#00d7ff"/><stop offset="0.3717" stop-color="#00eeff"/><stop offset="0.3750" stop-color="#0bfff4"/><stop offset="0.3817" stop-color="#53ffac"/><stop offset="0.3917" stop-color="#dfff20"/><stop offset="0.3950" stop-color="#fff100"/><stop offset="0.4017" stop-color="#ffa500"/><stop offset="0.4050" stop-color="#ff8c00"/><stop offset="0.4083" stop-color="#ff7a00"/><stop offset="0.4150" stop-color="#ff6e00"/><stop offset="0.4217" stop-color="#ff7a00"/><stop offset="0.4283" stop-color="#ff9e00"/><stop offset="0.4350" stop-color="#ffdf00"/><stop offset="0.4383" stop-color="#f5ff0a"/><stop offset="0.4517" stop-color="#36ffc9"/><stop offset="0.4550" stop-color="#0bfff4"/><stop offset="0.4583" stop-color="#00e5ff"/><stop offset="0.4650" stop-color="#00a9ff"/><stop offset="0.4783" stop-color="#0054ff"/><stop offset="0.4917" stop-color="#000bff"/><stop offset="0.4950" stop-color="#0000f8"/><stop offset="0.5117" stop-color="#0000a8"/><stop offset="0.5217" stop-color="#00008b"/><stop offset="0.5350" stop-color="#000080"/><stop offset="0.5483" stop-color="#000082"/><stop offset="0.5617" stop-color="#00009e"/><stop offset="0.5750" stop-color="#0000d8"/><stop offset="0.5817" stop-color="#0000fb"/><stop offset="0.6017" stop-color="#0055ff"/><stop offset="0.6150" stop-color="#0073ff"/><stop offset="0.6383" stop-color="#0081ff"/><stop offset="0.9983" stop-color="#007fff"/></linearGradient>
<linearGradient id="gb50"><stop offset="0.0017" stop-color="#0097ff"/><stop offset="0.0350" stop-color="#00a0ff"/><stop offset="0.0550" stop-color="#0095ff"/><stop offset="0.0783" stop-color="#00a6ff"/><stop offset="0.1017" stop-color="#0092ff"/><stop offset="0.1183" stop-color="#00a5ff"/><stop offset="0.1283" stop-color="#00adff"/><stop offset="0.1517" stop-color="#0090ff"/><stop offset="0.1617" stop-color="#009cff"/><stop offset="0.1750" stop-color="#00b8ff"/><stop offset="0.1850" stop-color="#00afff"/><stop offset="0.1983" stop-color="#0091ff"/><stop offset="0.2083" stop-color="#0096ff"/><stop offset="0.2250" stop-color="#00beff"/><stop offset="0.2350" stop-color="#00b8ff"/><stop offset="0.2517" stop-color="#008bff"/><stop offset="0.2617" stop-color="#0087ff"/><stop offset="0.2717" stop-color="#00a5ff"/><stop offset="0.2883" stop-color="#00faff"/><stop offset="0.2950" stop-color="#09fff6"/><stop offset="0.3017" stop-color="#00fcff"/><stop offset="0.3117" stop-color="#00c8ff"/><stop offset="0.3250" stop-color="#007eff"/><stop offset="0.3350" stop-color="#0063ff"/><stop offset="0.3450" stop-color="#006bff"/><stop offset="0.3583" stop-color="#009fff"/><stop offset="0.3717" stop-color="#00eaff"/><stop offset="0.3750" stop-color="#04fffb"/><stop offset="0.3817" stop-color="#45ffba"/><stop offset="0.3950" stop-color="#f6ff09"/><stop offset="0.3983" stop-color="#ffe000"/><stop offset="0.4017" stop-color="#ffbf00"/><stop offset="0.4050" stop-color="#ffa600"/><stop offset="0.4117" stop-color="#ff8c00"/><stop offset="0.4183" stop-color="#ff8d00"/><stop offset="0.4250" stop-color="#ffa600"/><stop offset="0.4317" stop-color="#ffdc00"/><stop offset="0.4350" stop-color="#fbff04"/><stop offset="0.4483" stop-color="#46ffb9"/><stop offset="0.4517" stop-color="#1dffe2"/><stop offset="0.4550" stop-color="#00f9ff"/><stop offset="0.4650" stop-color="#00a6ff"/><stop offset="0.4850" stop-color="#002fff"/><stop offset="0.4917" stop-color="#0009ff"/><stop offset="0.4950" stop-color="#0000f5"/><stop offset="0.5117" stop-color="#0000a5"/><stop offset="0.5217" stop-color="#000089"/><stop offset="0.5350" stop-color="#000080"/><stop offset="0.5483" stop-color="#000082"/><stop offset="0.5617" stop-color="#00009f"/><stop offset="0.5783" stop-color="#0000ea"/><stop offset="0.5817" stop-color="#0000fb"/><stop offset="0.6017" stop-color="#0054ff"/><stop offset="0.6150" stop-color="#0072ff"/><stop offset="0.6383" stop-color="#0080ff"/><stop offset="0.9983" stop-color="#007fff"/></linearGradient>
<linearGradient id="gb51"><stop offset="0.0017" stop-color="#0097ff"/><stop offset="0.0350" stop-color="#00a0ff"/><stop offset="0.0550" stop-color="#0095ff"/><stop offset="0.0783" stop-color="#00a6ff"/><stop offset="0.1017" stop-color="#0092ff"/><stop offset="0.1183" stop-color="#00a5ff"/><stop offset="0.1283" stop-color="#00adff"/><stop offset="0.1517" stop-color="#0090ff"/><stop offset="0.1617" stop-color="#009cff"/><stop offset="0.1750" stop-color="#00b8ff"/><stop offset="0.1850" stop-color="#00afff"/><stop offset="0.1983" stop-color="#0091ff"/><stop offset="0.2083" stop-color="#0096ff"/><stop offset="0.2250" stop-color="#00beff"/><stop offset="0.2350" stop-color="#00b8ff"/><stop offset="0.2517" stop-color="#008bff"/><stop offset="0.2617" stop-color="#0087ff"/><stop offset="0.2717" stop-color="#00a5ff"/><stop offset="0.2883" stop-color="#00f8ff"/><stop offset="0.2950" stop-color="#06fff9"/><stop offset="0.3017" stop-color="#00faff"/><stop offset="0.3150" stop-color="#00b2ff"/><stop offset="0.3250" stop-color="#007eff"/><stop offset="0.3350" stop-color="#0063ff"/><stop offset="0.3450" stop-color="#006bff"/><stop offset="0.3583" stop-color="#009fff"/><stop offset="0.3717" stop-color="#00e7ff"/><stop offset="0.3750" stop-color="#00feff"/><stop offset="0.3817" stop-color="#3affc5"/><stop offset="0.3917" stop-color="#b6ff49"/><stop offset="0.3950" stop-color="#e1ff1e"/><stop offset="0.3983" stop-color="#fff600"/><stop offset="0.4017" stop-color="#ffd600"/><stop offset="0.4050" stop-color="#ffbe00"/><stop offset="0.4117" stop-color="#ffa600"/><stop offset="0.4183" stop-color="#ffa600"/><stop offset="0.4250" stop-color="#ffc100"/><stop offset="0.4283" stop-color="#ffdb00"/><stop offset="0.4317" stop-color="#fffd00"/><stop offset="0.4383" stop-color="#adff52"/><stop offset="0.4483" stop-color="#31ffce"/><stop offset="0.4517" stop-color="#0ffff0"/><stop offset="0.4550" stop-color="#00f0ff"/><stop offset="0.4683" stop-color="#008fff"/><stop offset="0.4917" stop-color="#0005ff"/><stop offset="0.5050" stop-color="#0000be"/><stop offset="0.5183" stop-color="#00008f"/><stop offset="0.5283" stop-color="#000080"/><stop offset="0.5483" stop-color="#000082"/><stop offset="0.5617" stop-color="#0000a0"/><stop offset="0.5783" stop-color="#0000ea"/><stop offset="0.5817" stop-color="#0000fc"/><stop offset="0.6017" stop-color="#0054ff"/><stop offset="0.6150" stop-color="#0072ff"/><stop offset="0.6383" stop-color="#007fff"/><stop offset="0.9983" stop-color="#007fff"/></linearGradient>
<linearGradient id="gb52"><stop offset="0.0017" stop-color="#0097ff"/><stop offset="0.0350" stop-color="#00a0ff"/><stop offset="0.0550" stop-color="#0095ff"/><stop offset="0.0783" stop-color="#00a6ff"/><stop offset="0.1017" stop-color="#0092ff"/><stop offset="0.1183" stop-color="#00a5ff"/><stop offset="0.1283" stop-color="#00adff"/><stop offset="0.1517" stop-color="#0090ff"/><stop offset="0.1617" stop-color="#009cff"/><stop offset="0.1750" stop-color="#00b8ff"/><stop offset="0.1850" stop-color="#00afff"/><stop offset="0.1983" stop-color="#0091ff"/><stop offset="0.2083" stop-color="#0096ff"/><stop offset="0.2250" stop-color="#00beff"/><stop offset="0.2350" stop-color="#00b8ff"/><stop offset="0.2517" stop-color="#008bff"/><stop offset="0.2617" stop-color="#0087ff"/><stop offset="0.2717" stop-color="#00a4ff"/><stop offset="0.2883" stop-color="#00f7ff"/><stop offset="0.2917" stop-color="#01fffe"/><stop offset="0.2983" stop-color="#02fffd"/><stop offset="0.3050" stop-color="#00eaff"/><stop offset="0.3250" stop-color="#007eff"/><stop offset="0.3350" stop-color="#0063ff"/><stop offset="0.3450" stop-color="#006bff"/><stop offset="0.3583" stop-color="#009fff"/><stop offset="0.3717" stop-color="#00e7ff"/><stop offset="0.3750" stop-color="#00fdff"/><stop offset="0.3817" stop-color="#35ffca"/><stop offset="0.3917" stop-color="#a8ff57"/><stop offset="0.3983" stop-color="#f5ff0a"/><stop offset="0.4017" stop-color="#ffeb00"/><stop offset="0.4083" stop-color="#ffc400"/><stop offset="0.4150" stop-color="#ffb900"/><stop offset="0.4217" stop-color="#ffc600"/><stop offset="0.4250" stop-color="#ffd700"/><stop offset="0.4283" stop-color="#fff100"/><stop offset="0.4317" stop-color="#ecff13"/><stop offset="0.4450" stop-color="#4effb1"/><stop offset="0.4517" stop-color="#0dfff2"/><stop offset="0.4550" stop-color="#00f0ff"/><stop offset="0.4717" stop-color="#0077ff"/><stop offset="0.4917" stop-color="#0001ff"/><stop offset="0.5083" stop-color="#0000ad"/><stop offset="0.5217" stop-color="#000087"/><stop offset="0.5350" stop-color="#000080"/><stop offset="0.5483" stop-color="#000083"/><stop offset="0.5617" stop-color="#0000a1"/><stop offset="0.5783" stop-color="#0000eb"/><stop offset="0.5817" stop-color="#0000fc"/><stop offset="0.6017" stop-color="#0053ff"/><stop offset="0.6150" stop-color="#0071ff"/><stop offset="0.6383" stop-color="#007fff"/><stop offset="0.9983" stop-color="#007fff"/></linearGradient>
<linearGradient id="gb53"><stop offset="0.0017" stop-color="#0097ff"/><stop offset="0.0350" stop-color="#00a0ff"/><stop offset="0.0550" stop-color="#0095ff"/><stop offset="0.0783" stop-color="#00a6ff"/><stop offset="0.1017" stop-color="#0092ff"/><stop offset="0.1183" stop-color="#00a5ff"/><stop offset="0.1283" stop-color="#00adff"/><stop offset="0.1517" stop-color="#0090ff"/><stop offset="0.1617" stop-color="#009cff"/><stop offset="0.1750" stop-color="#00b8ff"/><stop offset="0.1850" stop-color="#00afff"/><stop offset="0.1983" stop-color="#0091ff"/><stop offset="0.2083" stop-color="#0096ff"/><stop offset="0.2250" stop-color="#00beff"/><stop offset="0.2350" stop-color="#00b8ff"/><stop offset="0.2517" stop-color="#008bff"/><stop offset="0.2617" stop-color="#0087ff"/><stop offset="0.2717" stop-color="#00a4ff"/><stop offset="0.2883" stop-color="#00f5ff"/><stop offset="0.2917" stop-color="#00feff"/><stop offset="0.2983" stop-color="#00feff"/><stop offset="0.3050" stop-color="#00e8ff"/><stop offset="0.3250" stop-color="#007dff"/><stop offset="0.3350" stop-color="#0063ff"/><stop offset="0.3450" stop-color="#006bff"/><stop offset="0.3583" stop-color="#009fff"/><stop offset="0.3717" stop-color="#00e6ff"/><stop offset="0.3750" stop-color="#00fcff"/><stop offset="0.3817" stop-color="#33ffcc"/><stop offset="0.3983" stop-color="#e5ff1a"/><stop offset="0.4017" stop-color="#fffc00"/><stop offset="0.4083" stop-color="#ffd700"/><stop offset="0.4150" stop-color="#ffcc00"/><stop offset="0.4217" stop-color="#ffd800"/><stop offset="0.4283" stop-color="#feff01"/><stop offset="0.4350" stop-color="#bcff43"/><stop offset="0.4483" stop-color="#2cffd3"/><stop offset="0.4517" stop-color="#0efff1"/><stop offset="0.4550" stop-color="#00f0ff"/><stop offset="0.4717" stop-color="#0075ff"/><stop offset="0.4917" stop-color="#0000fc"/><stop offset="0.5083" stop-color="#0000aa"/><stop offset="0.5217" stop-color="#000086"/><stop offset="0.5350" stop-color="#000080"/><stop offset="0.5483" stop-color="#000083"/><stop offset="0.5617" stop-color="#0000a2"/><stop offset="0.5783" stop-color="#0000ec"/><stop offset="0.5817" stop-color="#0000fc"/><stop offset="0.5983" stop-color="#0048ff"/><stop offset="0.6117" stop-color="#006bff"/><stop offset="0.6317" stop-color="#007dff"/><stop offset="0.9983" stop-color="#007fff"/></linearGradient>
<linearGradient id="gb54"><stop offset="0.0017" stop-color="#0097ff"/><stop offset="0.0350" stop-color="#00a0ff"/><stop offset="0.0550" stop-color="#0095ff"/><stop offset="0.0783" stop-color="#00a6ff"/><stop offset="0.1017" stop-color="#0092ff"/><stop offset="0.1183" stop-color="#00a5ff"/><stop offset="0.1283" stop-color="#00adff"/><stop offset="0.1517" stop-color="#0090ff"/><stop offset="0.1617" stop-color="#009cff"/><stop offset="0.1750" stop-color="#00b8ff"/><stop offset="0.1850" stop-color="#00afff"/><stop offset="0.1983" stop-color="#0091ff"/><stop offset="0.2083" stop-color="#0096ff"/><stop offset="0.2250" stop-color="#00beff"/><stop offset="0.2350" stop-color="#00b8ff"/><stop offset="0.2517" stop-color="#008bff"/><stop offset="0.2617" stop-color="#0087ff"/><stop offset="0.2717" stop-color="#00a4ff"/><stop offset="0.2883" stop-color="#00f4ff"/><stop offset="0.2950" stop-color="#01fffe"/><stop offset="0.3017" stop-color="#00f4ff"/><stop offset="0.3150" stop-color="#00afff"/><stop offset="0.3250" stop-color="#007dff"/><stop offset="0.3350" stop-color="#0063ff"/><stop offset="0.3450" stop-color="#006bff"/><stop offset="0.3583" stop-color="#009fff"/><stop offset="0.3750" stop-color="#00fcff"/><stop offset="0.3817" stop-color="#31ffce"/><stop offset="0.3983" stop-color="#d8ff27"/><stop offset="0.4017" stop-color="#f3ff0c"/><stop offset="0.4050" stop-color="#fff600"/><stop offset="0.4117" stop-color="#ffdf00"/><stop offset="0.4183" stop-color="#ffde00"/><stop offset="0.4250" stop-color="#fff600"/><stop offset="0.4283" stop-color="#f2ff0d"/><stop offset="0.4383" stop-color="#92ff6d"/><stop offset="0.4517" stop-color="#0efff1"/><stop offset="0.4550" stop-color="#00f1ff"/><stop offset="0.4717" stop-color="#0072ff"/><stop offset="0.4883" stop-color="#000cff"/><stop offset="0.4917" stop-color="#0000f8"/><stop offset="0.5083" stop-color="#0000a8"/><stop offset="0.5217" stop-color="#000085"/><stop offset="0.5417" stop-color="#000080"/><stop offset="0.5550" stop-color="#00008f"/><stop offset="0.5683" stop-color="#0000bc"/><stop offset="0.5817" stop-color="#0000fd"/><stop offset="0.5983" stop-color="#0048ff"/><stop offset="0.6117" stop-color="#006bff"/><stop offset="0.6317" stop-color="#007dff"/><stop offset="0.9983" stop-color="#007fff"/></linearGradient>
<linearGradient id="gb55"><stop offset="0.0017" stop-color="#0097ff"/><stop offset="0.0350" stop-color="#00a0ff"/><stop offset="0.0550" stop-color="#0095ff"/><stop offset="0.0783" stop-color="#00a6ff"/><stop offset="0.1017" stop-color="#0092ff"/><stop offset="0.1183" stop-color="#00a5ff"/><stop offset="0.1283" stop-color="#00adff"/><stop offset="0.1517" stop-color="#0090ff"/><stop offset="0.1617" stop-color="#009cff"/><stop offset="0.1750" stop-color="#00b8ff"/><stop offset="0.1850" stop-color="#00afff"/><stop offset="0.1983" stop-color="#0091ff"/><stop offset="0.2083" stop-color="#0096ff"/><stop offset="0.2250" stop-color="#00beff"/><stop offset="0.2350" stop-color="#00b8ff"/><stop offset="0.2517" stop-color="#008bff"/><stop offset="0.2617" stop-color="#0086ff"/><stop offset="0.2717" stop-color="#00a3ff"/><stop offset="0.2883" stop-color="#00f2ff"/><stop offset="0.2950" stop-color="#00feff"/><stop offset="0.3017" stop-color="#00f2ff"/><stop offset="0.3150" stop-color="#00aeff"/><stop offset="0.3250" stop-color="#007cff"/><stop offset="0.3350" stop-color="#0063ff"/><stop offset="0.3450" stop-color="#006bff"/><stop offset="0.3583" stop-color="#009fff"/><stop offset="0.3750" stop-color="#00fcff"/><stop offset="0.3817" stop-color="#2fffd0"/><stop offset="0.3983" stop-color="#cdff32"/><stop offset="0.4050" stop-color="#fbff04"/><stop offset="0.4117" stop-color="#ffec00"/><stop offset="0.4183" stop-color="#ffeb00"/><stop offset="0.4250" stop-color="#fcff03"/><stop offset="0.4317" stop-color="#cdff32"/><stop offset="0.4517" stop-color="#0ffff0"/><stop offset="0.4550" stop-color="#00f1ff"/><stop offset="0.4717" stop-color="#0070ff"/><stop offset="0.4883" stop-color="#0008ff"/><stop offset="0.4917" stop-color="#0000f4"/><stop offset="0.5050" stop-color="#0000b2"/><stop offset="0.5183" stop-color="#00008a"/><stop offset="0.5317" stop-color="#000080"/><stop offset="0.5483" stop-color="#000084"/><stop offset="0.5617" stop-color="#0000a3"/><stop offset="0.5817" stop-color="#0000fd"/><stop offset="0.5983" stop-color="#0047ff"/><stop offset="0.6117" stop-color="#006aff"/><stop offset="0.6317" stop-color="#007cff"/><stop offset="0.9983" stop-color="#007fff"/></linearGradient>
<linearGradient id="gb56"><stop offset="0.0017" stop-color="#0097ff"/><stop offset="0.0350" stop-color="#00a0ff"/><stop offset="0.0550" stop-color="#0095ff"/><stop offset="0.0783" stop-color="#00a6ff"/><stop offset="0.1017" stop-color="#0092ff"/><stop offset="0.1183" stop-color="#00a5ff"/><stop offset="0.1283" stop-color="#00adff"/><stop offset="0.1517" stop-color="#0090ff"/><stop offset="0.1617" stop-color="#009cff"/><stop offset="0.1750" stop-color="#00b8ff"/><stop offset="0.1850" stop-color="#00afff"/><stop offset="0.1983" stop-color="#0091ff"/><stop offset="0.2083" stop-color="#0096ff"/><stop offset="0.2250" stop-color="#00beff"/><stop offset="0.2350" stop-color="#00b8ff"/><stop offset="0.2517" stop-color="#008bff"/><stop offset="0.2617" stop-color="#0086ff"/><stop offset="0.2717" stop-color="#00a3ff"/><stop offset="0.2883" stop-color="#00f1ff"/><stop offset="0.2950" stop-color="#00fdff"/><stop offset="0.3017" stop-color="#00f1ff"/><stop offset="0.3150" stop-color="#00adff"/><stop offset="0.3250" stop-color="#007cff"/><stop offset="0.3350" stop-color="#0063ff"/><stop offset="0.3450" stop-color="#006bff"/><stop offset="0.3583" stop-color="#009fff"/><stop offset="0.3750" stop-color="#00fcff"/><stop offset="0.3817" stop-color="#2effd1"/><stop offset="0.3983" stop-color="#c4ff3b"/><stop offset="0.4050" stop-color="#f0ff0f"/><stop offset="0.4083" stop-color="#feff01"/><stop offset="0.4150" stop-color="#fff400"/><stop offset="0.4217" stop-color="#fffd00"/><stop offset="0.4283" stop-color="#e0ff1f"/><stop offset="0.4383" stop-color="#8bff74"/><stop offset="0.4517" stop-color="#0ffff0"/><stop offset="0.4550" stop-color="#00f1ff"/><stop offset="0.4717" stop-color="#006dff"/><stop offset="0.4883" stop-color="#0004ff"/><stop offset="0.5050" stop-color="#0000af"/><stop offset="0.5183" stop-color="#000089"/><stop offset="0.5317" stop-color="#000080"/><stop offset="0.5483" stop-color="#000084"/><stop offset="0.5617" stop-color="#0000a4"/><stop offset="0.5817" stop-color="#0000fd"/><stop offset="0.5983" stop-color="#0047ff"/><stop offset="0.6117" stop-color="#006aff"/><stop offset="0.6317" stop-color="#007cff"/><stop offset="0.9983" stop-color="#007fff"/></linearGradient>
<linearGradient id="gb57"><stop offset="0.0017" stop-color="#0097ff"/><stop offset="0.0350" stop-color="#00a0ff"/><stop offset="0.0550" stop-color="#0095ff"/><stop offset="0.0783" stop-color="#00a6ff"/><stop offset="0.1017" stop-color="#0092ff"/><stop offset="0.1183" stop-color="#00a5ff"/><stop offset="0.1283" stop-color="#00adff"/><stop offset="0.1517" stop-color="#0090ff"/><stop offset="0.1617" stop-color="#009cff"/><stop offset="0.1750" stop-color="#00b8ff"/><stop offset="0.1850" stop-color="#00afff"/><stop offset="0.1983" stop-color="#0091ff"/><stop offset="0.2083" stop-color="#0096ff"/><stop offset="0.2250" stop-color="#00beff"/><stop offset="0.2350" stop-color="#00b8ff"/><stop offset="0.2517" stop-color="#008bff"/><stop offset="0.2617" stop-color="#0086ff"/><stop offset="0.2717" stop-color="#00a3ff"/><stop offset="0.2883" stop-color="#00f0ff"/><stop offset="0.2950" stop-color="#00fbff"/><stop offset="0.3017" stop-color="#00f0ff"/><stop offset="0.3250" stop-color="#007cff"/><stop offset="0.3350" stop-color="#0063ff"/><stop offset="0.3450" stop-color="#006bff"/><stop offset="0.3583" stop-color="#009fff"/><stop offset="0.3750" stop-color="#00fcff"/><stop offset="0.3817" stop-color="#2effd1"/><stop offset="0.3983" stop-color="#bdff42"/><stop offset="0.4050" stop-color="#e8ff17"/><stop offset="0.4117" stop-color="#ffff00"/><stop offset="0.4183" stop-color="#fffe00"/><stop offset="0.4250" stop-color="#ecff13"/><stop offset="0.4317" stop-color="#c2ff3d"/><stop offset="0.4517" stop-color="#0ffff0"/><stop offset="0.4550" stop-color="#00f0ff"/><stop offset="0.4717" stop-color="#006aff"/><stop offset="0.4883" stop-color="#0000ff"/><stop offset="0.5050" stop-color="#0000ad"/><stop offset="0.5183" stop-color="#000088"/><stop offset="0.5317" stop-color="#000080"/><stop offset="0.5483" stop-color="#000085"/><stop offset="0.5617" stop-color="#0000a5"/><stop offset="0.5817" stop-color="#0000fe"/><stop offset="0.5983" stop-color="#0047ff"/><stop offset="0.6117" stop-color="#0069ff"/><stop offset="0.6317" stop-color="#007cff"/><stop offset="0.9983" stop-color="#007fff"/></linearGradient>
<linearGradient id="gb58"><stop offset="0.0017" stop-color="#0097ff"/><stop offset="0.0350" stop-color="#00a0ff"/><stop offset="0.0550" stop-color="#0095ff"/><stop offset="0.0783" stop-color="#00a6ff"/><stop offset="0.1017" stop-color="#0092ff"/><stop offset="0.1183" stop-color="#00a5ff"/><stop offset="0.1283" stop-color="#00adff"/><stop offset="0.1517" stop-color="#0090ff"/><stop offset="0.1617" stop-color="#009cff"/><stop offset="0.1750" stop-color="#00b8ff"/><stop offset="0.1850" stop-color="#00afff"/><stop offset="0.1983" stop-color="#0091ff"/><stop offset="0.2083" stop-color="#0096ff"/><stop offset="0.2250" stop-color="#00beff"/><stop offset="0.2350" stop-color="#00b8ff"/><stop offset="0.2517" stop-color="#008bff"/><stop offset="0.2617" stop-color="#0086ff"/><stop offset="0.2717" stop-color="#00a2ff"/><stop offset="0.2883" stop-color="#00efff"/><stop offset="0.2950" stop-color="#00fbff"/><stop offset="0.3017" stop-color="#00efff"/><stop offset="0.3250" stop-color="#007cff"/><stop offset="0.3350" stop-color="#0063ff"/><stop offset="0.3450" stop-color="#006bff"/><stop offset="0.3583" stop-color="#009fff"/><stop offset="0.3750" stop-color="#00fcff"/><stop offset="0.3850" stop-color="#48ffb7"/><stop offset="0.3983" stop-color="#b8ff47"/><stop offset="0.4050" stop-color="#e2ff1d"/><stop offset="0.4117" stop-color="#f8ff07"/><stop offset="0.4183" stop-color="#faff05"/><stop offset="0.4250" stop-color="#e6ff19"/><stop offset="0.4317" stop-color="#bdff42"/><stop offset="0.4517" stop-color="#0efff1"/><stop offset="0.4550" stop-color="#00f0ff"/><stop offset="0.4717" stop-color="#0066ff"/><stop offset="0.4850" stop-color="#000fff"/><stop offset="0.4883" stop-color="#0000fb"/><stop offset="0.5017" stop-color="#0000b7"/><stop offset="0.5150" stop-color="#00008d"/><stop offset="0.5283" stop-color="#000080"/><stop offset="0.5483" stop-color="#000085"/><stop offset="0.5617" stop-color="#0000a6"/><stop offset="0.5817" stop-color="#0000fe"/><stop offset="0.5983" stop-color="#0046ff"/><stop offset="0.6117" stop-color="#0069ff"/><stop offset="0.6317" stop-color="#007cff"/><stop offset="0.9983" stop-color="#007fff"/></linearGradient>
<linearGradient id="gb59"><stop offset="0.0017" stop-color="#0097ff"/><stop offset="0.0350" stop-color="#00a0ff"/><stop offset="0.0550" stop-color="#0095ff"/><stop offset="0.0783" stop-color="#00a6ff"/><stop offset="0.1017" stop-color="#0092ff"/><stop offset="0.1183" stop-color="#00a5ff"/><stop offset="0.1283" stop-color="#00adff"/><stop offset="0.1517" stop-color="#0090ff"/><stop offset="0.1617" stop-color="#009cff"/><stop offset="0.1750" stop-color="#00b8ff"/><stop offset="0.1850" stop-color="#00afff"/><stop offset="0.1983" stop-color="#0091ff"/><stop offset="0.2083" stop-color="#0096ff"/><stop offset="0.2250" stop-color="#00beff"/><stop offset="0.2350" stop-color="#00b8ff"/><stop offset="0.2517" stop-color="#008bff"/><stop offset="0.2617" stop-color="#0086ff"/><stop offset="0.2717" stop-color="#00a2ff"/><stop offset="0.2883" stop-color="#00efff"/><stop offset="0.2950" stop-color="#00faff"/><stop offset="0.3017" stop-color="#00eeff"/><stop offset="0.3250" stop-color="#007bff"/><stop offset="0.3350" stop-color="#0063ff"/><stop offset="0.3450" stop-color="#006bff"/><stop offset="0.3583" stop-color="#009fff"/><stop offset="0.3750" stop-color="#00fdff"/><stop offset="0.3850" stop-color="#48ffb7"/><stop offset="0.3983" stop-color="#b4ff4b"/><stop offset="0.4050" stop-color="#ddff22"/><stop offset="0.4117" stop-color="#f3ff0c"/><stop offset="0.4183" stop-color="#f5ff0a"/><stop offset="0.4250" stop-color="#e2ff1d"/><stop offset="0.4317" stop-color="#baff45"/><stop offset="0.4517" stop-color="#0dfff2"/><stop offset="0.4550" stop-color="#00eeff"/><stop offset="0.4717" stop-color="#0063ff"/><stop offset="0.4850" stop-color="#000bff"/><stop offset="0.4883" stop-color="#0000f7"/><stop offset="0.5017" stop-color="#0000b4"/><stop offset="0.5150" stop-color="#00008c"/><stop offset="0.5283" stop-color="#000080"/><stop offset="0.5450" stop-color="#000082"/><stop offset="0.5583" stop-color="#00009c"/><stop offset="0.5750" stop-color="#0000de"/><stop offset="0.5817" stop-color="#0000fe"/><stop offset="0.5983" stop-color="#0046ff"/><stop offset="0.6117" stop-color="#0069ff"/><stop offset="0.6317" stop-color="#007cff"/><stop offset="0.9983" stop-color="#007fff"/></linearGradient>
<linearGradient id="gb60"><stop offset="0.0017" stop-color="#0097ff"/><stop offset="0.0350" stop-color="#00a0ff"/><stop offset="0.0550" stop-color="#0095ff"/><stop offset="0.0783" stop-color="#00a6ff"/><stop offset="0.1017" stop-color="#0092ff"/><stop offset="0.1183" stop-color="#00a5ff"/><stop offset="0.1283" stop-color="#00adff"/><stop offset="0.1517" stop-color="#0090ff"/><stop offset="0.1617" stop-color="#009cff"/><stop offset="0.1750" stop-color="#00b8ff"/><stop offset="0.1850" stop-color="#00afff"/><stop offset="0.1983" stop-color="#0091ff"/><stop offset="0.2083" stop-color="#0096ff"/><stop offset="0.2250" stop-color="#00beff"/><stop offset="0.2350" stop-color="#00b8ff"/><stop offset="0.2517" stop-color="#008bff"/><stop offset="0.2617" stop-color="#0086ff"/><stop offset="0.2717" stop-color="#00a2ff"/><stop offset="0.2883" stop-color="#00eeff"/><stop offset="0.2950" stop-color="#00f9ff"/><stop offset="0.3017" stop-color="#00edff"/><stop offset="0.3250" stop-color="#007bff"/><stop offset="0.3350" stop-color="#0063ff"/><stop offset="0.3450" stop-color="#006bff"/><stop offset="0.3583" stop-color="#009fff"/><stop offset="0.3750" stop-color="#00fdff"/><stop offset="0.3883" stop-color="#62ff9d"/><stop offset="0.4017" stop-color="#c7ff38"/><stop offset="0.4083" stop-color="#e7ff18"/><stop offset="0.4150" stop-color="#f3ff0c"/><stop offset="0.4217" stop-color="#eaff15"/><stop offset="0.4283" stop-color="#cdff32"/><stop offset="0.4383" stop-color="#82ff7d"/><stop offset="0.4517" stop-color="#0cfff3"/><stop offset="0.4550" stop-color="#00ecff"/><stop offset="0.4717" stop-color="#005fff"/><stop offset="0.4850" stop-color="#0006ff"/><stop offset="0.4917" stop-color="#0000e0"/><stop offset="0.5050" stop-color="#0000a5"/><stop offset="0.5183" stop-color="#000085"/><stop offset="0.5417" stop-color="#000080"/><stop offset="0.5550" stop-color="#000094"/><stop offset="0.5683" stop-color="#0000c1"/><stop offset="0.5817" stop-color="#0000ff"/><stop offset="0.5983" stop-color="#0046ff"/><stop offset="0.6150" stop-color="#006eff"/><stop offset="0.6383" stop-color="#007dff"/><stop offset="0.9983" stop-color="#007fff"/></linearGradient>
<linearGradient id="gb61"><stop offset="0.0017" stop-color="#0097ff"/><stop offset="0.0350" stop-color="#00a0ff"/><stop offset="0.0550" stop-color="#0095ff"/><stop offset="0.0783" stop-color="#00a6ff"/><stop offset="0.1017" stop-color="#0092ff"/><stop offset="0.1183" stop-color="#00a5ff"/><stop offset="0.1283" stop-color="#00adff"/><stop offset="0.1517" stop-color="#0090ff"/><stop offset="0.1617" stop-color="#009cff"/><stop offset="0.1750" stop-color="#00b8ff"/><stop offset="0.1850" stop-color="#00afff"/><stop offset="0.1983" stop-color="#0091ff"/><stop offset="0.2083" stop-color="#0096ff"/><stop offset="0.2250" stop-color="#00beff"/><stop offset="0.2350" stop-color="#00b8ff"/><stop offset="0.2517" stop-color="#008bff"/><stop offset="0.2617" stop-color="#0086ff"/><stop offset="0.2717" stop-color="#00a2ff"/><stop offset="0.2883" stop-color="#00eeff"/><stop offset="0.2950" stop-color="#00f9ff"/><stop offset="0.3017" stop-color="#00edff"/><stop offset="0.3250" stop-color="#007bff"/><stop offset="0.3350" stop-color="#0063ff"/><stop offset="0.3450" stop-color="#006bff"/><stop offset="0.3583" stop-color="#009fff"/><stop offset="0.3750" stop-color="#00fdff"/><stop offset="0.3883" stop-color="#61ff9e"/><stop offset="0.4017" stop-color="#c4ff3b"/><stop offset="0.4083" stop-color="#e4ff1b"/><stop offset="0.4150" stop-color="#f0ff0f"/><stop offset="0.4217" stop-color="#e7ff18"/><stop offset="0.4283" stop-color="#caff35"/><stop offset="0.4383" stop-color="#81ff7e"/><stop offset="0.4517" stop-color="#0afff5"/><stop offset="0.4550" stop-color="#00eaff"/><stop offset="0.4717" stop-color="#005bff"/><stop offset="0.4850" stop-color="#0002ff"/><stop offset="0.5017" stop-color="#0000ae"/><stop offset="0.5150" stop-color="#000089"/><stop offset="0.5283" stop-color="#000080"/><stop offset="0.5450" stop-color="#000083"/><stop offset="0.5583" stop-color="#00009e"/><stop offset="0.5750" stop-color="#0000e1"/><stop offset="0.5817" stop-color="#0001ff"/><stop offset="0.5983" stop-color="#0046ff"/><stop offset="0.6150" stop-color="#006eff"/><stop offset="0.6383" stop-color="#007dff"/><stop offset="0.9983" stop-color="#007fff"/></linearGradient>
<linearGradient id="gb62"><stop offset="0.0017" stop-color="#0097ff"/><stop offset="0.0350" stop-color="#00a0ff"/><stop offset="0.0550" stop-color="#0095ff"/><stop offset="0.0783" stop-color="#00a6ff"/><stop offset="0.1017" stop-color="#0092ff"/><stop offset="0.1183" stop-color="#00a5ff"/><stop offset="0.1283" stop-color="#00adff"/><stop offset="0.1517" stop-color="#0090ff"/><stop offset="0.1617" stop-color="#009cff"/><stop offset="0.1750" stop-color="#00b8ff"/><stop offset="0.1850" stop-color="#00afff"/><stop offset="0.1983" stop-color="#0091ff"/><stop offset="0.2083" stop-color="#0096ff"/><stop offset="0.2250" stop-color="#00beff"/><stop offset="0.2350" stop-color="#00b8ff"/><stop offset="0.2517" stop-color="#008bff"/><stop offset="0.2617" stop-color="#0086ff"/><stop offset="0.2717" stop-color="#00a2ff"/><stop offset="0.2883" stop-color="#00eeff"/><stop offset="0.2950" stop-color="#00f9ff"/><stop offset="0.3017" stop-color="#00edff"/><stop offset="0.3250" stop-color="#007bff"/><stop offset="0.3350" stop-color="#0063ff"/><stop offset="0.3450" stop-color="#006bff"/><stop offset="0.3583" stop-color="#009fff"/><stop offset="0.3750" stop-color="#00fdff"/><stop offset="0.3883" stop-color="#60ff9f"/><stop offset="0.4017" stop-color="#c2ff3d"/><stop offset="0.4083" stop-color="#e1ff1e"/><stop offset="0.4150" stop-color="#edff12"/><stop offset="0.4217" stop-color="#e5ff1a"/><stop offset="0.4283" stop-color="#c7ff38"/><stop offset="0.4383" stop-color="#7fff80"/><stop offset="0.4517" stop-color="#08fff7"/><stop offset="0.4583" stop-color="#00c9ff"/><stop offset="0.4717" stop-color="#0056ff"/><stop offset="0.4817" stop-color="#0011ff"/><stop offset="0.4850" stop-color="#0000fc"/><stop offset="0.4983" stop-color="#0000b8"/><stop offset="0.5117" stop-color="#00008e"/><stop offset="0.5250" stop-color="#000080"/><stop offset="0.5450" stop-color="#000083"/><stop offset="0.5583" stop-color="#00009f"/><stop offset="0.5750" stop-color="#0000e2"/><stop offset="0.5817" stop-color="#0002ff"/><stop offset="0.5983" stop-color="#0047ff"/><stop offset="0.6150" stop-color="#006eff"/><stop offset="0.6383" stop-color="#007dff"/><stop offset="0.9983" stop-color="#007fff"/></linearGradient>
<linearGradient id="gb63"><stop offset="0.0017" stop-color="#0097ff"/><stop offset="0.0350" stop-color="#00a0ff"/><stop offset="0.0550" stop-color="#0095ff"/><stop offset="0.0783" stop-color="#00a6ff"/><stop offset="0.1017" stop-color="#0092ff"/><stop offset="0.1183" stop-color="#00a5ff"/><stop offset="0.1283" stop-color="#00adff"/><stop offset="0.1517" stop-color="#0090ff"/><stop offset="0.1617" stop-color="#009cff"/><stop offset="0.1750" stop-color="#00b8ff"/><stop offset="0.1850" stop-color="#00afff"/><stop offset="0.1983" stop-color="#0091ff"/><stop offset="0.2083" stop-color="#0096ff"/><stop offset="0.2250" stop-color="#00beff"/><stop offset="0.2350" stop-color="#00b8ff"/><stop offset="0.2517" stop-color="#008bff"/><stop offset="0.2617" stop-color="#0086ff"/><stop offset="0.2717" stop-color="#00a2ff"/><stop offset="0.2883" stop-color="#00eeff"/><stop offset="0.2950" stop-color="#00f8ff"/><stop offset="0.3017" stop-color="#00ecff"/><stop offset="0.3250" stop-color="#007bff"/><stop offset="0.3350" stop-color="#0063ff"/><stop offset="0.3450" stop-color="#006bff"/><stop offset="0.3583" stop-color="#009fff"/><stop offset="0.3750" stop-color="#00fdff"/><stop offset="0.3883" stop-color="#60ff9f"/><stop offset="0.4017" stop-color="#c0ff3f"/><stop offset="0.4083" stop-color="#dfff20"/><stop offset="0.4150" stop-color="#ebff14"/><stop offset="0.4217" stop-color="#e2ff1d"/><stop offset="0.4283" stop-color="#c5ff3a"/><stop offset="0.4383" stop-color="#7dff82"/><stop offset="0.4517" stop-color="#06fff9"/><stop offset="0.4617" stop-color="#00a7ff"/><stop offset="0.4750" stop-color="#0039ff"/><stop offset="0.4817" stop-color="#000cff"/><stop offset="0.4850" stop-color="#0000f7"/><stop offset="0.4983" stop-color="#0000b5"/><stop offset="0.5117" stop-color="#00008c"/><stop offset="0.5250" stop-color="#000080"/><stop offset="0.5450" stop-color="#000084"/><stop offset="0.5583" stop-color="#0000a1"/><stop offset="0.5750" stop-color="#0000e4"/><stop offset="0.5817" stop-color="#0004ff"/><stop offset="0.5983" stop-color="#0047ff"/><stop offset="0.6150" stop-color="#006eff"/><stop offset="0.6383" stop-color="#007dff"/><stop offset="0.9983" stop-color="#007fff"/></linearGradient>
<linearGradient id="gb64"><stop offset="0.0017" stop-color="#0097ff"/><stop offset="0.0350" stop-color="#00a0ff"/><stop offset="0.0550" stop-color="#0095ff"/><stop offset="0.0783" stop-color="#00a6ff"/><stop offset="0.1017" stop-color="#0092ff"/><stop offset="0.1183" stop-color="#00a5ff"/><stop offset="0.1283" stop-color="#00adff"/><stop offset="0.1517" stop-color="#0090ff"/><stop offset="0.1617" stop-color="#009cff"/><stop offset="0.1750" stop-color="#00b8ff"/><stop offset="0.1850" stop-color="#00afff"/><stop offset="0.1983" stop-color="#0091ff"/><stop offset="0.2083" stop-color="#0096ff"/><stop offset="0.2250" stop-color="#00beff"/><stop offset="0.2350" stop-color="#00b8ff"/><stop offset="0.2517" stop-color="#008bff"/><stop offset="0.2617" stop-color="#0086ff"/><stop offset="0.2717" stop-color="#00a2ff"/><stop offset="0.2883" stop-color="#00edff"/><stop offset="0.2950" stop-color="#00f8ff"/><stop offset="0.3017" stop-color="#00ecff"/><stop offset="0.3250" stop-color="#007bff"/><stop offset="0.3350" stop-color="#0063ff"/><stop offset="0.3450" stop-color="#006bff"/><stop offset="0.3583" stop-color="#009fff"/><stop offset="0.3750" stop-color="#00fdff"/><stop offset="0.3883" stop-color="#5fffa0"/><stop offset="0.4017" stop-color="#beff41"/><stop offset="0.4083" stop-color="#ddff22"/><stop offset="0.4150" stop-color="#e9ff16"/><stop offset="0.4217" stop-color="#e1ff1e"/><stop offset="0.4283" stop-color="#c4ff3b"/><stop offset="0.4383" stop-color="#7bff84"/><stop offset="0.4517" stop-color="#03fffc"/><stop offset="0.4717" stop-color="#004eff"/><stop offset="0.4817" stop-color="#0008ff"/><stop offset="0.4883" stop-color="#0000e1"/><stop offset="0.5017" stop-color="#0000a5"/><stop offset="0.5150" stop-color="#000086"/><stop offset="0.5317" stop-color="#000080"/><stop offset="0.5450" stop-color="#000085"/><stop offset="0.5583" stop-color="#0000a2"/><stop offset="0.5783" stop-color="#0000f5"/><stop offset="0.5817" stop-color="#0005ff"/><stop offset="0.5983" stop-color="#0048ff"/><stop offset="0.6150" stop-color="#006eff"/><stop offset="0.6383" stop-color="#007dff"/><stop offset="0.9983" stop-color="#007fff"/></linearGradient>
<linearGradient id="gb65"><stop offset="0.0017" stop-color="#0097ff"/><stop offset="0.0350" stop-color="#00a0ff"/><stop offset="0.0550" stop-color="#0095ff"/><stop offset="0.0783" stop-color="#00a6ff"/><stop offset="0.1017" stop-color="#0092ff"/><stop offset="0.1183" stop-color="#00a5ff"/><stop offset="0.1283" stop-color="#00adff"/><stop offset="0.1517" stop-color="#0090ff"/><stop offset="0.1617" stop-color="#009cff"/><stop offset="0.1750" stop-color="#00b8ff"/><stop offset="0.1850" stop-color="#00afff"/><stop offset="0.1983" stop-color="#0091ff"/><stop offset="0.2083" stop-color="#0096ff"/><stop offset="0.2250" stop-color="#00beff"/><stop offset="0.2350" stop-color="#00b8ff"/><stop offset="0.2517" stop-color="#008bff"/><stop offset="0.2617" stop-color="#0086ff"/><stop offset="0.2717" stop-color="#00a2ff"/><stop offset="0.2883" stop-color="#00edff"/><stop offset="0.2950" stop-color="#00f8ff"/><stop offset="0.3017" stop-color="#00ecff"/><stop offset="0.3250" stop-color="#007bff"/><stop offset="0.3350" stop-color="#0063ff"/><stop offset="0.3450" stop-color="#006bff"/><stop offset="0.3583" stop-color="#009fff"/><stop offset="0.3750" stop-color="#00fdff"/><stop offset="0.3917" stop-color="#78ff87"/><stop offset="0.4017" stop-color="#bdff42"/><stop offset="0.4083" stop-color="#dcff23"/><stop offset="0.4150" stop-color="#e8ff17"/><stop offset="0.4217" stop-color="#dfff20"/><stop offset="0.4283" stop-color="#c2ff3d"/><stop offset="0.4383" stop-color="#7aff85"/><stop offset="0.4517" stop-color="#01fffe"/><stop offset="0.4717" stop-color="#004aff"/><stop offset="0.4817" stop-color="#0004ff"/><stop offset="0.4983" stop-color="#0000af"/><stop offset="0.5117" stop-color="#00008a"/><stop offset="0.5250" stop-color="#000080"/><stop offset="0.5450" stop-color="#000085"/><stop offset="0.5583" stop-color="#0000a4"/><stop offset="0.5783" stop-color="#0000f6"/><stop offset="0.5817" stop-color="#0006ff"/><stop offset="0.5983" stop-color="#0049ff"/><stop offset="0.6150" stop-color="#006eff"/><stop offset="0.6383" stop-color="#007dff"/><stop offset="0.9983" stop-color="#007fff"/></linearGradient>
<linearGradient id="gb66"><stop offset="0.0017" stop-color="#0097ff"/><stop offset="0.0350" stop-color="#00a0ff"/><stop offset="0.0550" stop-color="#0095ff"/><stop offset="0.0783" stop-color="#00a6ff"/><stop offset="0.1017" stop-color="#0092ff"/><stop offset="0.1183" stop-color="#00a5ff"/><stop offset="0.1283" stop-color="#00adff"/><stop offset="0.1517" stop-color="#0090ff"/><stop offset="0.1617" stop-color="#009cff"/><stop offset="0.1750" stop-color="#00b8ff"/><stop offset="0.1850" stop-color="#00afff"/><stop offset="0.1983" stop-color="#0091ff"/><stop offset="0.2083" stop-color="#0096ff"/><stop offset="0.2250" stop-color="#00beff"/><stop offset="0.2350" stop-color="#00b8ff"/><stop offset="0.2517" stop-color="#008bff"/><stop offset="0.2617" stop-color="#0086ff"/><stop offset="0.2717" stop-color="#00a2ff"/><stop offset="0.2883" stop-color="#00edff"/><stop offset="0.2950" stop-color="#00f8ff"/><stop offset="0.3017" stop-color="#00ecff"/><stop offset="0.3250" stop-color="#007bff"/><stop offset="0.3350" stop-color="#0063ff"/><stop offset="0.3450" stop-color="#006bff"/><stop offset="0.3583" stop-color="#009fff"/><stop offset="0.3750" stop-color="#00fdff"/><stop offset="0.3917" stop-color="#78ff87"/><stop offset="0.4017" stop-color="#bdff42"/><stop offset="0.4083" stop-color="#dbff24"/><stop offset="0.4150" stop-color="#e7ff18"/><stop offset="0.4217" stop-color="#deff21"/><stop offset="0.4283" stop-color="#c1ff3e"/><stop offset="0.4383" stop-color="#78ff87"/><stop offset="0.4517" stop-color="#00feff"/><stop offset="0.4683" stop-color="#0061ff"/><stop offset="0.4783" stop-color="#0015ff"/><stop offset="0.4817" stop-color="#0000ff"/><stop offset="0.4950" stop-color="#0000b9"/><stop offset="0.5083" stop-color="#00008f"/><stop offset="0.5217" stop-color="#000080"/><stop offset="0.5417" stop-color="#000082"/><stop offset="0.5550" stop-color="#00009b"/><stop offset="0.5717" stop-color="#0000d9"/><stop offset="0.5783" stop-color="#0000f8"/><stop offset="0.5850" stop-color="#0017ff"/><stop offset="0.6017" stop-color="#0053ff"/><stop offset="0.6183" stop-color="#0072ff"/><stop offset="0.6483" stop-color="#007eff"/><stop offset="0.9983" stop-color="#007fff"/></linearGradient>
<linearGradient id="gb67"><stop offset="0.0017" stop-color="#0097ff"/><stop offset="0.0350" stop-color="#00a0ff"/><stop offset="0.0550" stop-color="#0095ff"/><stop offset="0.0783" stop-color="#00a6ff"/><stop offset="0.1017" stop-color="#0092ff"/><stop offset="0.1183" stop-color="#00a5ff"/><stop offset="0.1283" stop-color="#00adff"/><stop offset="0.1517" stop-color="#0090ff"/><stop offset="0.1617" stop-color="#009cff"/><stop offset="0.1750" stop-color="#00b8ff"/><stop offset="0.1850" stop-color="#00afff"/><stop offset="0.1983" stop-color="#0091ff"/><stop offset="0.2083" stop-color="#0096ff"/><stop offset="0.2250" stop-color="#00beff"/><stop offset="0.2350" stop-color="#00b8ff"/><stop offset="0.2517" stop-color="#008bff"/><stop offset="0.2617" stop-color="#0086ff"/><stop offset="0.2717" stop-color="#00a2ff"/><stop offset="0.2883" stop-color="#00edff"/><stop offset="0.2950" stop-color="#00f8ff"/><stop offset="0.3017" stop-color="#00ecff"/><stop offset="0.3250" stop-color="#007bff"/><stop offset="0.3350" stop-color="#0063ff"/><stop offset="0.3450" stop-color="#006bff"/><stop offset="0.3583" stop-color="#009fff"/><stop offset="0.3750" stop-color="#00fdff"/><stop offset="0.3917" stop-color="#78ff87"/><stop offset="0.4017" stop-color="#bcff43"/><stop offset="0.4083" stop-color="#dbff24"/><stop offset="0.4150" stop-color="#e7ff18"/><stop offset="0.4217" stop-color="#ddff22"/><stop offset="0.4283" stop-color="#c0ff3f"/><stop offset="0.4383" stop-color="#77ff88"/><stop offset="0.4517" stop-color="#00fbff"/><stop offset="0.4683" stop-color="#005dff"/><stop offset="0.4783" stop-color="#0011ff"/><stop offset="0.4817" stop-color="#0000fb"/><stop offset="0.4950" stop-color="#0000b6"/><stop offset="0.5083" stop-color="#00008d"/><stop offset="0.5217" stop-color="#000080"/><stop offset="0.5417" stop-color="#000083"/><stop offset="0.5550" stop-color="#00009c"/><stop offset="0.5717" stop-color="#0000db"/><stop offset="0.5783" stop-color="#0000fa"/><stop offset="0.5883" stop-color="#0026ff"/><stop offset="0.6050" stop-color="#005dff"/><stop offset="0.6217" stop-color="#0076ff"/><stop offset="0.6617" stop-color="#007fff"/><stop offset="0.9983" stop-color="#007fff"/></linearGradient>
<linearGradient id="gb68"><stop offset="0.0017" stop-color="#0097ff"/><stop offset="0.0350" stop-color="#00a0ff"/><stop offset="0.0550" stop-color="#0095ff"/><stop offset="0.0783" stop-color="#00a6ff"/><stop offset="0.1017" stop-color="#0092ff"/><stop offset="0.1183" stop-color="#00a5ff"/><stop offset="0.1283" stop-color="#00adff"/><stop offset="0.1517" stop-color="#0090ff"/><stop offset="0.1617" stop-color="#009cff"/><stop offset="0.1750" stop-color="#00b8ff"/><stop offset="0.1850" stop-color="#00afff"/><stop offset="0.1983" stop-color="#0091ff"/><stop offset="0.2083" stop-color="#0096ff"/><stop offset="0.2250" stop-color="#00beff"/><stop offset="0.2350" stop-color="#00b8ff"/><stop offset="0.2517" stop-color="#008bff"/><stop offset="0.2617" stop-color="#0086ff"/><stop offset="0.2717" stop-color="#00a2ff"/><stop offset="0.2883" stop-color="#00edff"/><stop offset="0.2950" stop-color="#00f8ff"/><stop offset="0.3017" stop-color="#00ecff"/><stop offset="0.3250" stop-color="#007bff"/><stop offset="0.3350" stop-color="#0063ff"/><stop offset="0.3450" stop-color="#006bff"/><stop offset="0.3583" stop-color="#009fff"/><stop offset="0.3750" stop-color="#00fdff"/><stop offset="0.3917" stop-color="#78ff87"/><stop offset="0.4017" stop-color="#bcff43"/><stop offset="0.4083" stop-color="#daff25"/><stop offset="0.4150" stop-color="#e6ff19"/><stop offset="0.4217" stop-color="#ddff22"/><stop offset="0.4283" stop-color="#bfff40"/><stop offset="0.4383" stop-color="#76ff89"/><stop offset="0.4483" stop-color="#1bffe4"/><stop offset="0.4517" stop-color="#00f9ff"/><stop offset="0.4683" stop-color="#005aff"/><stop offset="0.4783" stop-color="#000dff"/><stop offset="0.4817" stop-color="#0000f7"/><stop offset="0.4950" stop-color="#0000b4"/><stop offset="0.5083" stop-color="#00008c"/><stop offset="0.5217" stop-color="#000080"/><stop offset="0.5417" stop-color="#000083"/><stop offset="0.5550" stop-color="#00009e"/><stop offset="0.5717" stop-color="#0000dd"/><stop offset="0.5783" stop-color="#0000fc"/><stop offset="0.5983" stop-color="#004cff"/><stop offset="0.6150" stop-color="#006fff"/><stop offset="0.6417" stop-color="#007eff"/><stop offset="0.9983" stop-color="#007fff"/></linearGradient>
<linearGradient id="gb69"><stop offset="0.0017" stop-color="#0097ff"/><stop offset="0.0350" stop-color="#00a0ff"/><stop offset="0.0550" stop-color="#0095ff"/><stop offset="0.0783" stop-color="#00a6ff"/><stop offset="0.1017" stop-color="#0092ff"/><stop offset="0.1183" stop-color="#00a5ff"/><stop offset="0.1283" stop-color="#00adff"/><stop offset="0.1517" stop-color="#0090ff"/><stop offset="0.1617" stop-color="#009cff"/><stop offset="0.1750" stop-color="#00b8ff"/><stop offset="0.1850" stop-color="#00afff"/><stop offset="0.1983" stop-color="#0091ff"/><stop offset="0.2083" stop-color="#0096ff"/><stop offset="0.2250" stop-color="#00beff"/><stop offset="0.2350" stop-color="#00b8ff"/><stop offset="0.2517" stop-color="#008bff"/><stop offset="0.2617" stop-color="#0086ff"/><stop offset="0.2717" stop-color="#00a2ff"/><stop offset="0.2883" stop-color="#00edff"/><stop offset="0.2950" stop-color="#00f8ff"/><stop offset="0.3017" stop-color="#00ecff"/><stop offset="0.3250" stop-color="#007bff"/><stop offset="0.3350" stop-color="#0063ff"/><stop offset="0.3450" stop-color="#006bff"/><stop offset="0.3583" stop-color="#009fff"/><stop offset="0.3750" stop-color="#00fdff"/><stop offset="0.3917" stop-color="#78ff87"/><stop offset="0.4017" stop-color="#bcff43"/><stop offset="0.4083" stop-color="#daff25"/><stop offset="0.4150" stop-color="#e6ff19"/><stop offset="0.4217" stop-color="#dcff23"/><stop offset="0.4283" stop-color="#bfff40"/><stop offset="0.4383" stop-color="#75ff8a"/><stop offset="0.4483" stop-color="#19ffe6"/><stop offset="0.4517" stop-color="#00f7ff"/><stop offset="0.4683" stop-color="#0057ff"/><stop offset="0.4783" stop-color="#0009ff"/><stop offset="0.4817" stop-color="#0000f4"/><stop offset="0.4950" stop-color="#0000b1"/><stop offset="0.5083" stop-color="#00008b"/><stop offset="0.5217" stop-color="#000080"/><stop offset="0.5417" stop-color="#000084"/><stop offset="0.5550" stop-color="#0000a0"/><stop offset="0.5717" stop-color="#0000e0"/><stop offset="0.5783" stop-color="#0000fe"/><stop offset="0.5983" stop-color="#004dff"/><stop offset="0.6150" stop-color="#0070ff"/><stop offset="0.6417" stop-color="#007eff"/><stop offset="0.9983" stop-color="#007fff"/></linearGradient>
<linearGradient id="gb70"><stop offset="0.0017" stop-color="#0097ff"/><stop offset="0.0350" stop-color="#00a0ff"/><stop offset="0.0550" stop-color="#0095ff"/><stop offset="0.0783" stop-color="#00a6ff"/><stop offset="0.1017" stop-color="#0092ff"/><stop offset="0.1183" stop-color="#00a5ff"/><stop offset="0.1283" stop-color="#00adff"/><stop offset="0.1517" stop-color="#0090ff"/><stop offset="0.1617" stop-color="#009cff"/><stop offset="0.1750" stop-color="#00b8ff"/><stop offset="0.1850" stop-color="#00afff"/><stop offset="0.1983" stop-color="#0091ff"/><stop offset="0.2083" stop-color="#0096ff"/><stop offset="0.2250" stop-color="#00beff"/><stop offset="0.2350" stop-color="#00b8ff"/><stop offset="0.2517" stop-color="#008bff"/><stop offset="0.2617" stop-color="#0086ff"/><stop offset="0.2717" stop-color="#00a2ff"/><stop offset="0.2883" stop-color="#00edff"/><stop offset="0.2950" stop-color="#00f8ff"/><stop offset="0.3017" stop-color="#00ecff"/><stop offset="0.3250" stop-color="#007bff"/><stop offset="0.3350" stop-color="#0063ff"/><stop offset="0.3450" stop-color="#006bff"/><stop offset="0.3583" stop-color="#009fff"/><stop offset="0.3750" stop-color="#00fdff"/><stop offset="0.3917" stop-color="#77ff88"/><stop offset="0.4017" stop-color="#bcff43"/><stop offset="0.4083" stop-color="#daff25"/><stop offset="0.4150" stop-color="#e5ff1a"/><stop offset="0.4217" stop-color="#dcff23"/><stop offset="0.4283" stop-color="#beff41"/><stop offset="0.4383" stop-color="#74ff8b"/><stop offset="0.4483" stop-color="#17ffe8"/><stop offset="0.4517" stop-color="#00f5ff"/><stop offset="0.4683" stop-color="#0053ff"/><stop offset="0.4783" stop-color="#0006ff"/><stop offset="0.4850" stop-color="#0000dd"/><stop offset="0.4983" stop-color="#0000a3"/><stop offset="0.5117" stop-color="#000085"/><stop offset="0.5350" stop-color="#000080"/><stop offset="0.5483" stop-color="#000090"/><stop offset="0.5617" stop-color="#0000b8"/><stop offset="0.5783" stop-color="#0001ff"/><stop offset="0.5950" stop-color="#0044ff"/><stop offset="0.6117" stop-color="#006cff"/><stop offset="0.6350" stop-color="#007dff"/><stop offset="0.9983" stop-color="#007fff"/></linearGradient>
<linearGradient id="gb71"><stop offset="0.0017" stop-color="#0097ff"/><stop offset="0.0350" stop-color="#00a0ff"/><stop offset="0.0550" stop-color="#0095ff"/><stop offset="0.0783" stop-color="#00a6ff"/><stop offset="0.1017" stop-color="#0092ff"/><stop offset="0.1183" stop-color="#00a5ff"/><stop offset="0.1283" stop-color="#00adff"/><stop offset="0.1517" stop-color="#0090ff"/><stop offset="0.1617" stop-color="#009cff"/><stop offset="0.1750" stop-color="#00b8ff"/><stop offset="0.1850" stop-color="#00afff"/><stop offset="0.1983" stop-color="#0091ff"/><stop offset="0.2083" stop-color="#0096ff"/><stop offset="0.2250" stop-color="#00beff"/><stop offset="0.2350" stop-color="#00b8ff"/><stop offset="0.2517" stop-color="#008bff"/><stop offset="0.2617" stop-color="#0086ff"/><stop offset="0.2717" stop-color="#00a2ff"/><stop offset="0.2883" stop-color="#00edff"/><stop offset="0.2950" stop-color="#00f8ff"/><stop offset="0.3017" stop-color="#00ecff"/><stop offset="0.3250" stop-color="#007bff"/><stop offset="0.3350" stop-color="#0063ff"/><stop offset="0.3450" stop-color="#006bff"/><stop offset="0.3583" stop-color="#009fff"/><stop offset="0.3750" stop-color="#00fdff"/><stop offset="0.3917" stop-color="#77ff88"/><stop offset="0.4017" stop-color="#bbff44"/><stop offset="0.4083" stop-color="#daff25"/><stop offset="0.4150" stop-color="#e5ff1a"/><stop offset="0.4217" stop-color="#dcff23"/><stop offset="0.4283" stop-color="#bdff42"/><stop offset="0.4383" stop-color="#73ff8c"/><stop offset="0.4483" stop-color="#15ffea"/><stop offset="0.4517" stop-color="#00f3ff"/><stop offset="0.4683" stop-color="#0051ff"/><stop offset="0.4783" stop-color="#0003ff"/><stop offset="0.4917" stop-color="#0000ba"/><stop offset="0.5050" stop-color="#00008f"/><stop offset="0.5183" stop-color="#000080"/><stop offset="0.5383" stop-color="#000082"/><stop offset="0.5517" stop-color="#00009a"/><stop offset="0.5683" stop-color="#0000d6"/><stop offset="0.5783" stop-color="#0004ff"/><stop offset="0.5950" stop-color="#0046ff"/><stop offset="0.6117" stop-color="#006cff"/><stop offset="0.6350" stop-color="#007dff"/><stop offset="0.9983" stop-color="#007fff"/></linearGradient>
</defs>
<g><rect x="79.60" y="48.00" width="596.40" height="8.12" fill="url(#ga0)"/>
<rect x="79.60" y="55.52" width="596.40" height="8.12" fill="url(#ga1)"/>
<rect x="79.60" y="63.04" width="596.40" height="8.12" fill="url(#ga2)"/>
<rect x="79.60" y="70.56" width="596.40" height="8.12" fill="url(#ga3)"/>
<rect x="79.60" y="78.08" width="596.40" height="8.12" fill="url(#ga4)"/>
<rect x="79.60" y="85.60" width="596.40" height="8.12" fill="url(#ga5)"/>
<rect x="79.60" y="93.12" width="596.40" height="8.12" fill="url(#ga6)"/>
<rect x="79.60" y="100.65" width="596.40" height="8.12" fill="url(#ga7)"/>
<rect x="79.60" y="108.17" width="596.40" height="8.12" fill="url(#ga8)"/>
<rect x="79.60" y="115.69" width="596.40" height="8.12" fill="url(#ga9)"/>
<rect x="79.60" y="123.21" width="596.40" height="8.12" fill="url(#ga10)"/>
<rect x="79.60" y="130.73" width="596.40" height="8.12" fill="url(#ga11)"/>
<rect x="79.60" y="138.25" width="596.40" height="8.12" fill="url(#ga12)"/>
<rect x="79.60" y="145.77" width="596.40" height="8.12" fill="url(#ga13)"/>
<rect x="79.60" y="153.29" width="596.40" height="8.12" fill="url(#ga14)"/>
<rect x="79.60" y="160.81" width="596.40" height="8.12" fill="url(#ga15)"/>
<rect x="79.60" y="168.33" width="596.40" height="8.12" fill="url(#ga16)"/>
<rect x="79.60" y="175.85" width="596.40" height="8.12" fill="url(#ga17)"/>
<rect x="79.60" y="183.38" width="596.40" height="8.12" fill="url(#ga18)"/>
<rect x="79.60" y="190.90" width="596.40" height="8.12" fill="url(#ga19)"/>
<rect x="79.60" y="198.42" width="596.40" height="8.12" fill="url(#ga20)"/>
<rect x="79.60" y="205.94" width="596.40" height="8.12" fill="url(#ga21)"/>
<rect x="79.60" y="213.46" width="596.40" height="8.12" fill="url(#ga22)"/>
<rect x="79.60" y="220.98" width="596.40" height="8.12" fill="url(#ga23)"/>
<rect x="79.60" y="228.50" width="596.40" height="8.12" fill="url(#ga24)"/>
<rect x="79.60" y="236.02" width="596.40" height="8.12" fill="url(#ga25)"/>
<rect x="79.60" y="243.54" width="596.40" height="8.12" fill="url(#ga26)"/>
<rect x="79.60" y="251.06" width="596.40" height="8.12" fill="url(#ga27)"/>
<rect x="79.60" y="258.58" width="596.40" height="8.12" fill="url(#ga28)"/>
<rect x="79.60" y="266.10" width="596.40" height="8.12" fill="url(#ga29)"/>
<rect x="79.60" y="273.62" width="596.40" height="8.12" fill="url(#ga30)"/>
<rect x="79.60" y="281.15" width="596.40" height="8.12" fill="url(#ga31)"/>
<rect x="79.60" y="288.67" width="596.40" height="8.12" fill="url(#ga32)"/>
<rect x="79.60" y="296.19" width="596.40" height="8.12" fill="url(#ga33)"/>
<rect x="79.60" y="303.71" width="596.40" height="8.12" fill="url(#ga34)"/>
<rect x="79.60" y="311.23" width="596.40" height="8.12" fill="url(#ga35)"/>
<rect x="79.60" y="318.75" width="596.40" height="8.12" fill="url(#ga36)"/>
<rect x="79.60" y="326.27" width="596.40" height="8.12" fill="url(#ga37)"/>
<rect x="79.60" y="333.79" width="596.40" height="8.12" fill="url(#ga38)"/>
<rect x="79.60" y="341.31" width="596.40" height="8.12" fill="url(#ga39)"/>
<rect x="79.60" y="348.83" width="596.40" height="8.12" fill="url(#ga40)"/>
<rect x="79.60" y="356.35" width="596.40" height="8.12" fill="url(#ga41)"/>
<rect x="79.60" y="363.88" width="596.40" height="8.12" fill="url(#ga42)"/>
<rect x="79.60" y="371.40" width="596.40" height="8.12" fill="url(#ga43)"/>
<rect x="79.60" y="378.92" width="596.40" height="8.12" fill="url(#ga44)"/>
<rect x="79.60" y="386.44" width="596.40" height="8.12" fill="url(#ga45)"/>
<rect x="79.60" y="393.96" width="596.40" height="8.12" fill="url(#ga46)"/>
<rect x="79.60" y="401.48" width="596.40" height="8.12" fill="url(#ga47)"/>
<rect x="79.60" y="409.00" width="596.40" height="8.12" fill="url(#ga48)"/>
<rect x="79.60" y="416.52" width="596.40" height="8.12" fill="url(#ga49)"/>
<rect x="79.60" y="424.04" width="596.40" height="8.12" fill="url(#ga50)"/>
<rect x="79.60" y="431.56" width="596.40" height="8.12" fill="url(#ga51)"/>
<rect x="79.60" y="439.08" width="596.40" height="8.12" fill="url(#ga52)"/>
<rect x="79.60" y="446.60" width="596.40" height="8.12" fill="url(#ga53)"/>
<rect x="79.60" y="454.12" width="596.40" height="8.12" fill="url(#ga54)"/>
<rect x="79.60" y="461.65" width="596.40" height="8.12" fill="url(#ga55)"/>
<rect x="79.60" y="469.17" width="596.40" height="8.12" fill="url(#ga56)"/>
<rect x="79.60" y="476.69" width="596.40" height="8.12" fill="url(#ga57)"/>
<rect x="79.60" y="484.21" width="596.40" height="8.12" fill="url(#ga58)"/>
<rect x="79.60" y="491.73" width="596.40" height="8.12" fill="url(#ga59)"/>
<rect x="79.60" y="499.25" width="596.40" height="8.12" fill="url(#ga60)"/>
<rect x="79.60" y="506.77" width="596.40" height="8.12" fill="url(#ga61)"/>
<rect x="79.60" y="514.29" width="596.40" height="8.12" fill="url(#ga62)"/>
<rect x="79.60" y="521.81" width="596.40" height="8.12" fill="url(#ga63)"/>
<rect x="79.60" y="529.33" width="596.40" height="8.12" fill="url(#ga64)"/>
<rect x="79.60" y="536.85" width="596.40" height="8.12" fill="url(#ga65)"/>
<rect x="79.60" y="544.38" width="596.40" height="8.12" fill="url(#ga66)"/>
<rect x="79.60" y="551.90" width="596.40" height="8.12" fill="url(#ga67)"/>
<rect x="79.60" y="559.42" width="596.40" height="8.12" fill="url(#ga68)"/>
<rect x="79.60" y="566.94" width="596.40" height="8.12" fill="url(#ga69)"/>
<rect x="79.60" y="574.46" width="596.40" height="8.12" fill="url(#ga70)"/>
<rect x="79.60" y="581.98" width="596.40" height="8.12" fill="url(#ga71)"/></g>
<g><rect x="834.00" y="49.00" width="596.50" height="8.13" fill="url(#gb0)"/>
<rect x="834.00" y="56.53" width="596.50" height="8.13" fill="url(#gb1)"/>
<rect x="834.00" y="64.06" width="596.50" height="8.13" fill="url(#gb2)"/>
<rect x="834.00" y="71.58" width="596.50" height="8.13" fill="url(#gb3)"/>
<rect x="834.00" y="79.11" width="596.50" height="8.13" fill="url(#gb4)"/>
<rect x="834.00" y="86.64" width="596.50" height="8.13" fill="url(#gb5)"/>
<rect x="834.00" y="94.17" width="596.50" height="8.13" fill="url(#gb6)"/>
<rect x="834.00" y="101.69" width="596.50" height="8.13" fill="url(#gb7)"/>
<rect x="834.00" y="109.22" width="596.50" height="8.13" fill="url(#gb8)"/>
<rect x="834.00" y="116.75" width="596.50" height="8.13" fill="url(#gb9)"/>
<rect x="834.00" y="124.28" width="596.50" height="8.13" fill="url(#gb10)"/>
<rect x="834.00" y="131.81" width="596.50" height="8.13" fill="url(#gb11)"/>
<rect x="834.00" y="139.33" width="596.50" height="8.13" fill="url(#gb12)"/>
<rect x="834.00" y="146.86" width="596.50" height="8.13" fill="url(#gb13)"/>
<rect x="834.00" y="154.39" width="596.50" height="8.13" fill="url(#gb14)"/>
<rect x="834.00" y="161.92" width="596.50" height="8.13" fill="url(#gb15)"/>
<rect x="834.00" y="169.44" width="596.50" height="8.13" fill="url(#gb16)"/>
<rect x="834.00" y="176.97" width="596.50" height="8.13" fill="url(#gb17)"/>
<rect x="834.00" y="184.50" width="596.50" height="8.13" fill="url(#gb18)"/>
<rect x="834.00" y="192.03" width="596.50" height="8.13" fill="url(#gb19)"/>
<rect x="834.00" y="199.56" width="596.50" height="8.13" fill="url(#gb20)"/>
<rect x="834.00" y="207.08" width="596.50" height="8.13" fill="url(#gb21)"/>
<rect x="834.00" y="214.61" width="596.50" height="8.13" fill="url(#gb22)"/>
<rect x="834.00" y="222.14" width="596.50" height="8.13" fill="url(#gb23)"/>
<rect x="834.00" y="229.67" width="596.50" height="8.13" fill="url(#gb24)"/>
<rect x="834.00" y="237.19" width="596.50" height="8.13" fill="url(#gb25)"/>
<rect x="834.00" y="244.72" width="596.50" height="8.13" fill="url(#gb26)"/>
<rect x="834.00" y="252.25" width="596.50" height="8.13" fill="url(#gb27)"/>
<rect x="834.00" y="259.78" width="596.50" height="8.13" fill="url(#gb28)"/>
<rect x="834.00" y="267.31" width="596.50" height="8.13" fill="url(#gb29)"/>
<rect x="834.00" y="274.83" width="596.50" height="8.13" fill="url(#gb30)"/>
<rect x="834.00" y="282.36" width="596.50" height="8.13" fill="url(#gb31)"/>
<rect x="834.00" y="289.89" width="596.50" height="8.13" fill="url(#gb32)"/>
<rect x="834.00" y="297.42" width="596.50" height="8.13" fill="url(#gb33)"/>
<rect x="834.00" y="304.94" width="596.50" height="8.13" fill="url(#gb34)"/>
<rect x="834.00" y="312.47" width="596.50" height="8.13" fill="url(#gb35)"/>
<rect x="834.00" y="320.00" width="596.50" height="8.13" fill="url(#gb36)"/>
<rect x="834.00" y="327.53" width="596.50" height="8.13" fill="url(#gb37)"/>
<rect x="834.00" y="335.06" width="596.50" height="8.13" fill="url(#gb38)"/>
<rect x="834.00" y="342.58" width="596.50" height="8.13" fill="url(#gb39)"/>
<rect x="834.00" y="350.11" width="596.50" height="8.13" fill="url(#gb40)"/>
<rect x="834.00" y="357.64" width="596.50" height="8.13" fill="url(#gb41)"/>
<rect x="834.00" y="365.17" width="596.50" height="8.13" fill="url(#gb42)"/>
<rect x="834.00" y="372.69" width="596.50" height="8.13" fill="url(#gb43)"/>
<rect x="834.00" y="380.22" width="596.50" height="8.13" fill="url(#gb44)"/>
<rect x="834.00" y="387.75" width="596.50" height="8.13" fill="url(#gb45)"/>
<rect x="834.00" y="395.28" width="596.50" height="8.13" fill="url(#gb46)"/>
<rect x="834.00" y="402.81" width="596.50" height="8.13" fill="url(#gb47)"/>
<rect x="834.00" y="410.33" width="596.50" height="8.13" fill="url(#gb48)"/>
<rect x="834.00" y="417.86" width="596.50" height="8.13" fill="url(#gb49)"/>
<rect x="834.00" y="425.39" width="596.50" height="8.13" fill="url(#gb50)"/>
<rect x="834.00" y="432.92" width="596.50" height="8.13" fill="url(#gb51)"/>
<rect x="834.00" y="440.44" width="596.50" height="8.13" fill="url(#gb52)"/>
<rect x="834.00" y="447.97" width="596.50" height="8.13" fill="url(#gb53)"/>
<rect x="834.00" y="455.50" width="596.50" height="8.13" fill="url(#gb54)"/>
<rect x="834.00" y="463.03" width="596.50" height="8.13" fill="url(#gb55)"/>
<rect x="834.00" y="470.56" width="596.50" height="8.13" fill="url(#gb56)"/>
<rect x="834.00" y="478.08" width="596.50" height="8.13" fill="url(#gb57)"/>
<rect x="834.00" y="485.61" width="596.50" height="8.13" fill="url(#gb58)"/>
<rect x="834.00" y="493.14" width="596.50" height="8.13" fill="url(#gb59)"/>
<rect x="834.00" y="500.67" width="596.50" height="8.13" fill="url(#gb60)"/>
<rect x="834.00" y="508.19" width="596.50" height="8.13" fill="url(#gb61)"/>
<rect x="834.00" y="515.72" width="596.50" height="8.13" fill="url(#gb62)"/>
<rect x="834.00" y="523.25" width="596.50" height="8.13" fill="url(#gb63)"/>
<rect x="834.00" y="530.78" width="596.50" height="8.13" fill="url(#gb64)"/>
<rect x="834.00" y="538.31" width="596.50" height="8.13" fill="url(#gb65)"/>
<rect x="834.00" y="545.83" width="596.50" height="8.13" fill="url(#gb66)"/>
<rect x="834.00" y="553.36" width="596.50" height="8.13" fill="url(#gb67)"/>
<rect x="834.00" y="560.89" width="596.50" height="8.13" fill="url(#gb68)"/>
<rect x="834.00" y="568.42" width="596.50" height="8.13" fill="url(#gb69)"/>
<rect x="834.00" y="575.94" width="596.50" height="8.13" fill="url(#gb70)"/>
<rect x="834.00" y="583.47" width="596.50" height="8.13" fill="url(#gb71)"/></g>
<g><rect x="697.00" y="581.04" width="28.00" height="8.86" fill="#000087"/>
<rect x="697.00" y="572.58" width="28.00" height="8.86" fill="#000097"/>
<rect x="697.00" y="564.12" width="28.00" height="8.86" fill="#0000a7"/>
<rect x="697.00" y="555.66" width="28.00" height="8.86" fill="#0000b7"/>
<rect x="697.00" y="547.20" width="28.00" height="8.86" fill="#0000c7"/>
<rect x="697.00" y="538.73" width="28.00" height="8.86" fill="#0000d7"/>
<rect x="697.00" y="530.27" width="28.00" height="8.86" fill="#0000e7"/>
<rect x="697.00" y="521.81" width="28.00" height="8.86" fill="#0000f7"/>
<rect x="697.00" y="513.35" width="28.00" height="8.86" fill="#0008ff"/>
<rect x="697.00" y="504.89" width="28.00" height="8.86" fill="#0018ff"/>
<rect x="697.00" y="496.43" width="28.00" height="8.86" fill="#0028ff"/>
<rect x="697.00" y="487.97" width="28.00" height="8.86" fill="#0038ff"/>
<rect x="697.00" y="479.51" width="28.00" height="8.86" fill="#0048ff"/>
<rect x="697.00" y="471.05" width="28.00" height="8.86" fill="#0058ff"/>
<rect x="697.00" y="462.59" width="28.00" height="8.86" fill="#0068ff"/>
<rect x="697.00" y="454.12" width="28.00" height="8.86" fill="#0078ff"/>
<rect x="697.00" y="445.66" width="28.00" height="8.86" fill="#0087ff"/>
<rect x="697.00" y="437.20" width="28.00" height="8.86" fill="#0097ff"/>
<rect x="697.00" y="428.74" width="28.00" height="8.86" fill="#00a7ff"/>
<rect x="697.00" y="420.28" width="28.00" height="8.86" fill="#00b7ff"/>
<rect x="697.00" y="411.82" width="28.00" height="8.86" fill="#00c7ff"/>
<rect x="697.00" y="403.36" width="28.00" height="8.86" fill="#00d7ff"/>
<rect x="697.00" y="394.90" width="28.00" height="8.86" fill="#00e7ff"/>
<rect x="697.00" y="386.44" width="28.00" height="8.86" fill="#00f7ff"/>
<rect x="697.00" y="377.98" width="28.00" height="8.86" fill="#08fff7"/>
<rect x="697.00" y="369.52" width="28.00" height="8.86" fill="#18ffe7"/>
<rect x="697.00" y="361.05" width="28.00" height="8.86" fill="#28ffd7"/>
<rect x="697.00" y="352.59" width="28.00" height="8.86" fill="#38ffc7"/>
<rect x="697.00" y="344.13" width="28.00" height="8.86" fill="#48ffb7"/>
<rect x="697.00" y="335.67" width="28.00" height="8.86" fill="#58ffa7"/>
<rect x="697.00" y="327.21" width="28.00" height="8.86" fill="#68ff97"/>
<rect x="697.00" y="318.75" width="28.00" height="8.86" fill="#78ff87"/>
<rect x="697.00" y="310.29" width="28.00" height="8.86" fill="#87ff78"/>
<rect x="697.00" y="301.83" width="28.00" height="8.86" fill="#97ff68"/>
<rect x="697.00" y="293.37" width="28.00" height="8.86" fill="#a7ff58"/>
<rect x="697.00" y="284.91" width="28.00" height="8.86" fill="#b7ff48"/>
<rect x="697.00" y="276.45" width="28.00" height="8.86" fill="#c7ff38"/>
<rect x="697.00" y="267.98" width="28.00" height="8.86" fill="#d7ff28"/>
<rect x="697.00" y="259.52" width="28.00" height="8.86" fill="#e7ff18"/>
<rect x="697.00" y="251.06" width="28.00" height="8.86" fill="#f7ff08"/>
<rect x="697.00" y="242.60" width="28.00" height="8.86" fill="#fff700"/>
<rect x="697.00" y="234.14" width="28.00" height="8.86" fill="#ffe700"/>
<rect x="697.00" y="225.68" width="28.00" height="8.86" fill="#ffd700"/>
<rect x="697.00" y="217.22" width="28.00" height="8.86" fill="#ffc700"/>
<rect x="697.00" y="208.76" width="28.00" height="8.86" fill="#ffb700"/>
<rect x="697.00" y="200.30" width="28.00" height="8.86" fill="#ffa700"/>
<rect x="697.00" y="191.84" width="28.00" height="8.86" fill="#ff9700"/>
<rect x="697.00" y="183.38" width="28.00" height="8.86" fill="#ff8700"/>
<rect x="697.00" y="174.91" width="28.00" height="8.86" fill="#ff7800"/>
<rect x="697.00" y="166.45" width="28.00" height="8.86" fill="#ff6800"/>
<rect x="697.00" y="157.99" width="28.00" height="8.86" fill="#ff5800"/>
<rect x="697.00" y="149.53" width="28.00" height="8.86" fill="#ff4800"/>
<rect x="697.00" y="141.07" width="28.00" height="8.86" fill="#ff3800"/>
<rect x="697.00" y="132.61" width="28.00" height="8.86" fill="#ff2800"/>
<rect x="697.00" y="124.15" width="28.00" height="8.86" fill="#ff1800"/>
<rect x="697.00" y="115.69" width="28.00" height="8.86" fill="#ff0800"/>
<rect x="697.00" y="107.23" width="28.00" height="8.86" fill="#f70000"/>
<rect x="697.00" y="98.77" width="28.00" height="8.86" fill="#e70000"/>
<rect x="697.00" y="90.30" width="28.00" height="8.86" fill="#d70000"/>
<rect x="697.00" y="81.84" width="28.00" height="8.86" fill="#c70000"/>
<rect x="697.00" y="73.38" width="28.00" height="8.86" fill="#b70000"/>
<rect x="697.00" y="64.92" width="28.00" height="8.86" fill="#a70000"/>
<rect x="697.00" y="56.46" width="28.00" height="8.86" fill="#970000"/>
<rect x="697.00" y="48.00" width="28.00" height="8.86" fill="#870000"/></g>
<g><rect x="1451.50" y="582.54" width="28.20" height="8.86" fill="#000087"/>
<rect x="1451.50" y="574.07" width="28.20" height="8.86" fill="#000097"/>
<rect x="1451.50" y="565.61" width="28.20" height="8.86" fill="#0000a7"/>
<rect x="1451.50" y="557.14" width="28.20" height="8.86" fill="#0000b7"/>
<rect x="1451.50" y="548.68" width="28.20" height="8.86" fill="#0000c7"/>
<rect x="1451.50" y="540.22" width="28.20" height="8.86" fill="#0000d7"/>
<rect x="1451.50" y="531.75" width="28.20" height="8.86" fill="#0000e7"/>
<rect x="1451.50" y="523.29" width="28.20" height="8.86" fill="#0000f7"/>
<rect x="1451.50" y="514.82" width="28.20" height="8.86" fill="#0008ff"/>
<rect x="1451.50" y="506.36" width="28.20" height="8.86" fill="#0018ff"/>
<rect x="1451.50" y="497.90" width="28.20" height="8.86" fill="#0028ff"/>
<rect x="1451.50" y="489.43" width="28.20" height="8.86" fill="#0038ff"/>
<rect x="1451.50" y="480.97" width="28.20" height="8.86" fill="#0048ff"/>
<rect x="1451.50" y="472.50" width="28.20" height="8.86" fill="#0058ff"/>
<rect x="1451.50" y="464.04" width="28.20" height="8.86" fill="#0068ff"/>
<rect x="1451.50" y="455.57" width="28.20" height="8.86" fill="#0078ff"/>
<rect x="1451.50" y="447.11" width="28.20" height="8.86" fill="#0087ff"/>
<rect x="1451.50" y="438.65" width="28.20" height="8.86" fill="#0097ff"/>
<rect x="1451.50" y="430.18" width="28.20" height="8.86" fill="#00a7ff"/>
<rect x="1451.50" y="421.72" width="28.20" height="8.86" fill="#00b7ff"/>
<rect x="1451.50" y="413.25" width="28.20" height="8.86" fill="#00c7ff"/>
<rect x="1451.50" y="404.79" width="28.20" height="8.86" fill="#00d7ff"/>
<rect x="1451.50" y="396.33" width="28.20" height="8.86" fill="#00e7ff"/>
<rect x="1451.50" y="387.86" width="28.20" height="8.86" fill="#00f7ff"/>
<rect x="1451.50" y="379.40" width="28.20" height="8.86" fill="#08fff7"/>
<rect x="1451.50" y="370.93" width="28.20" height="8.86" fill="#18ffe7"/>
<rect x="1451.50" y="362.47" width="28.20" height="8.86" fill="#28ffd7"/>
<rect x="1451.50" y="354.01" width="28.20" height="8.86" fill="#38ffc7"/>
<rect x="1451.50" y="345.54" width="28.20" height="8.86" fill="#48ffb7"/>
<rect x="1451.50" y="337.08" width="28.20" height="8.86" fill="#58ffa7"/>
<rect x="1451.50" y="328.61" width="28.20" height="8.86" fill="#68ff97"/>
<rect x="1451.50" y="320.15" width="28.20" height="8.86" fill="#78ff87"/>
<rect x="1451.50" y="311.69" width="28.20" height="8.86" fill="#87ff78"/>
<rect x="1451.50" y="303.22" width="28.20" height="8.86" fill="#97ff68"/>
<rect x="1451.50" y="294.76" width="28.20" height="8.86" fill="#a7ff58"/>
<rect x="1451.50" y="286.29" width="28.20" height="8.86" fill="#b7ff48"/>
<rect x="1451.50" y="277.83" width="28.20" height="8.86" fill="#c7ff38"/>
<rect x="1451.50" y="269.37" width="28.20" height="8.86" fill="#d7ff28"/>
<rect x="1451.50" y="260.90" width="28.20" height="8.86" fill="#e7ff18"/>
<rect x="1451.50" y="252.44" width="28.20" height="8.86" fill="#f7ff08"/>
<rect x="1451.50" y="243.97" width="28.20" height="8.86" fill="#fff700"/>
<rect x="1451.50" y="235.51" width="28.20" height="8.86" fill="#ffe700"/>
<rect x="1451.50" y="227.05" width="28.20" height="8.86" fill="#ffd700"/>
<rect x="1451.50" y="218.58" width="28.20" height="8.86" fill="#ffc700"/>
<rect x="1451.50" y="210.12" width="28.20" height="8.86" fill="#ffb700"/>
<rect x="1451.50" y="201.65" width="28.20" height="8.86" fill="#ffa700"/>
<rect x="1451.50" y="193.19" width="28.20" height="8.86" fill="#ff9700"/>
<rect x="1451.50" y="184.72" width="28.20" height="8.86" fill="#ff8700"/>
<rect x="1451.50" y="176.26" width="28.20" height="8.86" fill="#ff7800"/>
<rect x="1451.50" y="167.80" width="28.20" height="8.86" fill="#ff6800"/>
<rect x="1451.50" y="159.33" width="28.20" height="8.86" fill="#ff5800"/>
<rect x="1451.50" y="150.87" width="28.20" height="8.86" fill="#ff4800"/>
<rect x="1451.50" y="142.40" width="28.20" height="8.86" fill="#ff3800"/>
<rect x="1451.50" y="133.94" width="28.20" height="8.86" fill="#ff2800"/>
<rect x="1451.50" y="125.48" width="28.20" height="8.86" fill="#ff1800"/>
<rect x="1451.50" y="117.01" width="28.20" height="8.86" fill="#ff0800"/>
<rect x="1451.50" y="108.55" width="28.20" height="8.86" fill="#f70000"/>
<rect x="1451.50" y="100.08" width="28.20" height="8.86" fill="#e70000"/>
<rect x="1451.50" y="91.62" width="28.20" height="8.86" fill="#d70000"/>
<rect x="1451.50" y="83.16" width="28.20" height="8.86" fill="#c70000"/>
<rect x="1451.50" y="74.69" width="28.20" height="8.86" fill="#b70000"/>
<rect x="1451.50" y="66.23" width="28.20" height="8.86" fill="#a70000"/>
<rect x="1451.50" y="57.76" width="28.20" height="8.86" fill="#970000"/>
<rect x="1451.50" y="49.30" width="28.20" height="8.86" fill="#870000"/></g>
<g shape-rendering="auto">
<rect x="79.60" y="48.00" width="596.40" height="541.50" fill="none" stroke="#111" stroke-width="1.2" opacity="0.85"/>
<line x1="79.60" y1="589.50" x2="79.60" y2="583.00" stroke="#111" stroke-width="1.3"/>
<line x1="79.60" y1="48.00" x2="79.60" y2="54.50" stroke="#111" stroke-width="1.3"/>
<text x="73.60" y="631.50" text-anchor="middle" class="tk">-20</text>
<line x1="228.70" y1="589.50" x2="228.70" y2="583.00" stroke="#111" stroke-width="1.3"/>
<line x1="228.70" y1="48.00" x2="228.70" y2="54.50" stroke="#111" stroke-width="1.3"/>
<text x="222.70" y="631.50" text-anchor="middle" class="tk">-10</text>
<line x1="377.80" y1="589.50" x2="377.80" y2="583.00" stroke="#111" stroke-width="1.3"/>
<line x1="377.80" y1="48.00" x2="377.80" y2="54.50" stroke="#111" stroke-width="1.3"/>
<text x="377.80" y="631.50" text-anchor="middle" class="tk">0</text>
<line x1="526.90" y1="589.50" x2="526.90" y2="583.00" stroke="#111" stroke-width="1.3"/>
<line x1="526.90" y1="48.00" x2="526.90" y2="54.50" stroke="#111" stroke-width="1.3"/>
<text x="526.90" y="631.50" text-anchor="middle" class="tk">10</text>
<line x1="676.00" y1="589.50" x2="676.00" y2="583.00" stroke="#111" stroke-width="1.3"/>
<line x1="676.00" y1="48.00" x2="676.00" y2="54.50" stroke="#111" stroke-width="1.3"/>
<text x="676.00" y="631.50" text-anchor="middle" class="tk">20</text>
<line x1="79.60" y1="48.00" x2="86.10" y2="48.00" stroke="#111" stroke-width="1.3"/>
<line x1="676.00" y1="48.00" x2="669.50" y2="48.00" stroke="#111" stroke-width="1.3"/>
<text x="76.20" y="63.50" text-anchor="end" class="tk">0</text>
<line x1="79.60" y1="183.38" x2="86.10" y2="183.38" stroke="#111" stroke-width="1.3"/>
<line x1="676.00" y1="183.38" x2="669.50" y2="183.38" stroke="#111" stroke-width="1.3"/>
<text x="76.20" y="198.88" text-anchor="end" class="tk">0.5</text>
<line x1="79.60" y1="318.75" x2="86.10" y2="318.75" stroke="#111" stroke-width="1.3"/>
<line x1="676.00" y1="318.75" x2="669.50" y2="318.75" stroke="#111" stroke-width="1.3"/>
<text x="76.20" y="334.25" text-anchor="end" class="tk">1</text>
<line x1="79.60" y1="454.12" x2="86.10" y2="454.12" stroke="#111" stroke-width="1.3"/>
<line x1="676.00" y1="454.12" x2="669.50" y2="454.12" stroke="#111" stroke-width="1.3"/>
<text x="76.20" y="469.62" text-anchor="end" class="tk">1.5</text>
<line x1="79.60" y1="589.50" x2="86.10" y2="589.50" stroke="#111" stroke-width="1.3"/>
<line x1="676.00" y1="589.50" x2="669.50" y2="589.50" stroke="#111" stroke-width="1.3"/>
<text x="76.20" y="605.00" text-anchor="end" class="tk">2</text>
<text x="377.80" y="669.50" text-anchor="middle" class="lb">Detuning (MHz)</text>
<text transform="translate(25.60,319.75) rotate(-90)" text-anchor="middle" class="yl"><tspan font-style="italic">θ</tspan><tspan dx="-2"> (</tspan><tspan font-style="italic">π</tspan>)</text>
<text x="88.10" y="99.00" class="pn">(a)</text>
<text x="662.00" y="566.00" text-anchor="end" class="kt">k=2MHz/<tspan font-style="italic">μs</tspan></text>
<rect x="834.00" y="49.00" width="596.50" height="542.00" fill="none" stroke="#111" stroke-width="1.2" opacity="0.85"/>
<line x1="834.00" y1="591.00" x2="834.00" y2="584.50" stroke="#111" stroke-width="1.3"/>
<line x1="834.00" y1="49.00" x2="834.00" y2="55.50" stroke="#111" stroke-width="1.3"/>
<text x="828.00" y="633.00" text-anchor="middle" class="tk">-20</text>
<line x1="983.12" y1="591.00" x2="983.12" y2="584.50" stroke="#111" stroke-width="1.3"/>
<line x1="983.12" y1="49.00" x2="983.12" y2="55.50" stroke="#111" stroke-width="1.3"/>
<text x="977.12" y="633.00" text-anchor="middle" class="tk">-10</text>
<line x1="1132.25" y1="591.00" x2="1132.25" y2="584.50" stroke="#111" stroke-width="1.3"/>
<line x1="1132.25" y1="49.00" x2="1132.25" y2="55.50" stroke="#111" stroke-width="1.3"/>
<text x="1132.25" y="633.00" text-anchor="middle" class="tk">0</text>
<line x1="1281.38" y1="591.00" x2="1281.38" y2="584.50" stroke="#111" stroke-width="1.3"/>
<line x1="1281.38" y1="49.00" x2="1281.38" y2="55.50" stroke="#111" stroke-width="1.3"/>
<text x="1281.38" y="633.00" text-anchor="middle" class="tk">10</text>
<line x1="1430.50" y1="591.00" x2="1430.50" y2="584.50" stroke="#111" stroke-width="1.3"/>
<line x1="1430.50" y1="49.00" x2="1430.50" y2="55.50" stroke="#111" stroke-width="1.3"/>
<text x="1430.50" y="633.00" text-anchor="middle" class="tk">20</text>
<line x1="834.00" y1="49.00" x2="840.50" y2="49.00" stroke="#111" stroke-width="1.3"/>
<line x1="1430.50" y1="49.00" x2="1424.00" y2="49.00" stroke="#111" stroke-width="1.3"/>
<text x="830.60" y="64.50" text-anchor="end" class="tk">0</text>
<line x1="834.00" y1="184.50" x2="840.50" y2="184.50" stroke="#111" stroke-width="1.3"/>
<line x1="1430.50" y1="184.50" x2="1424.00" y2="184.50" stroke="#111" stroke-width="1.3"/>
<text x="830.60" y="200.00" text-anchor="end" class="tk">0.5</text>
<line x1="834.00" y1="320.00" x2="840.50" y2="320.00" stroke="#111" stroke-width="1.3"/>
<line x1="1430.50" y1="320.00" x2="1424.00" y2="320.00" stroke="#111" stroke-width="1.3"/>
<text x="830.60" y="335.50" text-anchor="end" class="tk">1</text>
<line x1="834.00" y1="455.50" x2="840.50" y2="455.50" stroke="#111" stroke-width="1.3"/>
<line x1="1430.50" y1="455.50" x2="1424.00" y2="455.50" stroke="#111" stroke-width="1.3"/>
<text x="830.60" y="471.00" text-anchor="end" class="tk">1.5</text>
<line x1="834.00" y1="591.00" x2="840.50" y2="591.00" stroke="#111" stroke-width="1.3"/>
<line x1="1430.50" y1="591.00" x2="1424.00" y2="591.00" stroke="#111" stroke-width="1.3"/>
<text x="830.60" y="606.50" text-anchor="end" class="tk">2</text>
<text x="1127.75" y="669.50" text-anchor="middle" class="lb">Detuning (MHz)</text>
<text transform="translate(780.00,319.00) rotate(-90)" text-anchor="middle" class="yl"><tspan font-style="italic">θ</tspan><tspan dx="-2"> (</tspan><tspan font-style="italic">π</tspan>)</text>
<text x="845.50" y="107.50" class="pn">(b)</text>
<text x="1420.50" y="564.50" text-anchor="end" class="kt">k=50MHz/<tspan font-style="italic">μs</tspan></text>
<rect x="697.00" y="48.00" width="28.00" height="541.50" fill="none" stroke="#222" stroke-width="1" opacity="0.8"/>
<line x1="697.00" y1="518.40" x2="701.00" y2="518.40" stroke="#222" stroke-width="1.1"/>
<line x1="725.00" y1="518.40" x2="721.00" y2="518.40" stroke="#222" stroke-width="1.1"/>
<text x="728.50" y="533.20" class="tk">1</text>
<line x1="697.00" y1="376.40" x2="701.00" y2="376.40" stroke="#222" stroke-width="1.1"/>
<line x1="725.00" y1="376.40" x2="721.00" y2="376.40" stroke="#222" stroke-width="1.1"/>
<text x="728.50" y="391.20" class="tk">2</text>
<line x1="697.00" y1="234.40" x2="701.00" y2="234.40" stroke="#222" stroke-width="1.1"/>
<line x1="725.00" y1="234.40" x2="721.00" y2="234.40" stroke="#222" stroke-width="1.1"/>
<text x="728.50" y="249.20" class="tk">3</text>
<line x1="697.00" y1="92.40" x2="701.00" y2="92.40" stroke="#222" stroke-width="1.1"/>
<line x1="725.00" y1="92.40" x2="721.00" y2="92.40" stroke="#222" stroke-width="1.1"/>
<text x="728.50" y="107.20" class="tk">4</text>
<rect x="1451.50" y="49.30" width="28.20" height="541.70" fill="none" stroke="#222" stroke-width="1" opacity="0.8"/>
<line x1="1451.50" y1="516.70" x2="1455.50" y2="516.70" stroke="#222" stroke-width="1.1"/>
<line x1="1479.70" y1="516.70" x2="1475.70" y2="516.70" stroke="#222" stroke-width="1.1"/>
<text x="1483.20" y="531.50" class="tk">1</text>
<line x1="1451.50" y1="411.95" x2="1455.50" y2="411.95" stroke="#222" stroke-width="1.1"/>
<line x1="1479.70" y1="411.95" x2="1475.70" y2="411.95" stroke="#222" stroke-width="1.1"/>
<text x="1483.20" y="426.75" class="tk">2</text>
<line x1="1451.50" y1="307.20" x2="1455.50" y2="307.20" stroke="#222" stroke-width="1.1"/>
<line x1="1479.70" y1="307.20" x2="1475.70" y2="307.20" stroke="#222" stroke-width="1.1"/>
<text x="1483.20" y="322.00" class="tk">3</text>
<line x1="1451.50" y1="202.45" x2="1455.50" y2="202.45" stroke="#222" stroke-width="1.1"/>
<line x1="1479.70" y1="202.45" x2="1475.70" y2="202.45" stroke="#222" stroke-width="1.1"/>
<text x="1483.20" y="217.25" class="tk">4</text>
<line x1="1451.50" y1="97.70" x2="1455.50" y2="97.70" stroke="#222" stroke-width="1.1"/>
<line x1="1479.70" y1="97.70" x2="1475.70" y2="97.70" stroke="#222" stroke-width="1.1"/>
<text x="1483.20" y="112.50" class="tk">5</text>
<text x="1479.5" y="43.5" class="tk">x 10<tspan dx="-0.5" dy="-25" font-size="27">-3</tspan></text>
</g>
</svg>
</body></html>
